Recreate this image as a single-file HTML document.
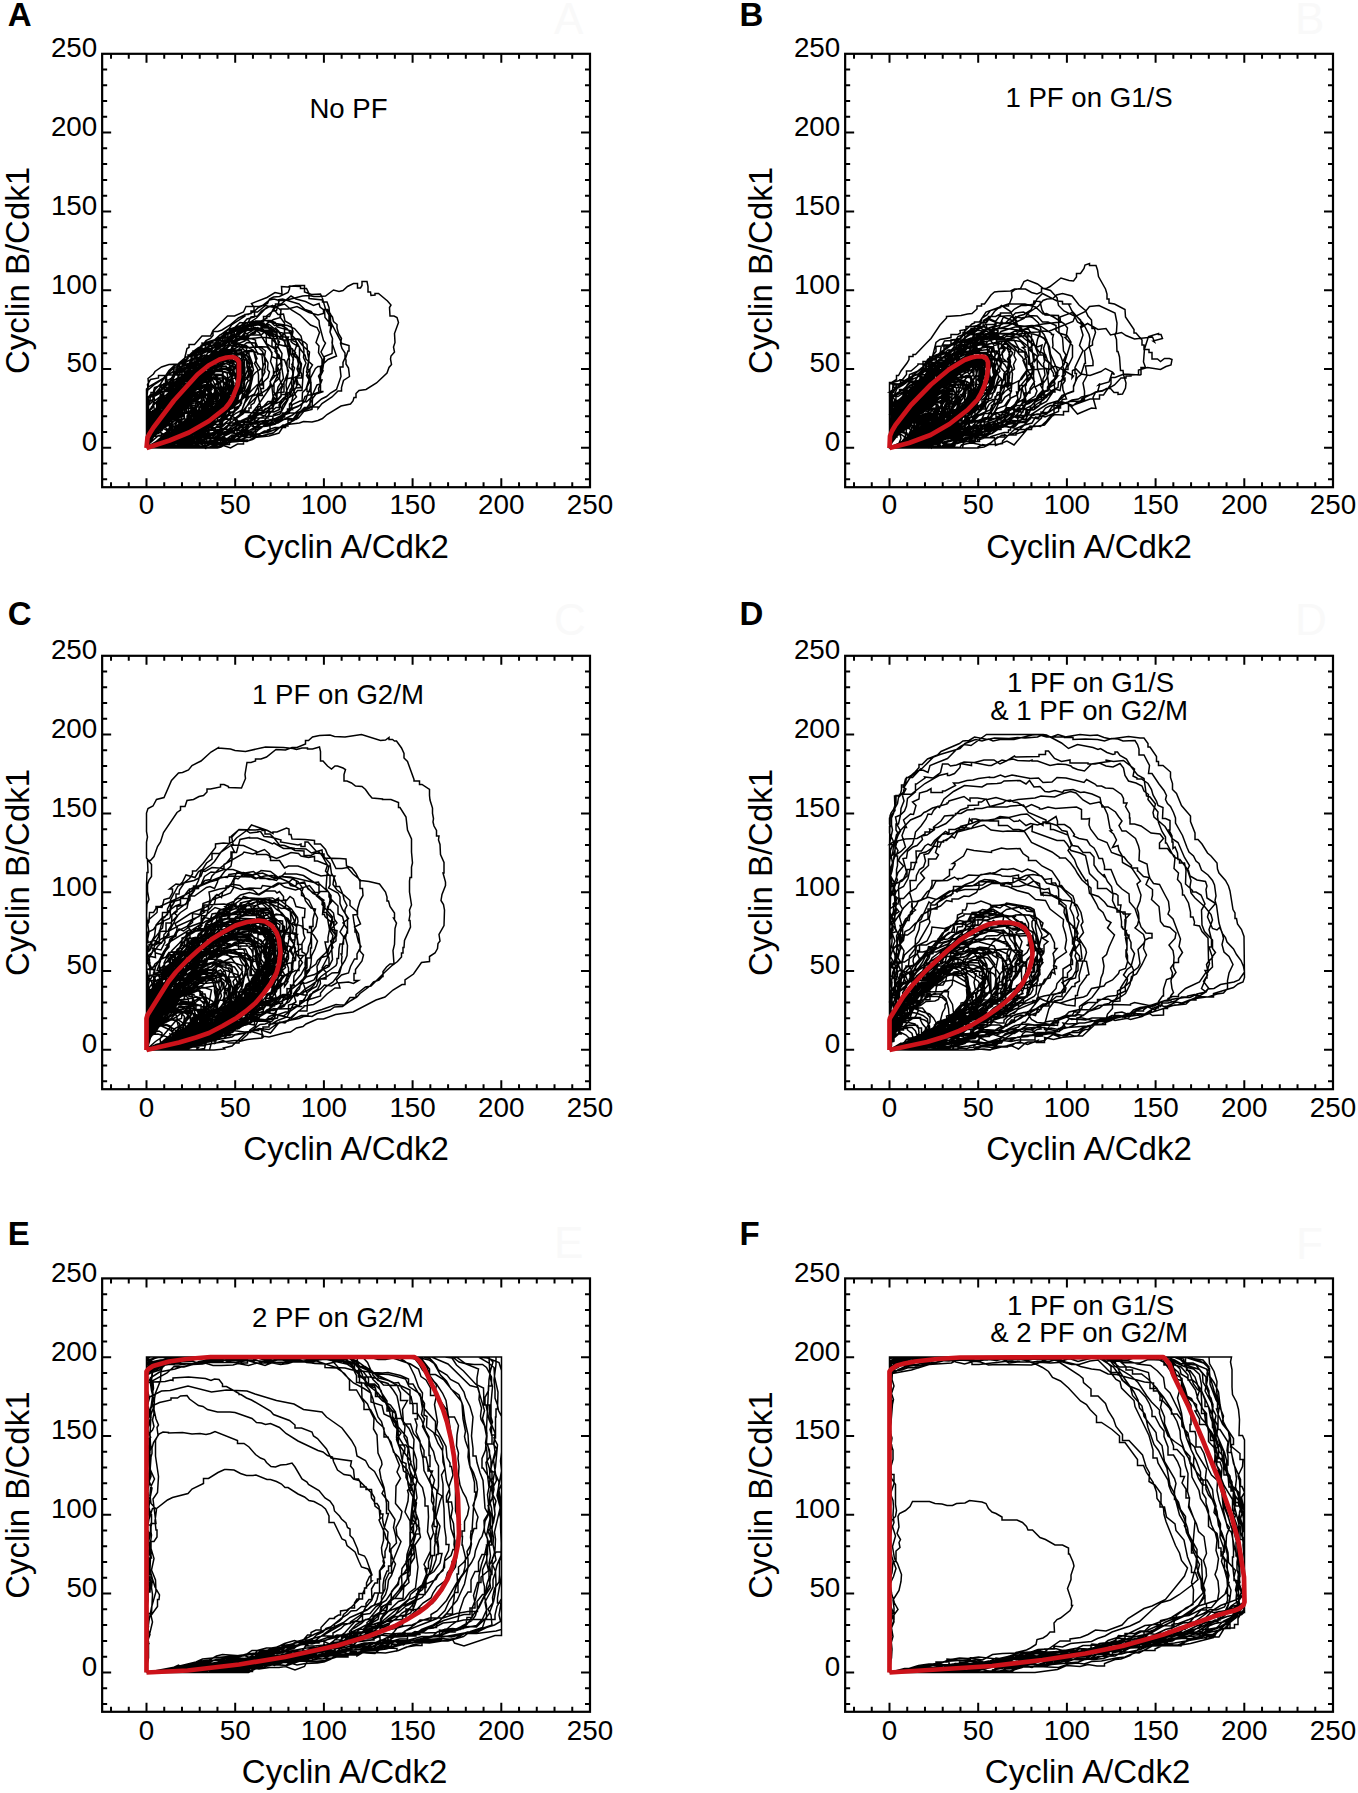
<!DOCTYPE html>
<html><head><meta charset="utf-8"><title>Cyclin phase plots</title><style>
html,body{margin:0;padding:0;background:#fff;}
body{width:1358px;height:1793px;overflow:hidden;}
svg{position:absolute;left:0;top:0;}
text{font-family:"Liberation Sans",sans-serif;fill:#000;}
.t{font-size:27.8px;}
.l{font-size:33px;}
.ti{font-size:27.6px;}
.p{font-size:33px;font-weight:bold;}
.fa{font-size:44px;fill:#f9f9f9;}
</style></head>
<body><svg width="1358" height="1793" viewBox="0 0 1358 1793">
<path d="M293 895l24-7 13-5 7-8 13 0 0-11 9-9 15-9 7-11 6-18-11 0 0-5-12 6-9 6-16 7-9 12-10 0 0 8-7 12-17 19-3 14M293 895l12-4 13 0 0-5 13-8 21-10 26-15 25-11 3-11 0-5 4-16-10 4-15 0 0 7-21 4-11 12-29 11-16 17-12 20-3 11M293 895l41-7 12-4 10-5 13-1 17-3 5-7 10-9 23-7 17-14 15-17 21-15 7-7 3-10 8-12 5-11 2-11 5-16-10-24-15-13-16-1-11 3-13 7-20 5-25 29-12 23-20 15-3 0 0 9-25 34-16 13-2 10-6 4-8 0 0 10-11 21-1 12M293 894l12-1 35-9 8-10 13-5 13-1 14-15 8 0 0-6 9-7 6-13 0-17 10-9-1-4-12-13-27 20-15 1-14 25-15 12-7 2-11 7-9 11-13 22-4 11M293 896l29-8 13-6 18-6 11-7 10-14 13-3 4-6-11-1-16 4-10 7-17 6-13 8-7 1-18 16-6 9M293 896l27-7 15-6 9-6 8-11 9-7 10-3 12-14 15-8 12-25-2-11-10-8-13-3-11 5-9 9-16 28-10 7-14 4-8 11-11 7-11 23-2 15M293 896l32-9 13-7 13-3 27-13 10-2 6-12 7-5 2-9 13-14 10-5 2-3 23-22 10-5 0-9-3 0 0-9 10-30-4-12-28-10-9 4-15 4-18 15-22 23-6 0 0 16-6 13-12 8-5 10-5 13-4 24-26 11-6 9-9 28M294 896l27-8 24-12 3-13 12-6 4-7 14 0-1-26 5 0 0-8-5-11-19 5-10 7-6 9-8 6-13 9-17 21-5 10-5 11 1 12M293 896l11-5 25-1 0-2 26-16 3-13 33-22 8 0 0-9 9-5 12-12 7-11 5-14-3 0 0-11 7-12-2-10-8-5-18 0 0 7-13 6-5 0 0 11-8 11-28 23-22 34-5 3-5 14-12 6-7 7-5 10-4 16M293 895l25-5 23-7 23-4 10-12 15-7 12-12 8-3 11-8 5-14 12-7 9 0 0-9 3 0 0-10 2-6 3-18 12-4-3-13-5-10-10-3-22 0-16 6-5 7-14 5-12 20-22 16-7 0 0 7-7 5-5 12-9 13-8 6-10 0 0 10-8 9-7 24-3 0 0 12M293 896l10-4 12 0 0-5 10 0 0-4 11-5 16-6 14-2 8-8 14 0 0-8 8-10 16-10 16-16 10-13 6 0 0-10-11-33 1-5-18 0-8 5-23 15-22 24-11 7-7 10-5 0 0 13-25 20-12 21-10 23M293 895l13-3 12 0 0-3 12-5 6-9 10-9 8-11 11-11 10-6 6-17 4-5-15 1-11 10-12 7-12 5-22 24-8 0 0 10-7 10-5 13M293 895l16-3 37-3 14-7 15-3 14 0 0-1 13-1 20-10 20 1 0-12 11-10 6 1 4-13 8-7 13-7 6-15 9-12 10-5 9-20 6 0 2-37-2-21-16-7-13 0-17 3-10 7-17 2-29 13-2 11-12 6-9 9-9 4-6 10-9 0 0 9-13 0-3 11-17 14-1 0 0 14-2 3-11 10-9 0 0 13-20 25-6 28M293 896l24-9 21-19 11-12 5-12 8-6 12 0 0-6 13-2-1-12-4-11-12-1-12 7-3 0 0 13-22 17-6 8-17 15-14 19-3 10M293 896l11-3 12-5 13 0 21-9 16-12 3-7 16-5 8-9 12-7 2-7 20-17 4-2 3-23 10-4 3-15-1-26-7-6-15 8-50 2-3 11-33 29-7 8-3 8-8 7-11 17 4 10-5 10-5 16-6 9-4 22M294 896l30-18 5-9 7-9 12-7 7 0 36-27 4-18-3-3-2-14-4-12-6-7-8 2-22 14-21 23-4 10-11 6-5 10-3 14-6 8-4 12-3 12 0 12M293 895l14-2 15-5 15-8 19-21 10-7 5-9 26-24 13-27-11-14-15 1-11 5-5 13-9 10-13 9-18 16-10 0 0 9-17 28-6 14-2 12M293 895l24-6 9-5 11-9 20-8 12 0 0-6 15-7 9-7 6-10 19-9 21-20 2-10-1-16-7-26-14 0-20 15-10 10-5 9-13 12-7 14-8 10-11 1-11 7-19 18-4 11-9 11-9 21M293 896l22-5 13 0 0-4 14-7 30-20 10 0 0 1 3-5 20-5 8-5 12-3 10-22 8-7 10-11 14-28 10-12 4-11 2-10 4-15-3-9-2-9-22-10-19 3-6 4-11 0-25 29-13 0 0 8-20 41-7 4-11 11-7 11-9 7-8 19-8 8-17 29-5 23M293 895l13-4 12 0 0-3 26-14 6-11 10 0 0-9 10-10 8-6 5-12 9 0 0-9 9-12 5-18-11-11-14 4-12 7-11 14-13 0 0 11-5 0 0 13-10 6-19 20-17 33 0 12M294 895l24-7 10-6 17-6 11-12 25-7 18-9 21-2 6-4 9 0 0-9 12-5 10-9-1-11 8-13 5-4 6-14 0-13-6-16-4 0 0-7-11-3-22 0 0 2-21 6-15 12-7 3-12 11-17 10-16 21-4 0 0 9-8 10-6 10-13 9-9 23-7 7-4 24M293 896l26-7 11-5 42-12 13-5 20-14 7-11 8 0 0-4 9-7 7-9 9-10 18-8 11-10 12-21 2-9-2-31-5-12-6-8-13-1-14 4-17-6-17 13-10 12-5 0 0 7-9 11-11 26-26 30-19 18-9 0 0 12-26 35-6 22M294 895l13-1 13-6 11-8 10 0 0-8 6-13 12 0 12-6 24-5 7 0 0 1 3-11 6-12 5 0 0-14 9-6 2-13-7-3-16 0 0 3-13 4-8 8-15 8-10 3-10 0-10 10-11 8-12 12-5 14-9 12-4 12-4 0 0 12M293 896l27-9 11-6 18-5 10-8 15-3 14-8 20-7 11-9 13-17 14-8 12-9 11-22 4 0 1-23-2-30-7-8-16-2-7 8-20 7-7 12-8 6-9 17-14 11-10 0 0 14-8 13-8 0 0 5-9 10-14 8-31 33-11 30M294 896l21-7 21-11 4 0 0-11 8-9 27-21 3-30-5-9-6-3-13 0 0 10-39 27-9 28-11 23-2 0 0 12M293 896l25-9 11-6 20-6 9-11 11-8 11 0 0-3 16-10 0-9 16-19 5 0 0-10 2 0 0-11-12-9-13 1-7 3-11 9-5 8-2 0 0 9-11 1-11 15-18 11-10 10-6 12-15 20-5 12M293 895l13-3 21-10 21-16 25-8 9-5 8 0 0-5 17-3 11 1 9-15 9 0 0-6 9-10 0-7 4-9 2-32-5-5-10 3-9 6-19 3-11 9-9 3-9 4-9 9-24 15-7 7-15 18-2 6-12 19-7 10-5 0 0 12-5 0 0 10M293 896l15-5 30-15 28-4 25-13 19-17 0-11 8-12 5 0 0-13-8 0 0-15-12 0 0 3-11 8-15 3-14 10-4 13-22 18-8 2-6 12-12 0 0 8-14 17-3 11M293 896l42-8 14 0 10-8 11 0 14-5 12-3 12-5 20-17 2-15-1-4 4-14-1-15-1-8-14-3-15-1-16 8-9 6-3 10-8 5-13 20-19 13-19 5-8 0 0 8-6 0 0 11-4 0 0 9-4 11M293 895l41-14 27-19 5-11 9-11 3-6 0-10-8 0-8 5-17 9-14 4-7 0 0 7-11 12-8 14-8 10-4 10M294 896l34-10 12 0 13-7 13-4 8 0 12-6 14-11 8-1 4-11 12-9 23-13 10-5 19-28 3-16-6 0 0-12-4-13-1-10 4-7-13 0 0-8-50 10-17 6-9 11-12 7-5 0 0 5-6 5-9 0 0 12-22 18-1 22-6 7-9 13-5 11-1 8-14 15 0 21M293 896l24-7 11-6 14 0 0-3 38-16 24-1 25-14 14 0 0-6 5-10 9-3 13-10 13-13 0-11 2-7 1-12 2-8 0-11 12-31-17-20-12 2-5-2-19 6-15 13-7-5-17 12-20 10-6 10 1 11-5 9-9 8-7 3-20 23-11 4-14 9-4 7-10 0 0 15-5 13-1 11-4 8 0 22M293 896l28-5 11-5 15 0 0-5 27-8 14 0 11-5-3-2 13-4 5 0 0-4 10-9 9-24 7-7 15-7 14 0 0-5 7-7 2-10-2-25 11-11-2-16-6-8-3-14-19-1-8 3-18 7-23 14-14 4-10 5-6 27-6 6-6 0 0 4-14 0 0 10-5 9-9 9-19 14-11 21-3 6 0 9-9 11-3 12 0 10M293 895l34-10 8-6 15 0 0-7 25-5 4-7 11-9 6 0 0 3 8-8 17-7 6-10 12-12 12-5 15-12-3-12 4 0 0-9 12-30 2-13 3-1-1-10-16-2-7-4-16 1-19 4-8 7-10 2-8 10-24 6-13 0 0 10-7 8-5 2-6 13-2 14-8 2-5 10-9 12-3 15-16 22-5 13-3 26M293 896l25-9 13 0 0-6 12 0 0-6 10-3 14-7 10-1 14-3 7-9 15 1 14-6 4-14 7-10 16-9 6-10 6-20-1 0-1-28 4-8-3-28-6-8-8-2-24 10-23 6-14 23-3 10-12 0 0 10-9 0 0 7-15 9-3 11-16 21-3 12-7 5-9 0 0 9-4 11-11 20-4 11-1 10M293 895l39-13 13-12 7-10 8-5-11 0 0-3-29-2 0 6-24 29-2 11M293 896l37-7 17-1 16-6 16 0 0-6 23-9 10-10 19-2 8-8 6-10 10-8 3 0 0-9 10-5 7-12 7-4 3-5 10-9 4-12 2-18 6-15-2-9-5-15-2 0 0-12-8-3-9 8-18-4-24 10-31 18-17 6-8 10-9 3-9 9-18 21-4 9-13 0-1 9-6 14-7 9-4 15-6 11-4 15-7 11-2 21M293 895l43-13 28-14 15-3 18-2 9 1 9-2 30-12 14-11 9-15 9-8 4-9 1 0 0-9 10-9 5-16 3 0 0-14 3-15-4 0 0-14-7-10-25-6-21 10-16 14-5 8-9 8-16 8-15 4-7 10-8 0 0 13-15 25-11 7-14 6-9 11-5 10-10 14-10 11-3 21M293 895l10-3 7-4 13-12 11 0 0-11 9-19 6-22 12-15-14 15-11 7-17 16-8 5-18 32 1 12M293 896l39-14 17-12 9-4 17-13 9-12 10-8 16-7 13 0 0-7 11-13 3-13 6-9-3-17 6-9 2-5-12-4-15 1-11 3-10 9-13 8-26 11-19 27-7 7-9 0 0 6-11 8-5 8-5 0 0 12-10 21-2 26M293 896l15-2 26-9 18-13 4-7 12-9 17-23 9-9 9 0 0-20 5-8-6-11-19 0 0-2-20 13 0 11-10 17-2 9-12 11-10 7-5 10-11 2-8 8-7 12-5 13M294 896l26-8 11-5 14-4 14 0 0-7 25-3 12-12 3 0 11-6 16-6 2-8 8-9 15-6 23-19 0-13 3-4 6-14 1-17-4-10-6-9 3-12-22-1 0-8-53 18-9 7-10 4-15 11-13 17-7 28-6 9-10 6-10 8-9 2-2 7-12 20-4 20-2 0 0 24M293 895l13-3 14 0 0-4 20-11 7-9 12-9 10-3 3-9 10-15 10-11-2-11-15 1-8 9-14 7-13 0 0 9-11 8-5 8-6 7-12 8-10 18-3 10M293 896l21-6 14-6 6-11 7-7 13-7 27 0 5-11 17-10 8-10 13-12 15-10 4-6 6-17 5-9 2-17-2-11-16-6-31 6-7 6-8 12-14 11-3 7-9 10-6 12-34 26-2 14-7 5-4 0-8 10-9 15-3 12 0 10M294 895l35-12 20-15 17-2 7-9 21-14 16 0 0-3 10-6 1-11 5-14 10-6 6-7 3-19-19-4-23 11-9 14-13 6-13 3-12 16-1 6-18 18-12 7-9 9-8 0 0 7-7 8-8 17M294 896l10-4 26-4 28-11 11-3 7-11 3 0 0-5 8 0 0-6 13-7 15-1 9-8 34-16 1-29 9-25-11-27-5-7-25 4-6 8-17 13-14 7-12 17-17 21-5 13-16 11-4 18-10 6-24 23-9 23M294 895l10 0 0-4 16-4 20-18 11-5 12-11 3-6 10-2 8-12 6-14 3-21-5-7-14 2-9 5-5 0 0 7-10 10-3 6-10 4-9 13-5 10-12 11-8 12-8 0-2 25M293 896l30-6 18 0 0-3 28-15 32-13 12-8 11-2 18-12 9-9 5-14 7-6 12-9 2-10 11-13 1-13 8-15-1-13-2-6 3-11-4-10 0-17-19-3-10-2-11 12-16 6-24 26-17 4-9 10 0 8-23 17-19 21-11 25-13 16-2 7-20 32-6 26M293 896l16-10 21-9 8-9 14 2 18-12 10-11 9 0 0-7 12-8 11-6 12-2 9-3 5-5 3-8 7-8 5-12 9-11 5-11-2-8 5-2 2-6-7-12-9 2-16-3-16 8-10 11-14 3-14 7-15 4-33 14 0 7-4 20-8 13-6 21-11 5-3 7-3 0 0 9-5 11-2 10-3 9M293 896l13 0 0-4 39-13 15-3 18 0 0-6 16-18 12-7 16 0 0-11 14-14 12-6 12-8-4-8 1-29 6-9-2-16-7-4-9-3-12 4-8 8-14-1-5 8-11 9-9 5-18 22-11 0 0 12-6 10-6 0 0 10-21 23-17 21-11 8-3 19M293 895l38-15 14-10 4-5 11-6 10-11 7-9 37-28 5 0 0-5 3-14-4-14 5-21-43-2 0 10-8 9-1 12-12 0 0 10-7 2-5 6-19 30-3 10-24 26-6 13-2 13M293 896l40-14 8-8 25-16 22-18 14-7 10-11 13-10-5-3 1-9-3-13-9-13-10 7-8 13-11 0 0 10-7 7-13 8-12 14-10 5-7 7-8 0 0 11-11 10-19 30M293 896l10-3 13-7 13-4 10-9 4-9 10-11 10 0-1-31 10-13-2-7-4 7-14 10-18 7-1 10-9 10-4 10-10 9-14 19-3 11M294 896l35-8 14-8 13 0 0-6 13-5 8-8 17 0 0 3 16-11 5-18 7-12 4-14 2-12-14-9-12 0-15 5-17 15-19 3-13 12-11 20-19 19-11 21-4 12M294 895l28-7 11-4 17-17 13-3 9-6 11-11 2-8 10-16 14-30 5-24-9 1-13 4-2 6-27 25-12 10-4 0 0 12-14 8-14 11-2 7-17 21-5 11-2 10M293 896l23-5 9-4 20-13 13-20 5-18 7-17-7-5-19 0-7 10-15 9-9 9-1 0 0 11-12 18-5 11-1 14M293 896l37-6 12-6 16-4 11-10 14 0 0-9 9-4 20-14 17-19 2-4 3-31-4-14-7-8-21-14-14 9-7 7-16 26-1 7-5 7-7 4-8 17-10 8-10 12-6 0 0 10-8 6-8 9-9 21M293 896l12-5 12-2 29-11 17-13 16 0 0-4 6-8 3 0 0-4 12-12 24-10 9 0 0-12 11-2 10-10 10 0-1-15 5-12 6-11 6-7-4-18-1-13 3-12-10 0 0-4-16-3-13 0 0 4-16 7-7 6-15 1-5 11-10 12-6 15-2 16-12 16-9 7-4 9-15 4-11 15-9 18-8 6-8 10-5 10-3 10-1 11M293 896l26-2 0-2 26-19 4-6 11-9 7-9 10-4 6-13 0-14-10-3-11 1-8 9-23 12-23 26-12 21-3 12M293 896l30-10 10-5 10-8 14-6 2-6 39-13 7-6 13-8 5-6 9-15 11-6 11-13 6-8-1-8 4-9 1-12-1-9-4-10 1-9-6-13-4 0 0 4-13 0-9 4-14 0-6 16-10 16-4 13-17 34-13 2-3 7-16 19-20 13-5 0 0 8-22 22-5 21M293 895l12-1 41-12 23-18 15 0 0-9 37-30 5-11-2-11 13-12-3-10 7-5 0-13-2-7-10 0-14 1-19 5-13 8-3 11-18 12-13 10-6 9-19 13-9 19-6 6-11 22-4 12 0 12M293 895l13-3 24-10 7-6 12-6 8-8 8-4 5-13 13 0 0-34-3-16-15-1-6 4-9 11-6 0 0 10-4 12-21 12-6 7-7 11-7 13-4 10-1 11M294 896l23-6 8-6 9 0 0-9 8-11 9 2 22-17 16-31-14-9-13 10-15 14-17 4-7 4-6 13-9 9-12 21-2 12M294 896l20-5 12-4 19-13 4-5 11-1 19-12 6-16 13-5 10-10 1 0 0-15 7-17 5-21 3-22-1 3-12-1-11 8-5-1-35 27-15 8-5 15-15 14-12 21-8 20-8 11-4 9 0 12M293 895l40-9 12-6 28-6 2-5 11-11 13-5 12-2 15-10 10-10 8-12 1-13-1-31-8-13-16-8-11-1-9 6-11 0 0 10-12 15-6 16-12 1-4 12-11 9-22 23-11 0 0 12-4 10-7 9-7 19M293 896l23-12 11-3 8-5 4-10 9 0 0-8 29-9 13-9 11-4 3 0 8-4 6 0 0-9 4-12 6-7 9-7 0-13-5 0 0-10-8-16-15-1-25 14-3-1-7 20-6 5-5-2-7 7-21 25-6 6-15 19-9 16-6 7-6 22M293 896l11 0 0-4 27-3 11 2 18-9 29-7 5-7 10-8 10-5 11-4 5-6 14-5 7-5 6-7 3-13 7-12 8-11 14-11 4-14 4-6-8-8 1-19-13-10-17-4-12 0 0 2-10 2-20 8-11 8-23 27-11 9-15 24-8 0 0 15-11 6-6 8-10 4-2 11-13 8-5 0 0 10-5 5-4 10 0 19M293 895l13-2 11 0 0-7 10-6 21-8 19-4 14-9 33-14 5-11 9-8 16-17 14-22-2-11 4-17-15-3-18 0 0-2-16 16-9 6-6 10-39 23-14 21-13 9-5 1-11 9-6 4-7 9 1 6-6 8-3 9 0 11M293 895l10-4 19-16 10-5 10-12 7 0 0-6 24-3 13-10 8 0 0-9 16-11 7-11 1-12-2-9 8-8-8-12 3-12 1-20-13-12-6-1-20 8-10 9-11 0 0 7-4 12-21 21-6 3-14 20 1 8-1 9-7 15-7 11-1 10-4 9-3 9 1 22M293 895l60-22 35-31 8-3 14-23 3-13 6-10 2-11-3-12-9-8-16-4-17 8-8 9-2 12-12 7-8 0 0 8-11 8-8 9-6 14-2 18-10 9-7 11-7 14-2 0 0 11M293 896l37-12 9-6 11-2 25-13 9-8 17-8 9 0 0-5 14-8 12-11 10-4 8-10 8-14 5-4 2-19 5 0 0-10 3-13 6-14 1-8-1-28-37 5-15 5-10 0 0 11-14 9-10 10-12 7-5 10-13 7-1 9-9 7-18 28-7 17-12 11-20 25-6 10-1 26M293 895l25-5 10 0 0-3 12 0 0-2 28-8 4 0 0-5 12-10 9-15 7-3 3-12 13-4 8-11 0-9 4-11 7-9-4 0 0-10-11-5-28 1-11 6-25 8-11 9-1 10-13 8-5 11-7 12-8 0-2 18-6 8-3 0 0 11-5 11-1 9M294 896l10-4 10 0 0-6 13-6 18-13 11-2 12-6 15-10 6 0 0-12 9-6 10 0 0-11 7-10 5-24 0-9-11 3-16 8-5 9-10 5-4 7-20 21-10 3-13 0 0 15-8 9-9 0 0 7-17 20-4 11M293 895l27-8 17-3 3-8 8-10 13 0 0-10 11 0 0-10 17 0 0-12 24-13 6-11-1-17-3-18-8-4-41 25-15 5-10 9-33 51-8 0 0 11-5 12-2 11M293 896l13-7 14 0 0-7 21-22 3 0 0-18-3-17 2-9-17 14-18 25-5 13-8 13-1 13M293 896l14-4 13 0 0-4 23-11 16-5 10-7 17 0 0-4 16-4 9-9 29-6 24-30 5-15 9-8 5-14-4-5 4-15-1-13-15-9-15-6-40 17-8 6-12 4 1 4-7 15-9 10-11 6-3 10-3 16-13 13-8 14-10 3-14 16-15 14-7 21M293 896l31-11 10-7 7-6 13-4 12-6 18-3 17-5 9 0 0-12 23-8 7-7 6 0 0-7 18-5 14-26 3-19-5-10 0-19 1-6-4 0 0-13-12-1-4-3-15 5-36 31-14 20-2 0 0 6-11 12-16 3-13 0 0 7-4 12-17 13-2 11-7 10-3 10-9 10-6 0 0 8-9 19M294 895l23-7 10 0 0-4 6-6 19-13 24-19 13-5 11-10-4-10 6-12-10-8-16-1 0 7-16 11 2 6-6 13-6 4-7 6-12 1-18 18-6 4-7 8-5 8-1 9M293 896l36-20 8-10 7-15 11-9 5-9 6 0 0-6 6 0 2-22-5-14-5-4-7-1-14 9-9 12-8 6-10 13-10 21-1 11-7 10-4 13-1 15M293 896l26-7 38-20 13-11 25-17 2-6 16-22 1-3-18-8-12 1-13 7-21 19-25 27-15 12-13 11-4 8 0 8M294 896l29-8 26-1 0-9 24-18 11-3 15-7 8-11 19-9 18 0 0-12 13-19 7-22-5 0 0-11-3-8-12-9-25 8-14 0-18 18-9 4-6 11-6 0 0 8-8 11-8 15-7 7-7 6-12 13-10 8-6 8-8 7-6 11-1 12M293 895l43-26 10-9 23-25-1-10 4-11-18-5-7 9-12 11-10 7-15 24-6 14-7 9-4 0 0 13M294 896l11 0 0-6 14-5 14-3 17-13 28-12 8-10 9-4 9-8 13-19-3-13-5-14-7-9-13 8-7 10-12 12-6 8-6 6-10 5-10 0-1 11-12 9-7 11-11 8-7 8-7 20M293 896l40-9 21-9 13 0 0-3 7-12 4-11 6-7 10 0 0-6 12-9 9-11 8-5-2-9 12-28-9-7-11 0 0 3-11 12-14 3-15 11-8 4-4 6-13 5-7 10-9 1-3 10-12 3-19 36-3 10-2 11M293 896l10-4 17-12 10 0 0-8 23-4 4-6 8 0 0-5 2-5 9-7 9-4 13-9 9-12 5-10 8 0 0-10 5-12 11-8 0-16 9 0 0-20-4-19-15-7-17-2-12 0 0 7-13 6-5 0 0 6-3 0 0 11-3 0 0 6-11 5-9 8-9 12 2 0 0 8-8 13-15 3-8 10-5 11-2 13-6 13-2 13-6 0-1 35M293 896l46-20 8-7 8-12 16-4 15-2 14-4 6-8 13-4 28-22 11-10 1-8 13-7 6-13-3-8 9 0 5-27-10-10-19 5-16 2-32 15-5 5-11 7-13 3-20 25-13 11-11 19-10 8-13 27-17 17-6 22M293 896l12-3 13-1 23-10 8-8 10 0 0-7 10-9 29-1 0-12 8-7 2-13-4 0 0-9 10-9 9 0 1-17-5-17-14-2-9 5-13 4-8 0 0 10-13 5-6 11-15 5-9 11-14 8-4 7-7 20-11 17-3 10 0 12M293 896l31-12 12-6 10-3 14 0 0-5 13-5 13 0 0-7 11-9 14-25-6-18-13-5-17 7-11 12-10 0 0 6-23 23-9 0 0 11-7 5-11 11-11 20M294 895l9-2 19-7 12-9 20-7 1-3 14-5 9-5 14-12 5-15 11-2 2-15 7-7 1-23-1-16-11-10-13 5 3 8-11 7-8 10-6 15-6 9-9 6-2 0 0 11-7 8-15 0 0 9-25 15-11 19 0 6-3 10M293 896l13-4 38-20 11-6 2-7 21-9-2-7 6 0 0-17-14 1-8 7-11 14-10 1-17 9-17 17-8 10-4 11M293 896l31-14 10-8 11 0 0-9 17-6 9 0 0-11 13 0 15-5 9-11 10-9 14-8 5-8 9 0 1-27 5-12 0-7-9-12-15-1-12 5-34 20-4 13-16 15-6 0 0 5-12 10-9 13-13 7-17 21-10 27-2 11M293 896l12 0 0-4 13 0 0-6 8-9 17-24 0-16-8-6-12 6-12 22-8 9-10 27M293 895l11-5 14 0 0-5 23-14 10 0 0-5 6-7 17 2 9-9 16-8 10-6 25-10 12-10 2-4 23-16 4-14 8-19 2-9-2-7 6-12 0-14-4-14-12 0 0-9-26 9-14 3-36 30-17 2-7 12-17 12-7 16-8 6-10 17-12 13-14 29-2 11-9 10-1 26M293 895l13-2 26-11 23-25 16-4 14-5 9-10-1-10 6 0 0-9 3-13-14 0-10 3-11 6-12 5-6 11-11 11-12 3-11 20-10 8-9 12-3 11M293 896l12-5 12 0 0-5 13-4 9-8 10-5 14-1 17-5 8-8 16-10 15-4 17-8 6-12 2-12 1 0-1-29 8-8-8-11-14-6-5 4-27 10-12 20-15 11-29 31-24 22-14 18-7 12-4 12M293 896l0-63 6-7 27-10 12 0 12 2 10 7 3 10 0 14-2 11-5 12-17 24-46 0M293 896l0-48 5-8 11 0 0-5 16-2 25 6 11 9 3 11-11 24-8 0 0 11-13 2-39 0M293 896l0-13 2-8 7-2 11-1 7 0 9 2 2 6-11 15-27 1M293 896l0-21 2-9 17-8 7 0 5 12 0 19-8 7-23 0M293 896l0-43 2-10 13-11 29 1 0-1 14 3 16 11 1 0 0 18-6 10-9 22-60 0M293 896l0-40 10-10 12 0 0-6 13-3 13 0 11 5 6 0 1 14-2 13-8 12-12 8-11 0 0 7-33 0M293 896l1-33 13-8 12 0 0-1 9-1 8 6 0 11-5 14-6 10-32 2M293 896l0-16 8-9 8 0 0-1 11-5 3 1 7 6-4 6-1 6-7 0 0 6-9 4-16 2M295 896l-2-5 0-34 11 0 0-9 10-2 10-4 12 3 6 8 4 12-3 11-11 11-10 9-29 0M293 896l0-26 5-7 12-2 14 0 0-6 12 7 0 11-2 8-10 0 0 7-5 0 0 7-26 1M293 896l0-47 6-9 17-7 14-3 14 1 7 3 5 5 2 8-21 42-7 7-37 0M293 896l0-65 12-8 27-4 22 13 7 23 2 11-3 0 0 16-9 12-6 0 0 2-52 0M294 896l10 0 0-3 12-4 30-4 0-5 18 0 0 1 5 0 16-7 32-4 35-7 10-9 14-9-3-9 19-14 6 0 0-6 4 0 0-6 6-4 6-14 20-13 6-8 1-10 9-18 5 0 0-11 7-7-1-8-9-11-1-20-19-21-26-7-14 2-13 8-12 2-15 11-16 5-5 7-18 8-12 0 0 17-6 6-3 9-8 8-10 0 0 14-15 0 0 6-5 2-1 9-15-2 0 3-7 7-6 12 3 15-13 10-6 12-2 15-4 14-9 20-1 17M293 896l44-4 31 4 8-3 16-7 12 3 2-2 29-4 3-9 14-10 19 3 28-6 21-13 28-9 13 1 20-3 11 2 5-3 17-21 11-16-3-16-8 0 0-9 5-10 1-26 5-8-13-12-2-8-8-10-8-15-11-5-1-13-8-10-11-6-14 0-9-9-12 11-26 14-6 8-23 5-13 23-10 3-9 8-6 6-6 9-9 9-16 1-9 16-6 7-3 16-21 12-6 1-6 8-38 23-21 2-1-1 0 22 2 6-2 25 0 19M293 896l14-5 15 0 0-5 30-10 28-22 19-4 9-7 18 2 18-3 15-12 11 6 9-3 16-43 10-11 9-9 11 0-1-31 3-9 4-7-4-15-12 0 0-2-5-9-8-11-6-6-11-1-13 0 0 2-11 0-4 10-11 12-13 0 0 10-13 10-13 24 0 14-19 6-11 9-8 0 0 6-8 11-6 15-15 15-14 10-7 1-1 3 5 14-13 9-14 26-2 10M293 895l46-10 13 5 24 1 15-8 12 0 0-1 18-10 17-6 24 0 0-14 12-10 9 0 0-1 18-8 9-6 7-14 10 1 13-8 11 0 0-6 3 0 0-15 2-11 11-17-4-25-1 0 0-11-4-11-8-7 2-9-8 0 0-17-11-2 0-6-8-10-15-4-19 4-18-3-16 2-18 13-11 11-7 0 0 7-15-1-5 13-8-1-5 19 1 7-13 11 2 19-15 11-9 0 0 5-7 7-14 13-4 0 0 6-16 5 1 21-12 16-3 0 0 17-6 39M293 896l11 0 0-5 20-8 25-1 11 5 7-2 20-11 11 1 16-3 5-11 34-3 5-12 13 0 0-9 9-8 1-5 30 2 14-12 18-9 4-14 11-11 10-15 9-23-8-22-12-3-5-17 7-16-6-7 0-12-12-6-6-9-27-3 0-2-13 10-9 3-17 4-1 10-12 4-2 6-17 9-6 6-9 16-17 10-14 11-5 6-30 28-9 0-1 12-8 19-11 2-12 6 1 11-9 16-1 14-6 21-3 0 0 13-4 14M293 896l119 0 19-2 7-7 15-2 11-4 17-1 10-5 10 0 0-3 18-4 10-6 11 0 0-11 11-3 11-12 3-10 10 0 0-8 4 0 0-10 14-14-3-5-3-10 0-19-3-28 3-14-8-14-1-4 1-9-8-17-23-2-8-5-21-9-8 0 0 8-18 8-20 4-11 6 7-2-9 21-32 10-3 5-28 12-15 7-3 16-10 2-9 12-1 7-8 8-22-4-4 16-4 9-12 3-5 11-11 8 0 70M293 895l28-1 13 2 51 0 12-5 12 5-3-5 4 0 0-8 15-2 11-5 11 3 16-2 5-7 16-9 10-4 12-22 17-10 20-15 16-6 9-9 11-6 1-9 9-13 3-13 7-3-5-13 3-10-3-13-5-12 5-14-3-11-12-12-10 0 0-20-9-12 2-13-11-10-14 3-14 8-8 10-13 2-16 30-9 2-17 13-4 10-13 9-23 17-11 0-11 15-16 0 0 15-12 0-7 12-10 5-11 19-9 8-11 13-24 36-2 4-3 0 0 52M293 895l69 1 25-5 10 4 17 0 0 1 6-2 17-8 13-2 4-5 16 1 19-10 17 0 4-3 10-11 24-12 3-15 16-7 0-5 3-7 11-14 6-4 13-25-3-11 10 0 0-9-7-11 3-26 0-16-13-7-4-4 4-20-4-14-12-7-3-14-11 1-8-10-3-8-13 5-19 20-12 8-12 2-9-1-26 24-4 3-9 2-11 12-13 0 0 7-28 12-1 7-4 0 0 10-14 14-6 0 0 13-2 10-3 5-16 6-23 0 0 5-3 7-9 10-3 11-8 8-4 17 2 11 2 21-3 13-1 23M293 896l131-1 5-4 1-7 10-8 22-10 22-13 6-8-3-5 21-4 29 0 2-22 8-12-3-27 20-43-1-14 1-11-8-13 1-6-2-11-1-10-23-14-28-6-13 9-20 3-12 6-17 13-10 1 3 8-16 6-7 7-24 8-5 5-10 1-15 13-6 19-7 13-7 6-28 10-4 16-5 0 0 12-7 2 0 9 5 5 0 29-3 13 0 17-2 16M294 895l135 1 18-7 12 0 0-6 10-10 7-4 18 0 11-2 7-8 19-8 12-4 16-12 17-10 11-9 12-5 12-9 4-13 5-11 2-12-1 0 0-10 10-19 5-4 8 0 0-15-7-13 1-13-6-7 7-20-5-10-13-5-21-20-17-10-14-12-13 4-10 7-7 14-12 0 0 10-28 4 1 4-9 9-11 8-20 22-12 11-11-5-10 12-18 12-6 7-1 9-19 5-14 12-22 12-2 9-22 1 0 8-7 25 5 15-18 23-4 12-1 13-2 0-2 25M293 896l27 0 13-2 45 2 14-5 15-8 10 5 5-4 13-5 18-1 11-8 10 0 0-9 6-5 7-2 8 0 0-18 20-24 28-41-3-8 11-12-4 0 0-13-6-15 3-14-3-9-8-11-14-23-9-6-6-12-26 4-23 8-10 13-21 26-5 3-9 1-11 11-13 5-5 7-7 29-14 11-6 18-22 14-5 8-8 4-5 11-9 0 0 13-11 34-1 28M293 896l22-7 7 0 0-1 10-4 8 0 0-2 21 0 2-4 7 0 0-4 7-4 21 10 14-2-1 0 0-4 18 1 13-9 15-5 25-1 18-13 8-3 5-12 14-8 21 0 11-5-1-9 7-12 6 0 0-11 14-30 10-5 6-8 2-16-10-18-8-4 0-8-10-6-5 0 0-11-10-3-13-1-1-11-9-10-13 0 0-7-15-5-6 10-11-3-10 6-2-2-6 13-12 2-14 15-11 13-8 3-7 6-1 5-12-2-15 9-9 10-5 10-12 5-21 0 0 26-5 8-28 10-8 0 0 11-10 6-3 0 0 90M293 896l81-1 10-12 9-1 5 3 17 1 20-23 6-1 14-11 10 1 19-8 15 1 11-8 7-16 7 0 0-5 12-13 17 0 9-10 0-12 3-8-6-15 1-13-6-14-1-14-10-4 1-8-10-11-23-1 0-13-9-3-11 0 0-5-12 2-14-6-14-3-1 6-19 8-16 5-4 0 0 15-16 2-3 12 0 10-19 5-11 5-8 0 0 17-21 0 0 8-4-3-8 13-10 10-8 15-7 0 0 9-3 9 0 84M293 896l19-11 12-2 8-3 10-7 22-10 8 0 0-8 6-9-3-2 9-3 11 5 12 0 0-12 9-10 10-2 10-11 12 0 0-4 9-19-4-27 8-9-4-12 4 0 5-15-2-11-7-10-13 9-19 0-6 14-15 1 6 1-12 18-8 6-14 0-2 14-11 2-16 10-1 9-7 30-16 22-10 8-5 11-10 12-5 25M293 895l31-11 34-8 9-10 19 16 18 2-7-14 15-19 9-8 20-10 25-20 9-6 16-14 8-10 7-32 5-6 10-7-8-12-6-25-14-9-27 1 0 5-4 1-5 12-40 7-11 11 3 7-16 12-7 17-17 23-5 0-9 8-4 19-24 17-2 11-11 11-14 19-5 11-2 11M293 895l21-1 32 2 0-2 10 0 0-3 9 0 3 5 22 0 0-6 11 2 20-4 20 1 20 7 14-8 12 0 0-9 6-11 6-7 10-6 27-3 20-8 7-4 14-22 8 1-3-10 4-17 9-11 9 0 3-43 5-12-5-11 1-12-2-14-4-17-13-15-14-6-29-5-17-6-12 5-10-2-15 3-18 9-8 7-8 2-14 9-27 14-13-1 0 10-10 17-20 10-7 6-13 11-11 16-6 4-6 7-3 7-13 11-13 0 0 3-9 11 0 97M294 896l22-3 15 3 24 0 8-6 23-10 9 9 14-12 16-8 7-14 9 0 0-15 15-2 17 0 0-4 8-6 13-16 11-20 17-5 0-10 5 0 0-13 9-9 3-11-4-5 1-13-7-13 2-11-9-7-16-1-13 2-15-3-31 15-20 1-16 4-7 8-7 0 0 13-9 10-6 13-5 1-4 15-28 13 1 10 3-3-11 15-14 5-18 19-2 10-8 10-3 11 1 33M293 896l142 0 7-2 12-7 8-8 28-16 20-20 7-4 1-2 11-5 7-9 10 0 0-8 5-14-5-10 11-6 11-1 0-20 4-6 14-3 1-12-9-9 1-14-5-26-16-31-7-7-6 5-17-1-13-5-20 12-5 0-4 10-7 3-10 4-13 0 0-3-5 7-14 2-17 10-9 12-12 9-12 4-12 6-7 0 0 11-6 3-13 0 0 7-6 13-4 15-10 2-8 28-7 6-14 16-6 0 0 15-1 3 1 46M293 896l40-10 12-6 13-10 23-3 14-4 11 1 0 5 22 2 16 11 24-5 4-4 16 0 0-2 5 2 10-12 12-7-10-1 6-9 18-3 13-17 10-9 9 0 0-6 8-10 11-6 4-13-1-22 6-22-5-7 2 0 0-12 5-12-15-15-2-7 3-9-11 0 0-8-15-3-9-7-9-4-11-7-4 4-8 2-20 0-18 11-11 5-17 5-7 10-6 12-26 13-6 16-12 6-7 5-7 10-21 23-23 0 0 10 3 4-12 12-12 10-3 9-7 10-4 0 0-2-1 5 1 31-1 0 0 40M293 896l41-9 33-1 0-2 6-4 11-5 11 0 32-10 4 0 0-1 11-1 9-5 12-14 24-17 6-14 22-21-1-3 4-5-3-14 4-5 11-21-1-4 2-6-2-19-4-12-10-10-3-7-18-1-25 20-14 5-12 1-14 5-16 19-6 3-8 10-12 4-19 0-15 25-12 15-15 12-8 13-1 0 0 13-13 4-7 5-2 10 0 16-2 21 1 10M293 896l43-6 10 2 14-4 10-1 12 3 8-3 18 0 0-15 19-4-2 3 13 2 16-9 7 0 0 2 18-12 12-5 25-21 17 5 13-1 14-4 16-29-4-29 4-23-2-14 0-10 5-11-1-9-5-10-20-5-6-14-17-10-17-5-20 2-9 11-19 4-18 0-8 12-6 13-7 0 0 11-11 0-14 9 3 9-8 16-21 9-11 12-5 10-6 0-10 8-10 11-12-3 3 11-17 4 2 15-3 0 0 5-7 26-4 17 1 12-2 13M293 896l10-3 10 0 0-4 13-1 11-5 11-2 17 4 5-4 16 8 10-7 11-10 12-3 19-8 4-6 4-13 7-5 7-13 9 0 0-8 12-5 4-16 11 0 0-18 4-7 1-10-1-8 1 0 0-15 4-10-7-18-22-20-17 3-12 11-3 0 0 13-11 7-14 23-10 11-7 0 0 10-22 9-2 5-13 11-14 18-15 0 0 12-5 5-6 0 0 4-10-2-8 0 3 1-11 19-4 11-2 35M293 895l12-3 13 0 0-4 14-2 13 0 0-11 29-17 9-12 21-12 11 0 11-5 13 5 6-2-1-6 6-12 14 0 0-12 13-26 2-10 18-11 0-4 6-8 0-3-9-4-1-18-6-10-28 5-19 18-26 12-10 17-2 17-13-1-6 8-2 7-9 10-17 15-16 18-12 7-8 11-10 19-9 0 0 6-4 0 0 8-3 11M294 895l38-11 29-2 13 1 15-4 15-9 11 0 0-5 12 3 5-7 19-5 7-5 9-1 10-7 20 0 0-11 11 0 0-11 14-4-6-26 9 0-8-26 0-15-2-12-6-11 5-10-6-14-9-2-10 2-16 6-14 10-20 4-10 12-13 0 0 9-7 7-14 6-12 14-34 24-12 5-11 26 1-2-16 20-8 11-2 10-7 10-1 21M294 896l9-1 30-5 20 1 10-5 15 7 14-1 14-13 21-3 33-13 10-9 25-17 13-5 10-6 5-1 8-8 14 0 0-7 19-21 8 0 20-13 10-1-3-6-6 0 0-9 8-28-2-15-6-1-9-8-3 0 0-14-6-16-6-10-6 3-7-8-18-14-16 0 0 8-17 1-15 3-2-1-11 5-4 6-13 12-6 12-10 4-6 6-3 14-23-2-11 12-5 21-15 12-14 9-6 8-6 1-8 12-11 10-14 7-5 12-9 3 4 15-2 6 0 6-8 0 0 10-5 11-1 15-3 8M293 896l14 0 0-2 26 1 7-2 19-2 10 3 25 0 0-8 19 0 0-1 17 3 25-2 16-4 10-10 31-44 9 0 7-2 17-11-2-12 4-5 7-2-6-12 0-18 9-8-4-10-1-9 2-23 0-15-21-14-1-12-12 0-28 3-11-2-7 7-12 0 0-9-12 0 0 5-18 12-14 0 0 7-16 4-16 0 0 5-9 24-5 5-3 5-12 0 0 3-1 0 0 11-29 20-6 11-11 6-14 3 1 6-4 10 0 85M293 896l12-1 12-4 12 0 25-7 19 1 14-4 9-7 18 1 10 2 12-2 5 7 6-9 5 4 11-1 10 4 16-13 27 1 22-4 21-9 29-14 6-6 6-11 9-9 11 0 0-12 3-13 15-6-1-7 5-12-5-13 8-11 4-24-7-13 9-18-4-5-8-30-1-10-16-18-12-4-12-11-33-10-10 2 3 3-5 18-7 1-14 11 2 3-21 11-15 3-12 5-2 5-22 0 0 15-10 13-17 10-17 7-13-5 3 5-9-2-14 7-9 0 0 7-15 10-12 4-11 10-6 9-1 7 0 10-8 12-8 5-7 9 1 6-11 3-5 20 4 18 0 11-3 9 1 13-2 23M294 895l13 1 31-4 19 2 14-4 5-3 25-8 12 0 0 4 25-4 10 0 0-11 21-3 0-5 7-12 10 2 24-2 30 0 16-2 13-8 16-8 16-13 9-24 7-3 5 0 0-23-1-8-8-15 3-10 3-30-15-14-9-12-12 0 0-16-29-8-3-9-10-4-12 0-33 9-6 11-14 0-4 7-11 6-11 0 0 7-14 0 0 9-9 5-8-3-11 7-5 13-6 8-5 2-4 8-29 8-11 14-3 14-17 1-22 24-5 2-2 12-6 17 1 30 2 15-3 15 0 13M293 896l16-1 13-4 10 3 14 0 13-4 10 5 15-5 13-14 19-3 6 3 26-1 14 8 14-1 18 1 15-8 29-3 20-6 9-14 9 0 0-12 9 0 10-14 29-7 1-22 7-9 15-5-6 0 0-13-2-14 7-14-2 0 0-14 5-15 15-6 1-30-5-13 2-15-12-14-1-14-9-7-2-7-11 4-16-8-19-5-10-6-20 16-11 0 0 5-8 1-12-3-16 13-6 0 0 10-15 4-14 16-21 7-9 30-12 4-26 21-7 8-17 9 1-4-5 6-34 7-17 9-16 0 0 5-16 3-6 10 1 9-3 13 2 13-2 17 6 18-4 16 1 12-2 0-1 29M293 895l18-1 13-5 13 0 12 7 14 0 0-6 12-7 5-13 16 4 14-7 6 0 0-1 10 1 16-10 17 3 12-7 14-4 6-5 13 4 47-11 12-6 15-11 18-7 13-10 4 1 10-10 11-24 7-2 3-8-3 0 0-27 15-14 17-7-9-26 1-9-5-13 4-13-6 0 0-21-7-12-6-21-4-9-18 1-14-5 0-13-18 0-16 3-12-1 1 15-14-3-16 10-31 12 4 6-15 0-5 11-18 8-14 0-29 29-5 11-17 0-15 17-11 0 0 6-4 2-5 21-12 10-19 1-15 5-13 9-3 5-11 9 1 10-4 34 2 18 3 16-5 0 1 50-1 10M293 896l88 0 29-3 11-4 23 0 0-3 25-12 2-5 17-8 18-1 23-17 16-2 26-12 9-3 13 0 32-12 11 0 0 3 8-10 20-13 12-12 7 0 0-7 4-14 12-8-2-17-5-8 0-8-1-3 5-15 2 0 0-11-14-4-23-44 0-15-6-9-8 0 0 8-11 3-18-5-24-12-18 5-14 0-1 17-14 4-11 6-6 5-5-8-14 0 0 7-22 5-38 31-5 5-10 4-8 8-14 1-20 8-17 17-10 3-17 15-5 13-13 1 0 10-10 13-3 16-16 15-4 10 6 19-3 14 0 9-8 17 0 13M293 895l63 1 11-2 18 2 8-6 17-8 4 3 9-4 35-1 7-8 10-5 9-3 14 1 14-2 12-8 9-10 16 3 10-14 10 0 2-9 8-2 6-14 15-7 4 0 1-17 7-7 6-19-5-8 6-12-5 0 0-4 4-15-3-14-1-17-4-4-12-7-33 2-9-8-19-10-9 3-6 5-28 0-4 12-10 4-7 0 0 9-10 10-10 3-9 5-14 1-24 6-11 17-5 1-8 14-1 6-6 9-9 8-32 8-20 1-17 9-4 14 0 88M293 896l10-2 24 2 19-3 23-1 0-2 10 5 11-1 23 1 13-2 23-8 27-2 0-4 10-1 7-3 33-4 20-5 20-16 33-4 8-3 17 1 12-3 9-4 9-8 28-17 19-4 5-6 2-7 4 0 0-8 6-6 14-2 21-13 21-20 4-11 5-6-2-11 1-6 7-8-2-10 3-9-1-18 8-22-3-10-6-3-8 0-1-17 3-5-7-8-18-15-7 0 0 3-8 1-1-7-5 0 0-11-2-10-10 0 0 8-3 5-6 0 0-9-8 0-12 6-9 8-8 2-11-3-16 12-12 1-11 0-11-2-12 1-35 9-12 0-10-3-9 2-14 11-7 2-10 0 0 10-11 6-7 0 0 3-27 18-6 9-7 6-10 5-19 17-12 4-7 0 0 5-17 10-16 16-10 7-5 9-7 0 0 5-7 4-17 13-13 8-15 13-2 9 1 22 3 0 0 37-4 10 0 37M293 896l63-1 30-3 10 2 28-7 9 0 0-2 25 0 26-5 11 0 0 2 10-3 9-5 10-9 11 0 0-5 15-5 21 0 0-6 10-4 24-24 7-5 13-3 18-15 10-5 8-7 12-7 9-26-2-19 6 0 0-9 4-9 0-10-6-9-3-10 2-10-6-10-3-11 0-7-7-6-2-9-6-8-1-11-4-11-9 0 0-4-27-3 0-10-5-10-12 0 0-4-22-1 0 6-3 7-17 8-12 1-8 4-4 9-18 8-8 7-7 0 0 5-11 2-14 7-17 14-16 10-8 3-10 0 0 8-5 6-9 4-8 11-8 4-11 8-7 7-4 8-9 9-6 0 0 4-11 3-22 22-28 16-5 5 0 99 1 10-1 0 0 8" stroke="#000" stroke-width="3" fill="none" transform="scale(.5)"/>
<path d="M293 896l46-15 39-16 40-23 33-26 8-10 6-10 10-25 3-17 0-22 0-8-3-5-6-4-6-1-10 1-14 4-22 12-22 18-47 52-41 54-7 11-5 9-2 21" stroke="#cc121a" stroke-width="9.4" fill="none" stroke-linejoin="round" transform="scale(.5)"/>
<path d="M1780 896l13-4 13-1 21-14 29-26 14-8 2-12 18-36-6-3-9 3-9 12-6 0 0 8-16 6-15 0 0 9-10 5-30 35-6 12-4 13M1779 895l21-7 13-3 8 0 0-6 10 0 0-6 12-4 17-12 5 3 27-12 32-27 9-18 4-17-2-11 13-18 5-9-2-11-10-5-20-5-6 0 0 18-19 6-15 1-17 11-9 9-10 5-15 19-3 6-2 11-8 10-7 17-12 17-7 7-7 0 0 9-5 22M1779 896l36-7 10-4 14-11 12-3 9 0 0-7 9-4 10-10 14-11 9-12 2-16 6-11 0-14-4-10-16 2-15 5-5 0-13 14-10 6-8 3-11 10-13 10-10 14-9 6-3 13-13 25-1 12M1779 896l36-12 12 0 0-7 12-7 9-3 12 0 0-5 7-2 21-2 0-7 5 0 0-13 24-13-2-16 5-12 7-7 7-12-6-11-9-5-20 10-11 7-13 12-12 6-14 0 0 11-7 13-7 10-23 9-10 0 0 4-5 8-11 5-3 0 0 19-4 9 0 10M1780 894l15-1 27-9 12-11 15-23 5-11 10-3 7-15 3-15-21 0-19 1-5 4-16 26-11 12-21 33-2 13M1779 896l10-4 10 0 0-4 9-8 4-10 1-13 6 0 0-16 9 0 0-10-12 6-2 7-10 12-10 7-9 0 0 10-4 10-2 12M1779 896l13-4 12-2 17-6 10-2 30-11 15-3 7-4 8 0 22-27 11-6 16-13 2-11 7-1 9-22 8 0-2-21-11-13 2-10-9-6-14-1-9 4-4 6-15 6-11 9-9 11-17 9-9 10-3 5-29 28 1 5-10 6-6 14-13 10-14 17-4 23M1779 895l9 0 17-10 22-10 16-21 22-19 8-11 17-25 0-10-18-8-14 0-3 11-14 12-10 6-9 0-4 15-12 8-5 12-2 11-7 8-11 22-2 9M1779 896l24-7 10-8 7-8 14-5 26 0 8-3 9-8 12-6 19-11 8-12 8 0 0-8 11-13 5 0 0-13-3-13 5 0 0-17 7-7-3-13 2 0 0-14-11-7-16 0-14 4-4 4-18 4-10 0 0 8-9 3-11 9-7 7-14 19-14 9-3 0 0 9-16 33-4 12-7 12-7 0 0 13-4 26M1779 896l48-9 11-9 13-5 8-11 17-12 8 0 0-7 18-5 4-8 3-10 14 0 0-7 11-4 6-1 12-18 5-5 1-13 6-18-2 0-2-21-7-5-27 5-14 0-7 7-12 4-7 0-3 10-10 10-14 9-16 0 0 10-24 34-12 10-3 17-10 11-12 19-3 22M1779 895l23-6 17-10 4-17 0-7-8-9-9 2-4 2-3 9-5 5-12 20-3 12M1779 895l31-5 15-4 15 0 15-4 22-1 8-5 18-20 5-10 16 0 0-8 5-12 5 0 0-10 42-50 4-12-4-20-11 0-19-4-26 17-13 0 0 7-6 4-20 6-6 8-9 4-4 13-11 6-8 10-10 0 0 5-16 9-17 18-12 18-7 0-2 17 0 24M1779 895l42-6 10 0 0-1 17-5 10 0 0-6 8-10 13-8 27-5 8-13 11-10 32-17 11 0 0-10 4-9 16-23-2-13 15-31-2-14-5-10-18 0 0-5-16 2-25 13-6 5-16 0 0 9-11 9-13-1-5 5-16-1-12 14-16 0 0 8 5 10-14 16-9 2-18 24-2 17-8 0 0 13-10 12-5 14 1 25M1780 896l12-3 21-10 7-12 10-6 8-8 13-9 9-16-7-4-6 9-17 4-10 0 0 11-19 11-18 23-3 10M1779 895l43-9 16-6 13-3 18 0 0-7 10-2 14-9 13-5 16 0 0-8 12-11 2 0 0-14 7-5 9 0-1-20 0-12 2-5 7-11-2-12 4-6 3-14-10-7-21 2-11 5-19 1-5 13-14 8-12-3-7 10-4 8-8 11-11 8-12 3-12 23-14 0 0 14-6 3-6 23-10 9-4 28M1780 895l59-8 22-10 10 4 10-3 29-14 2-11 15-7 10-10 11-3 18-16 3-19 8 0 0-16 7-7-6-11 8-10 2 0 0-11-4-11-16-6-11 3-15 0-16 11-12 4-25 17-26 13-9 7-14 8-13 10-24 27-7 9-6 12-8 7-3 8 0 34M1779 895l25-3 24-6 9-3 14-8 31 1 0-9 2 0 0-11 11-10 14-4 12 0 0-12 5-5 4-12 15 0 0-10 9-7 7-11 1-13 8-27-1-11 3-17 8-23-11-7-11 3-6-4-11 8-22 10-10 11-13 7-10 9-7 0 0 3-27 32-13 8-6 0 0 11-16 0 0 10-8 11-6 10-11 9-4 16-1 13-5 14-3 13 0 15M1779 895l13-3 23-10 15-4 12-7 34-22 14-3 10-8 14-5 12-19 24-15 7-9 9-7 15-14 2-12-7-13 5-9 0-12-29-1-28 9-14 0 0 13-10 10-17 1-8 13-1 7-18 4-8 13-14 0 0 11-11 8-15 13-12 0-1 21-7 12-4 0 0 13-4 0-1 26M1779 896l12-5 12-1 11-4 26-14 10-7 11-9 49-25 7-7 26-30 4-10 0-10-6-19 7-7-8-7-13-2-8 7-34 4-19 23-16 13-21 8-4 8-19 29-9 8-13 18-4 12-1 26M1779 895l13 0 0-3 14-4 14 0 0-2 26-14 25 1 0-8 10-8 10-3 10-15 10 0 0-10 9 0 0-4-4-9 26-17 15-15 8-20-7-26-11-9-16 0-17 4-19 12-7 7-11 7-10 0 0 15-26 10-10 0 0 5-4 15-18 16-4 9 0 11-5 11-10 10-7 13-3 10-1 12M1779 896l11-2 12-6 21-16 19-19 1-16-3-7-35 18-8 16-10 8-6 11-2 12M1779 896l26-8 40-21 21-23 13-8 7-13 4-14 7-9 1-11-9-8-12 2-12 6-12 0 0 8-7 12-3 12-9 9-5 12-17 9-11 9-18 23-4 13M1780 896l10-3 21-10 4-8 11-10 1-11 4-10 0-12-5 0 0-7-11 4-10 15-6 0 0 8-18 34-2 10M1779 896l24-1 0-2 11-3 10-4 9-2 9 0 0-2 9-7 14 0 12-8 5 2 17-10 16-13 5-14 8-11 6-11 9-10 1-12-5-13-19 1-14-2-29 14-14 2-3 8-21 10-9 11-13 12-4 13-6 11-2 0 0 7-18 16-5 8-3 9M1779 896l45-13 19-15 8-9 11-5 9 0 0-8 11-8 13-5 29 1 0-10 12 0 0-11 11-9 0-14 6-20 0-8 5-8 0-19-10-14-17 0 0 4-15 3-25 0 0 7-8 12-15 6-3 6-10 8-39 41-20 30-11 7-6 24 0 26M1779 896l21-10 10-2 11-10 11-6 14 0 2-21 14-1 14-6 7-19 14-20 2-16 7-7-5-10-19-5-7 4-7 0 0 13-20 8-16 0 0 5-32 21-16 32-1 15-4 23 0 12M1779 896l24-4 13-5 15-7 24-6 17-7 15-1 22-8-2-8 2-8 15-11 6-11 15-40-8-15-9-4-9 0-16 4-11 8-12 0 0 8-9 0 0 8-10 3-11 11-6 17-12 0 0 6-7 6-6 10-22 17-7 8-11 28M1779 896l22-7 12 0 0-3 9-7 22-12 16 0 5-11 10-7 8 0 0-2 9-6 7-7 12-3 9-12-3-13 15-34 2-9-22-6-18 6-16-1-10 6-12 4-8 11-24 16-10 11-11 0 0 2-13 8-3 21-8 16 0 39M1779 896l25-8 8 0 0-7 7 0 0-8 6-11 9-5 15-3 16-6 13 0 0-8 7-7 11-8 17-7 3-10 7-7 8-13 3-16 11-7-2-8-3-3-11-1-16 3-6 7-16 3-13 7-13 8-20 18-15 7-12 10-2 6-14 14-15 23-5 12-3 13 1 12M1779 896l11-4 10 0 0-7 13-5 23-15 7-6 17-6 15-8 20-3 9-6 3-8 12-11 21-10 8-10 11-5 4-6 10-7-1-16 6-17-2-14-3-8 3-17-2-13-14-8-14 10-18-1-9 6-17 8-12 11-13 2-9 7-10 13-15 0 1 19-10 8-11 13-18 24-6 10 1 12-4 14-8 14-9 39M1779 895l13 0 0-2 25-10 20-26 15-14 15-18-3-8-18 0 0 2-10 3-8 13-10 4-8 10-26 18-4 10 0 19M1780 896l27-7 13-6 17 0 0-6 17-7 7-6 3 0 0-11 10-6 23-17 8-9 6-20 2-23-2-4-13-2-7 10-10 4-11 4-15-2-6 2-19 10-6 13-6 0 0 18-11 12-13 8-5 10-3 11-6 12-1 11M1779 896l27-10 25-16 23-33 2-10 14-31-11-7-9 14-11 0 0 4-6 7-7 7-17 26-14 11-7 10-9 28M1780 895l11-4 34-21 10-17 18-19 18-9 11-9 1-10 13-14 2-9-16 1-32 14-4 8-9 9-10 4-16 17-7 13-10 12-6 0 0 12-7 11-2 0 0 12M1779 895l10 0 27-7 9-4 13 0 0-6 10 4 15-14 9-12 9-9 13 0 0-12 8-10 4-16 5 0 0-6 6-15 2-13-7-8-10-6-8 6-41 24-12 14-14 13-6 14-5 3-9 10-7 11-9 7-11 22-1 10M1780 894l13-2 31-12 24-16 13-4 18 1 14-8 8 0 0-8 14-17 9-8 10-5 2-14 0-21 3-11-27-1-14 12-24 7-12 0 0 14-43 28-7 0 0 9-16 14-4 12-7 0 0 12-4 0-2 20M1779 895l24-9 16-9 24-19 5-15 11-9-5-21-11 7-5 11-46 40-8 12-4 12M1779 896l23-4 29-11 22-12 16-13 10-6 13-3 10 0 0-7 3-13 13-11 0-10-4-14-16-6-13-3-10 2-31 19-8 0 0 3-10 6-11 21-13 10-4 10-6 9-11 22-1 10M1779 895l15-3 15-6 15-9 14 0 0-11 16-10 23-31-8-7-12-4-16 7-14 10-10 10-7 10-12 8-9 12-7 12-3 12M1779 896l12 0 0-4 12-6 4-6 22-14 8-8 11-6 20-5 9-9 8 0 0-12-3-15 4-6-3-9-12 1-24 11-8 8-20 14-25 33-7 0 0 12-6 9-1 11M1779 895l11 0 0-2 26-19 9 0 7-13 10 2 11-13 12-8 12-13 22-15-2 0 0-9 3 0-1-19-3-8-12-3-15 0-10 5-3 12-21 14-9 8-22 27-20 32-5 22M1779 896l13 0 0-2 26-11 12-10 15-6 11-11 19-9 7-5 14 0 0-6 6-1 8-8 11-5 9-12-1-13 2-5-4-15-7-17-12-3-14 3-6 8-10 9-7 10-17 3-10 12-10 9-2 7-11 10-14 23-8 8-13 18-3 0 0 9-4 10M1779 895l13-1 10-4 29-3 39-16 25-13 19-24 5 0 2-21 12-9 8-8 6-10 0-11-3-6 0-10-5-4-19-1-25 6-9 9-12 8-15 0 0 6-5 11-11-2-4 11-6 0 0 10-17 19-6 14-9 6-7 8-12 24-3 11M1779 895l28-5 34-13 4 0 0-9 7-8 10-6 6 0 6-9 8-7 5 0 0-10 7-15-1 0 0-17-4-12-14 5-9 16-24 9-17 18-14 10-2 11-4 9-12 8-6 8-6 0 0 9-2 9M1780 895l25-5 27-9 12-9 14-1 31-15 4-11 16-7 22-16 13-25 10 0 0-10 6-9 0-13 10-10 7-1-4-12 1-6-4-8-18 0 0-2-12 10-15 5-11 11-10 8-15 6-17 14-31 18-7 14-13 4-10 0 0 8-12 1-9 21-8 12-3 13 0 25M1780 895l9-3 22-5 41-13 12-8 11-12 1-7 16-6 7-10 16 0 27-29 10-3 3-15 8 0 3-18-5-24 6-14-3-15-11 2-15 13-13 5-16 3-7 7-13 6-22 29-10 1-12 9-8 0-2 15-5 4-1 13-15 8-8 12-11 8-7 14-7 21-1 13M1780 896l40-10 16-7 5-7 8-1 10-5 10-7 10-2 14-7 20-15 8-4 23-18 7-11 12-11 4-6 1-11-6-8 4-12-3-15-6-6-17 0-24 3-16 12-16 6-7 0 0 11-35 25-6 11-9 0 0 9-6 0 0 14-11 11-13 23-11 8-6 8-1 21M1779 896l11-3 9 0 0-3 17-11 27-23 8 0 0-9 12-13 3-6 5 0 2-28-9-9-3 6-12 4-7 0 0 6-9 7-3 13-8 3-10 0 0 10-10 9-7 11-13 24-3 12M1779 895l23-5 10-7 8-12 7-4 4-12 12-7-5-9-15 3-27 19-5 0 0 9-10 15-2 10M1779 896l38-13 17-12 9-1 19-9 11-11 12-6 9-35 0-14-12-3-30 20-8 4-7 14-13 5-16 20-19 16-6 12-3 0 0 13M1779 896l13-2 23-8 8-5 19-15 20 0 15-4 8 1 13-14 8 0 0-15 6-5 7 0 15-12 4-14 1-13 10-7 2-5 2-38-10-11-16-6-7 8-11 4-11 8-27 5-11 11-8 10-3 24-10 7-9 19-14 4-6 9-6 13-9 10-14 30-2 10M1779 895l14-2 12 0 0-7 25-13 6-9 14-10 11-5 7-12 9-11 0-13-3-7-15 0-9 6-9 4-3 11-14 2-26 31-17 24-2 11M1779 896l16 0 0-2 23-5 15-10 8 0 0-11 21-22 3-19-21 3-12 7-11 3-6 9-15 11-16 16-4 9-1 10M1779 896l23-4 9-5 19-3 37-18 13-2 9-5 7-8 10-4 8-8 11-5 21-17 3-8 8-4-3-9 7-4 3-9 9-15 2-29 4-10 1-9-17-7-12-2-14 4-15 12-13 6-11 8-11 0-18 12-10 9-6 7-3 0 0 5-6 4-10 14-22 21-6 12-3 12-6 0 0 4-16 22-2 0 1 33M1779 895l12 0 0-2 10-5 11-10 11-4 13-13 10-5 13-17 2-13-15-6-4 3-16 5-13 7-13 24-9 10-10 18-2 8M1780 896l22-11 7-8 12-5 10-14 3-13-1-13-11-1-15 11-9 12-8 0 0 10-11 21 0 10M1779 896l14-3 12-4 13 0 0-2 13-4 15 0 0-8 14-4 13-6 15-15 18-6 9-5 6 0 0-4 11-7 5-9 5-6 8 0 0-4 14-28 0-14 6-6 3-11 7-15 2-14 1-24-9-3-24 5-17 10-2 3-11 8-19 10-5 10-7 0 0 11-23 14-13 14-8 4-12 14 1 6-32 49-12 8-8 11 0 13-3 11M1779 896l28-9 13-6 11-11 13-9 1-8 11-22-8 6-15-1-22 9-13 18-16 18-3 15M1779 896l11-1 13-3 13-5 19-14 5 0 0-7 8-7 14-8 19-18 12-15-1-7 4-13-1-15-12-3-10 7-7 10-26 10-11 7-1 9-24 24-8 7-7 0 0 10-8 20-2 12M1779 896l32-10 12-8 28-26 7-10 3-11-17 2-19 0 0 12-14 4-11 11-17 22-3 14M1779 895l13-2 10-5 27-5 17-13 13-5 8 0 0-8 32-17 9-10 7 0 0-12 13-6 10-12 11-6 6-13 6-21-4-8 4-12 0-10 3-11-4 0 0-14-11-8-11 8-20 10-14 8-9 7-9 4-9 13-5 15-10 10-13 5-14 13-7 12-14 10-13 15-2 6-9 15-9 24-2 23M1779 896l13 0 26-7 16 0 0-3 25 0 0-8 15 0 7-3 23-14 12-5 13-11 13-4 9-6 14-26 5-14 5-8 2-9 5-11 0-9 6-8-2-5-1-12-4-8 3-13-13-6-12 10-13 4-5 8-8 6-48 31-19 25-17 16-6 0 0 13-8-1-10 1-21 18-16 18-6 14-2 27M1780 895l27-5 11-4 8-7 13-7 10-3 12-14 14-9 22-20 3-10 0-8 4-11-9-7-16 5-5 7-7 0-10 9-10 0 0 14-18 2-11 9-5 10-29 36-5 14M1779 896l25-3 19-4 30 0 15-5 27-11 2-11 10-9 24-10 9-21 19-34 13-31 4 0 0-12-7-22-17-1-18 1 0 6-9 2-13 12-23 17-3 6-10 4-10 8-17 17-5 10-14 10-3 10-16 5-15 9-5 0 0 9-4 7 0 11-6 10-2 19M1779 895l24-9 7-8 7-4 9-10 4-8 14-14 1-6 6 0 0-5-16-10-2 8-10 13-13 4-9 6-15 21-5 0-2 22M1779 895l43-12 36-17 13-7 7-6 19-5 11-7 8-5 6-8 7-17 6-9 10-9 10-13 0-6 6 0 0-4-5-11 5-9-4-21-10 1-15 0 0 1-4 1-18 15-15 4-16 0 0 4-5 12-31 10-12 16-4 11-11 3-4 15-11 9-21 42-1 23M1779 896l21-2 8-4 19-3 8-12 11 0 11-3 15 0 0-14 15-11 3-13-7-29-12 1-19 7-4 10-8 13-13 5-13 9-15 12-17 25-3 8M1779 896l25-5 45-14 4-6 5 0 0-5 14-2 32-18 6-14 7-4 11-12 4-9 8-8 2-26 2-3 4 0 0-6-8-13-7 0-13 8-12-3-10 1-7 13-9 2-11 0 0 14-25 13-25 5-7 9-6 13-11 16-18 22 0 31M1779 895l33-9 25-18 19-1 0-7 10 0 0-6 9-6 4 0 0-16 14-20 0-16-9-11-12-6-16 20-9 5-17 17-12 0 1 14-9 12-10 6-3 0 0 9-9 8-6 9-2 0-1 17M1779 895l25-11 9-5 10-9 9-5 10 0 0-12 7-12 13-9 10-1 3-13-4-16-7-6-6 3-7 0 0 5-12 9-8 9-8 15-13 9-12 0 0 9-6 8-7 0 0 10-5 9-1 14M1779 895l29-9 16-7 13-4 17-15 17-9 11-12 9-13-2-6 5-12-4-11-8-1-13 6-10 8-6 10-29 18-10 12-29 25-4 10-2 11M1779 895l22-6 11-6 7-7 5-9 12-8 11-11 9 0 0-4 5-5 2-11 6 0 0-10-17 1-18 7-11 13-9 1-11 7-7 0 0 6-9 11-4 10-3 10-1 11M1779 896l14-2 28 0 0-2 14 0 0-6 30-2 0-10 9-9 10 0 5-9 21-10 6 0 0-9 9-8 8-13 18-2 0-11 4-12 10-6 0-24 3-24-11-10-9 0-11 5-38 29-22 2 0 8-12 7-13 0 0 6-14 7-8 15 0 9-28 18-8 10-1 8-7 11-6 22-1 12M1779 896l13-3 11-6 10 0 0-10 12-23 6-9 3-20-10 0 0 4-29 30-13 24-3 13M1779 896l20-7 15-8 7-4 7-13 17-8 11-9 10-4 7 0 0-3 6-5 9-15 4-14 7 0 0-12 5 0 0-15-6-32-25 10-18 9 0 2-20 16-5 10-10 19 0 12-16 15-8 14-8 8-4 12-5 22M1779 896l11-5 25-7 26-14 18-1 21-14 10-1 12-6 17-14 8-10 10-9 5-10 12-7 11-16 13-4 6-10 3-11 5-8-2-13 8-27-5-7-8 0 0-7-18-6-14 2-15 6-11 0 0 13-16 6-7 0-8 11-9 0-7 8-6 13-7 0 0 12-11 10-10 17-16 4-10 5-5 5-8 11-12 5-5 14-7 0 0 14-4 14 0 12 2 12-2 13M1779 895l25-10 12-2 10-9 22-12 8 0 0-9 20-19 5 0 0-10-7-7-6-1-10 12-15 5-3 6-15 6-8 7-14 8-6 6-7 11-8 7-2 11M1779 896l27-8 10-5 14-3 38-20 12-10 29-13 9-1 5-4 9-11 12-11 6-20 4 0 0-7 6-17 2-28-17 0 0-8-17 0-15 5-28 11-10 8-7 9-12 5-6 10-5 12-17 15-9 12-7 13-2 10-9 10-13 10-5 11 0 12-4 12M1779 896l27-10 12-9 15 0 0-6 5-10 0-10 27-20-14-5-9 9-18 6-10 7-2 10-20 14-9 12-4 11M1779 895l13-2 13-5 12 0 0-2 15-4 14-9 28-11 15-4 12 1 23-10 7-13 13-2 6-5 0-8 5-7 9 0 0-14 12-10 10-14 2-13 5-13 7-8-8-22-7-8-6-10-5 3-36 0 0 7-24 12-18 13-15 3-9 6-6 10-11 7 0 11-6 9-8 0 0 13-5 7-27 23-13 0 0 11-3 0 0 9-8 22-6 8 0 20M1779 896l21-9 9-5 16 0 0-6 10 0 0-10 11 0 0-3 4-5 11-5 8-6 7-10 7-6 12-23 15-6 4-11 10-12 6-16 1-8-19-10-8-6-11 3-12 0 0 1-10 7-8 15-1 9-7 17-13 2-19 24-19 13-3 13-14 16-4 10-3 27M1779 895l14-1 35-13 13 0 0-2 32-14 6-5 8-4 13-8 3-8 9 0 0-9 4-16-3-15 4-7-12-12-25 7-13 9-15 0 0 3-10 6-6 9-21 16-6 6-18 27-4 12-5 9-2 10M1779 895l30 0 14-5 16-2 13-3 14-6 11 2 10-13 12-6 6-1 6-15 6-5 25-29 10 0 0-3 8-11 9-8 9-14 2-15-1-24-5-13-12-4-15 3-12-2-14 0-9 12-9 7-11 14-10 0 0 8-10 0 0 5-5 6-4 10-18 7-8 2-5 11-2 22-11 11-10 0 0 8-6 10-12 12-10 21-2 8M1779 895l37-7 7-6 34-18 3-4 19-6 28-25-3-10 9-11 5-11 14-10-3-21-25 4-12 0-27 11-11 10 2 9-12 12-6 13-11 0 0 9-6 4-7 0 0 3-26 32-5 0 0 12-4 11M1779 896l11-2 22-7 9-9 4-8 7-8 7-13 22-19 1-9 4-15-14 0-3 7-15 23-20 11-6 10-12 8-8 9-7 11-2 0 0 11M1779 895l12-2 13-4 29-30 3-14-6-7-13 9-9 10-9 6-18 21-2 12M1780 896l13-4 12-1 12-7 11-3 21-8 9 0 0-4 7-11 14-3 24-14 7-11 14-8 2-9 5 0 0-13 6-9 4-14-2-7-11 0-16 0-10 9-5 11-7 0 0 7-14 7-14-1-7 7-15 8-6 8-14 6-12 23-13 10-11 20-5 11M1779 896l11-5 13-2 23-26 4-11-5-11-11-2-7 8-6 0 0 8-15 16-5 13-1 0 0 11M1779 896l13-3 15-5 10-6 11-5 11-2 3-3 12-5 17-3 10 0 0-9 27-23 8-9 7-24-13 0 0-11-12 2-12-4-5 10-14 7-24 20-13 7-14 9-6 13-8 12-11 10-8 10-4 12M1779 895l12-4 27-1 13-6 15-16 14-8 11-9 13-5 11-2 24-15 8 0 0-6 11-15 11-12-1 0 0-16 5-11 8 0 0-8 4-22 0-23-4 0 0-10-14-6-47 14-31 29-7 0 0 14-17 18-4 11-12 2-25 27 1 6-6 13-11 11-7 13-1 0-1 38M1779 896l28-7 54-23 10-12 12 0 0-8 3-10 1-13-2-8-6-12-5 2-13 11-7 13-10 3-29 11-8 11-12 0 0 9-12 21-4 11M1779 895l37-12 6 0 0-9 11-11 11 0 0-9 11-8 20-18 6-13 8-11 10-24-1 0 0-4-18-4-10 8-10 4-33 23-3 11-6 10-5 0 0 2-11 21-16 23-3 0 0 13-4 8M1779 896l13-2 12-5 43-9 11-7 37-17 7-7 13 2 17-7 15-2 11-11 10-3 10-19 12-10 0-5 9-6 5-11 12-14 3-7-1-12-8-14-7-7-15-4-24 1 0 5-25 0 0 13-7 3-15 0 0 5-7 4-12 25-14 17-10 5-6 0 0 11-7 8-12 3-14 10-12 8-14 14-11 6-9 0 0 8-7 11 0 10-2 10M1779 896l12-3 33-18 11-3 14 0 0-10 8-9 7-6 11-5 8-10 11-9 8-19 19-30 1-11-15 1-29 4-25 10-9 10-13 8-4 4-5 0 0 5-4 8-11 13-10 9-8 13-7 20-2 0 0 27M1779 895l13-2 26-12 11-2 15-8 6-12 8 0 0-7 9-7 12-7 11-4 7-11 11-10 6-9 7-15 4 0 0-2 10-11 7-14-3-14-5-4-15 0-15 3-10 11-8 12-14 15-16 6-13 0 0 8-3 0 0 11-6 11-15 15-17 11-7 0 0 10-10 6-6 22 1 11M1779 896l0-31 4-12 11-6 12-2 15 0 4 7 3 0 0 9-5 14-5 10-8 10-31 1M1779 896l0-28 16-10 6 1 8 5 2 6-1 10-4 10-5 6-22 0M1779 896l0-16 3-9 8-8 10 0 7 3 7 0 2 8 1 6-5 12-6 3-23 1-4-2M1779 896l0-39 5 0 0-12 11-9 14-2 17-3 12 3 6 7 6 13 0 10 2 12-9 18-15 2-49 0M1779 896l0-28 8-10 29-7 11 0 8 9 7 3-2 13-9 12-12 8-40 0M1779 896l0-34 10-9 11-7 17-6 35 1-3 9-2 0 0 9-4 12-9 0 0 12-13 13-42 0M1779 896l0-36 6 0 0-10 27-13 8-1 20 7 2 8-2 13-3 12-7 12-14 8-37 0M1779 896l0-41 9 0 0-12 10-2 12 3 6 7 5 10-1 9-6 12-9 11-12 3-14 0M1779 896l0-47 39-18 11 0 14 3 9 5 5 8 4 11-8 25-10 12-64 1M1779 896l1-24 16-5 6 2 6 4 3 7-4 11-8 5-20-1M1779 895l2-17 5-4 8 0 0-3 6-3 2 9-7 16-16 3M1779 896l0-36 11-9 14 0 0-3 39-4 10 6 0 6-6 20-6 13-8 7-54 0M1780 895l24-1 12-2 11-5 23 1 8 8 8-7 18-6 7 2 33-8 22-4 26-12 15-3 33-29 9 0 0-9 10 0 0-5 6-10 4-11-4-15-8 0 0-13 6-11 11-15-1-19-3-10 0-12-5-4 6-1-10-11-12-2-33-1-16-4-17 5-10 12-13 10-16-1-36 13-16 12-4 7-9 0 0 8-4 0 0 12-20 16-4 14-10-1-13 7-16 15-10 0 0 12-3 10 0 69M1780 896l20-8 9-6 13 0 0-2 10-9 15-7 4-6 10-6 11 1 21-7 8 8 13-8 12-12 10-3 3-5 9-2 13-13 15-7 2-15 9-14 4-25 3-5 2-9 6-8-6-11 14-17 0-5-7 0 0-10 4-3-21-12-9-11-11 3-17-2-8 5-15 0 0 6-5 7-22 12-11 0 0 15-6 0 0 5-4 16-7 0 0 12-14 0 0 13-25 24-18 0 0 5-12 19-7 9-11 3 4 11 1 9-8 11-2 26 0 27M1779 896l14-2 25-8 17-4 7-7 18-8 30 2 7-11 11-2 10 8 15 0 0-9 4 0 0-14 7 5 3-8-2-4 7-5 11-13 8-14 5-21 10-14-1-4 5-16-8-20 2-8-16-6-20 1-12 6-8 0-12 8-1 2-11 7-20 23-4 0 0-3-14 0 0 6-17 5-6 9-6-1-12 7-19 26-10 4-2 15-7 0 0 8-8 30 0 30M1779 896l28-4 11 0 0-4 12-2 13 1 8 2 17 0 0-3 6-5 14-6 19 2 10-1 12-14 9-8 13-3 3 1 23 0 0-14 18-21 14-5 8-12 7-5 11-5 5-19 3 0 0-2 10-12 9-1 3-17-4-10 9-9 0 2 7-11-12-32-11-12 2-2-10-4-35-4-13 0-27 3-7 8-6 0 0 7-18 20-23 1-8 15-15 7-14 12-5 8-18 9 3 9-26 21-9 2-8 11-8 0 0 14-25 17 5 14-6 19 2 7-6 4 2 18-2 12M1780 896l84 0 10-2 8-9 17 5 13-7 11-12 15 1 21-8 13-1 8-5 13-10 12-6 15 4 8-19-1-14 9-15-3-14 3 0 25-27-7 0-1-19-7-17 9-8-3-9-15 0 0-8-9-16-19-1-15-9-14 0 0 3-3-4-12 5-17 15-10 13-27 5-12 13-3 6-3 0 0 9-4 14-17 19-8 2-4 6-3 10-12 8-15 13-10 16-2-1-16 3-15 10 3 12-7 15 7 6-3 8-4 0-4 19M1779 896l9 0 0-5 12 0 0-2 22-6 44-7 14-9 10-3 22-2-1 3 13-6 6 0 0-15 15 0 0-9 35-15 5-10 18-5 7-11 11-7 0-4-11-14 8 0 0-17-3 0 0-15 2-11-11-9-2-12 5-8-12 0 0-8-9 2-9-14-12-5-11 8-19 1-13 5-8 12-13 39-13 4-16 20-2 3-1 7-15 12-11 1-14 11-8 3-9 9-10 0 0 8-12 7-3 22-5 11-2 16-3 0 0 25M1779 896l13-5 15-3 10-5 16 3 16 0 6-1 11 5 35-10 11 0 0-10 11-1 4-1 6 2 18-9 8-11 8 0 0 4 4-18 12-1 0-24 19-10 2-14 4-8 3-16 0-12 7-11 3-16-3-15 4-12-16-16-7 2-6-7-34 1 0-2-8 6-11 1-8 10-14 10-16 7-14-2-16 6-8 9-10 6-4 11-9 4-2 9-13 6-11 11-9 15-25 12 4 0 0 15-6 17 3 0 1 35-4 32M1779 896l30-3 0-4 24-1 0-6 11-2 15 3 21-5 9-8-1-4 23 1 19-6 9-7 4-1 17 3 1-13 8-16 15 0-5-2 5-3 8-13 5-11 13-15 10-7 3 0 2-29-2-6 1 0 0-5-9-18 5-8-5-12-22-16 0-10-19 7-36 2 0 4-18 0-1 23-20 6-11 19-9 1-9 11-12 3-10 9-18 6-1 16-16 14-2 6-14 14-18 15 1 58-1 10M1779 896l46-2 33-3 10 5 8-1 19-4 11 0 8-12 15 4 9 0 0-4 15-5 2 6 21-9 6-9 11-5 14-3 15-9 14 1-1-14 17 0 0-12 15 0 11-8 7-13 8-4 7-11 10 0-2-20 4-16-6-14-11-13-4-12-10-5 3-14-9 4-23-14-10-9 3-8-15-1-14 7-22-2-21 9-22 13-3 0 0 10-10 16-2 17-8 10-14 3-6-2 0 2-26 14-8 12-5 10-20 10-13 10-9 3-11 0 0 2-13 7 5-4-10 14-9 4-5 13-5 23 2 9-2 24M1779 896l12-3 18-8 12 4 17-3 11-3 13 0 0-2 23-11 29-18 14 0 2-16 22-14 7-9 10 0 0-16 8-11 8-17 0-8 4-17 3-3-8-11-4-9-3-11 7-2-11 8-25-3-6-3-7 16-29 0-18-11-10 4-9 9-16 0 0 17-7 12-9 20-7 12-13 0 0 12-6 5-4 7-7-2-17 22-3 31-1 0 0 31M1779 895l27-1 0-1 13 1 13-3 42-5 10-6 17-5 14-6 5 9 13 2 27-19 10-12 29-10 18-9 4 0 15 7 12-18 15-8 9-10 10-9 6-9-8-14 6 0 0-11 4-8-3-23 2-4-2-13-7 0 0-4-8-11 3-16 7-20-5-13-12-11-6-2-17 3-11-3-7 10-6 2-11 2-20 8-8 11-14 3-11 8-2 4-3 0 0 5-14-4-10 10-13 5-4 7-4 12-19 8-13 3-14 6-5 16-5 9-26 11-12 15 0 10-11 10-8 10-3 19-6 26-2 25 0 12M1780 895l13 0 0-2 14-2 23-6 46-20 4-6 14-9 6-7 29-14 5-13 14-5 12-11 10-12 11 0 8-4 7-18 7-8-11-12-3-13 1-24-3-16-20 1-9 6-16 0 0 11-20 17-10 6-4 8-7 0 0 10-15 4-12 13-4 0-7 13-29 0 0 12-6 5-10 16-20 10-10 0 0 8-9 19 0 44M1779 896l25-2 31 2 50 0 9-11 17-12 23-15 13-1 5-2 16 3 13-3 20-10 9-2-2-12 9 0 0-9 8-7 9-4 17-1 5-4 19-8 10-16 11 0 5-12 13-15 2-13 12-13 14-45-8-13-16-5-6-5 0-10-16-7-11 0-11-12-15-1-12-7-16 2-20 20-19 0 0 5-14 5-8 8-15 8-10 12-9 0 0 11-16 18-7 16-12 6-16 5-18-3-10 6-8 12-10 10-7 6-9 13-1 11-18 19-9 4-5 11 3 9-9 8-1 8-4 10 3 9-3 23M1779 895l12 1 7-2 19 1 0-3 11 0 24-4 19 0 0-4 19 0 0 4 13 0 12-1 15-5 9 2 11 0 2-11 32-6 12-8 9-9 21-3 1 2 14-4 11 0 0-8 7-12 2-12 9-10 5-11 10-11 1-14 7-9 4-12 1-20-8-7 0-9-3-13 6-18-11-6-2 0 0-12-24-9-17 2-15-7-20 0 0-1-8 12-18 7-18-9-11 1-10 6-8 3-13 12-16 2 0 11-15 11-3 6-21 12 2 20-6 0 2 17-26 17-16-3-11 14-12 8-4 0 0 8-3 15 3 21-11 18-2 40M1779 896l23 0 12-2 15 0 0 2 48 0 15-6 16 0 0 1 4-7 9-6 3-11 18-10 20 0 0-12 13-8 17 0 0-12 11 7 3-7 12 0 0-3 5-3 25-2 5-12-5-19 12 0 0-9 9-14-13-21-11-27-7-7-10-14-17-15-18-7-4-8-22-11-12 4-13 0 0 2-14 9 3 8-12 12-18 13-2-1-2 5-7 2 1 14-10 12-11 0-6 20-7 7-8 0 0 6-11 13-13 9-29 30-3 0 0 10-8 26-5 10-1 31M1780 896l20-6 8-5 6 0 0-10 11-6 11 1 6-2 6-10 20-3 17-10 4-16 18-6 22-2 20-5 10-5 12-11 12-4 13-38 1 0 0-6-3-8-4-5-4-13-2 0 0-10-10-7-10-3-17 1-10 3-14 7-7 10-9 9-14 5-9 10-16 1-17 10-13 0 0 15-12 10-1 15-4 8 1 7-6 1 0 21-8 5-4 8-12 8 0 9-8 7-1 6-4 7 0 6M1780 896l27-2 14-3 21 0 0-4 14 0 10 3 14 0 0-7 11 8 20-3 16-7 10-10 9-2 23 0 0-8 25-9 12 0 17-15 13-7 12 1 10-6 7-9 10-9 13-8 4-8 12-10 12-6 1-11 5-2 9-14-5-14-1-12-5-13-15-14 1-4-1-14 2-8-4 0 0-2-21-14-18-2-34 3-28 9-7 9-30 3 3 7-13 8-5 14-31 35-19 0 0 8-7 11-17 8-7 7-10 0 0-1-1 9-11 2-14 0-29 13-8 14-8 9 7 12-9 19-4 3-3 22 0 20M1779 895l12-2 15 2 27-7 12 2 11-3 2-10 16 1 7-2 16 0 11-11 18-1 11-9 7 0 13-9 17-10 8-13 13-38 6 0 0-10 6-16 1-12 13-14-4-13 7-11 1-4-10-10 0-7-8 1-19-3-18 4-16 0 0 7-13 13-9 0 0 3-7 10-5 9-33 26-9 17 0 8-10 7 0 10-13 9-11 0 0 16-38 16-14 14-3 13-7 9-3 10 0 7M1779 895l38-11 9-6 15 5 5-1-4-7 20-6 11-7 23-2 18 1 18-5 7-6 2 7 11-13 21 0 8-6 6-10 12-25 5-43 6 0 0-15-9-10 3-15-5-7 0-10-3-9 2-13-11-15-15-12-8 0-16 12-3 11-6 17-11 0 0 15-11 0 0 5-11 8-6 14-9 4-5 12-16 16-15 10-15 0 0 6-8 12-11 9-14 5-6 11-10-1-6 7 3 0 0 10 4 14-7 12-6 32M1779 895l13-3 10-4 26-6 34 0 14 4 5-4 8 5 11-5 18-2 20-6 10-6 4-6 36-10 12 0 6-8 20-3 15 1 16-22 11-7 2-9 10-5 3 0 0-15 12-2 1-5 14-9-2-8 7-19-14-33-2-14-11-25-6-7-17-8-30-3-11-10-17-7-6 12-11 0 0 3-17 0 0 11-15 8-15 13-10 13-2 0-10 10-7 0 0 12-14 4-6 5-10 0-35 18-11 6-8 13-9 3-15 14-7 0 0 5-9 9-11-1 0 104M1779 896l56-3 0-6 9-1 8-4 9-7 9-4 26-6 5-3 20-5 10-5 8-12 10 2 29-5 10-8 19-7 6 0 10-8 3 1 3-2 12-18 2-14 3-10 6 0 4-20 11-7-3-4-4-12-5-45 1-11-14 0-15-5-32 0 0-5-9-8-15 4-11 8-13 3-2 8-6 2-5 10-22 1 0 9-16 1-9 8-15 6 1 6-11 0-7 23-9 18-12 4-6 7-22 18-2 10-17 13-8 9 0 19 4 12-2 10 1 11-3 21M1779 895l27-3 47 2 12-3 13-7 14-6 15-4 9 0 0-7 15-2 21 6 6-10 12-5 6 2 19-21 7-6 11-16 15 1 6-10 14-8 10-15 11-11-2-20 1-18-11-6 0-14-11-12-22-13-17-14-10 0 0-4-9-5-13 8-10-4-15 0-17 24-13 11-10 0 0 13-6 3-25 7-12 15-14 6-12 1 0 10-16 4 0 10-9 11-3 0 0 8-20 22-13 8 11 16 4 12-3 6-7 8-1 8-5 22M1779 896l28-8 14 0 44-16 13-10 17 1 10-1 2 7 17 0 13-6 17-12 22 0 0-8 15-6 10 0 0 3 9 1 14-5 9-6 5-6 8 0 0-13 12-4 26-17 17 0 0-8-3-6-3-26-2-11-10-8-9-12-6 0 0-11-8-7 0-5-27-22-20-2-12 10-7-10-5 2-14 9-4 7-6 3-5 8-15 5-16 11-15 20-50 42-20 0-30 14-4 7-13 3-18 11 0 82M1780 896l27-1 0-2 11-1 28-10 15-4 11-1 14-6 22-11 2-18 14-7 13-4 10-9 13-4 11 0 0-7 3-8 12-4 13 0 0-13 6-13 12 0 0-11 3-17 9-7-2-9 5-10-4-8 2-9-20-20-16-10-6-5-5 5-46 8-6 14-28 19-5 1-8 8-2 11-8 10-33 19-8 1-8 6-8 11-15 9 0 19-10 3 2 7-6 18-4 8-2 11-5 15-4 25M1779 895l70 1 0-4 18-4 5-14 13-9 17-7 27-1 0-8 12-14 7-15 2-10 5 0 0-15-1 1 6-14 18-3 4-6 1-13-6-11-2-9 3-10-19-13-5 4-10-4-16 8-7 9-9 0 0 11-17 12-11 4-10 3-6 8-9 0-2 6-13 1-6 16-1 9-11 8-12 0 0 14-6 0 0 6-6 0 0 11-8 14-2 6-7 9-5 24M1779 896l38-3 11 1 31-5 5-5 13 3 4-14 19-3 11 1 22-1 12-4 10-1-2-6 14 4 12-1 9-12 7-2 0-15 19-6-2-15 8-13 0-11 3-6-2-16-6 0 0-26 3-2-2-14-17-3-10-5-9 3-7 13-14-4-10 8-22 27-6 2-13-4-21 7-13 7-16 5-17 2-15 11-6 0 0 16-2-2-21 15 1 12 5 9-10 5 2 0 0 12-8 0 0 10-4 6-1 11-3 9M1779 895l71 0 13-2 12 1 23-1 22 2 3-5 12-3 9-1 16 3 0 2 18-2 8-7 18-12 11 2 14-13 34 0 0-2 6-8 14-13 1-4 6 2 27-11 1-10 7-14 8-1-7-18-1-11 5-7-6-9 6-11 5-15-8-6 5-11-5-8-2-27-7-11-1-33-27-1-6-10-4-17-12-1-2 9-4 9-14 9-11 3-6 6-12 8-18 1-14-4-11-5-8 15-13 6-9 7-27 17-9 0-2 11-8 9-19 15-12 7-5 0 0 2-6 8-12 11-12 22-14-8-14 10-27 15 1 7-1 11 0 92M1779 896l98 0 21-2 16 2 42 0 0-2 9-5 6 2 10-5 14-12 14 0 0-5 5 3 18-7 17-15 15-4 7-12 6 1 14-19 10-5 15 0 0-9 8-11 23-8 0-9 4-11 2-16-3 0 0-12 16-34-7-10 7-21-5-17 5-3-11-6-6-12-21-10-11-11-3-16-13-14-14-4-12-9-20-8-7 3-7 14-11 2-7 6 1 10-5 12-47 17-13 20-10 0 0 2-5 2-15 15-9 14-17 4-14 1-7 13-2 13-7 9-13 0 0-5-2 11-12 0 0 15-12 12-9 0 0 9-17 2-9 7-20-1 0 128M1780 896l60 0 0-2 12 2 13-3 11 2 31 1 9-16 16-11 26 0 13-6 16-4 12-8 21 4 13-8 14-11 3-6 3-11 10 1 5-1 2-4 23-12 17-25 10 3 4-21 6 0 0-4-4 0 0-17 10 0 0-6 9-19 0-23-15-16 2 0 3-19-7-9-21-13-14-7-7 1-15-14-21-6-33 0 0 4-15 0 0 3-21 6-7 9-10 6-4 14-15 3-13 0 0 6-12 2 1 5-5 3-14 0 0 6-22 4-8 6-7 28-10 6-2 9-19 15-15 6-2 9-18 12-13 0-2 21-3 13 0 16 5 34-2 14-2 0 0 13-3 14M1780 896l10 0 0-4 26-3 11-6 16 0 0-5 3-6 23 2 7-3 27 1 0 6 14-3 15 3 7-2 23-1 13-5 8-3 10-8 9 0 0-9 22-19 12-15-1 0 0 4 5-9 9-7 1-11 2 0 0-10-2-13 17-26-2-18 2-5-4-31 0-22-6-10-16 2-21-38-17-11-14 12-16 22-10 1-12 16-7 7-8 1-7 5-6 11-6 7-7 5 0 9-14 9-1 9-8 2-12 0 0 5-18 20-17 6-7 8-8 3-43 24-3 0 5 34-5 43 0 26M1779 896l10 0 13-3 8 2 14-5 15-2 2 5 10-2 17 5 17 0 0-5 10-1 8-2 7-6 16 0 0 3 19-5 5 0 0-12 21-4 1-9 16-7 7-10 35-14 11-3 14-19 15-10 4-10-4-8 14-8-2-9-7-20-1-25-9-7-6-9 8-6-17-18-1-8-7-8-8-3-1-12-13-10-21 2 0-4-8 4-14 0 0 2-10 6-1 12-17 0 0 8-10 6-10 1-13 5-10 15-11 3-11 15-12 4-14 9-1 12-13 12-2 14-9 19-10-2-8 11-18 15-13 8 3 14-6 18-2-5 1 61M1779 896l174 0 15-2 10-5 13 0 14-2 0-5 12-12 15 0 0-2 16-5 5-6 18-5 10 1 12-11 9-11 5 0 0-2 20 1 0-7 10 0 0-12 8 1 10-8 14-5 0-17-3-16 8-15-3-19 15-1 0-9-8-30 2-14-2-9-11-21-23-26-7-14 6 0-18 0 0-5-11-1-29-15-11 11-5 10-17 3-10 0-13 7-8 8-20 0 0 4-10 13-13-6-26 15-11 12-17 8-10 12-16 7-26 2 0 10-12 15-7 4-8 14-16 12-15 14-14-2 3 8-8 7-9 21 4 3-8 20-3 10 0 67M1779 889l0-49 4 0 0-3 20-11 11 13 7 4 6 0 0-12 10-2 16-18 13-8 26 0 0 6 16-2 15 1 25-22 26 0 0-4 21-12 24 1 24-12 13-19 37-3 6 2 11-7 13 6 24 14-3 4 1-15 7-3 10 10 18 3 22-8 9-6 14 7 4 5-5-3-6 18-21 6 3-3-5 17-4 1-5 10 6 22-9-1-28 12-19-22-28 0 0 22-19 22-19 3-10-1-32 38-14-8-23 9-2-16-30 1-11-6-33-5-19 0 0 13-34 0 0 18-21-10-15-10-19 20-28 0 0-2M1788 896l9 0-18 0 0-57 31-6 5-16-1-5 13-5 16-19 17 3 5-7 24-11 11 6 23-29 32-17-5-6 35-8 12-18 15-17-5 4 32-26 27-10 20-4 35-4-1-10 24-9 17 15 3 14 11-7 21 12 16-2 9 13 22-5 9 6 17 7 36-4 4 10-3-2 19-5-3-8-5 0 0-2-20 6-8 25-2 26 4 11-9 0 0 14-2 1-32-2-18 7-8 0 0 13-15 22-8 0 0 8-19 0-35 13-22-8-15 5-14 20-18 7 2 3-15-3-15 15-16 7-17-4-14 1-28 13-24-11-8 12-12 8-4 20-146 0M1779 896l21-4 9 1 11-4 31-2 0-6 12-4 12-1 11 3 10-4 10 0 0-4 14 0 0-3 6-2 14-2 7-3 9 0 0-3 8-4 12 0 0-5 14-1 23-8 9-6 13 0 8 2 10-6 8 0 34-22 23-7 16-14 13-5 0-10 8-17 7-6 7-22 2 0-2-25 8-8 8-4 0-7 6-18-2-8-5 0-1-17-7-8-5-11-13-11-14-18-19-5-12 3-7 7-12 1-8 3-9 11-19 13-10 12-33 15-13 4-6 0 0 9-11 2-10 0 0 1-9 5-13 2-11 1-43 16-19 13-7 7-7 0 0 5-17 11-13 0 0 2-14 12-9 0 0 7-8 10-19 6-7 0 0 31 2 10-2 0 0 17 6 9-4 9 1 9-2 8 1 20-2 17M1779 895l22-4 32-3 5-3 41-11 45-19 7-6 20-6 8 0 0-3 9-4 13-2 8-8 13-1 11-5 8-4 16-14 9 0 0 4 33-11 9 0 0-7 4-7 3 0 0-7 9-12 12-10-9 0 0-5-5-9 0-17-6-32-8-12-8-5-17-5-12-1-27 4-9-3-11 6-23 8-20 5-26 2 0 4-8 0 0 4-21 5-9 8-11 5-11 1-10 4-8 7-6 0 0 10-8 0 0 5-8 8-12 4-29 17-6 9-9 5 0 29 3 7 1 18-1 12-3 0 1 18-1 28M1779 895l11 0 46-5 11-4 34-2 10 1 10-4 28-3 0-1 10-4 18-4 22-10 20-5 21-8 24-7 12-1 7-6 11-4 8 0 0-4 12 1 19-9 8 0 0-6 19-7 23-1 0-4 29-14 13-2 8-5 8 0 7 8 8 0 0 4 9-1 6-12 1-10-5-17-1-8-5 0-2-27-3-11-2 0-1-24-3-9 3-7 1-17-4-20-32-15-19 2-8 10-21 10-4 10-42 17-8 3-11-1-9 2-20 1-10 7-23 5-9 0 0 3-41 9-17 12-18 8-20 11-10-1-3 3-24 4-6 4-13 5-16 9-15 6-7 5-7 8-7 2-31 19 2 0-2 29 0 82M1779 896l78 0 0-4 9 0 0 2 32-3 32-9 29 1 0-4 13-4 10 0 0-2 26-8 9 0 0-5 4 0 0-4 10-4 6-6 23-7 5-10 11 0 21-4 26-17 13-4 8-4 13-2 6-4 20-5 8-5 14-3 13-5 11-6 13-14 10 0 0-4 10 0 0-2 15-1 0-9 18-5 26 4 11-6 10-3 2-11-5-2-10 0-8 6-6-5-11 0 0-13-6 0 0-6-10 0 0-9-4 0 0-10-12-14-4 0 0-7-17-25-1-15-21-11-11-2 0-8-4 0 0-10-3-10-14-25-2-13-3-9-13 0 0-4-9 3-2 7-7 10-8 0 0 7-6 8-9-1-16-5-22 17-7 4-10 0 0 7-9 4-11-3-12-7-22 0-8 4-24 1-8 1-7 6-13 18-6 0 0 4-9 0 0 6-10 9-9 1-13 3-29 2 0 3-13 14-18 27-8 8-23 24-5 0 0 4-8 0 0 6-4 7-12 16-5 9-4 0 0 8-10 6 7 13-3 7-4 0 1 17-5 17 0 77" stroke="#000" stroke-width="3" fill="none" transform="scale(.5)"/>
<path d="M1779 896l39-10 43-16 38-22 36-28 20-21 7-12 7-16 5-18 2-15 0-14-4-8-7-3-12 0-10 2-14 5-31 19-36 30-40 41-31 40-7 12-4 10-1 24" stroke="#cc121a" stroke-width="9.4" fill="none" stroke-linejoin="round" transform="scale(.5)"/>
<path d="M293 2100l23-6 12 0 0-5 22-5 10-10 13-3 12-6 4 0 0 3 34-8 7 0 28-25-3-4 5-9 3-12 30-17 0-12 16 0-1-9 10-8 3-14 7-17 7-8 0-11-5 0 1-23 5-26 8-7-2-12-12-7-4-13-16 5-22 0-20 6-20 12-20 7-3 16-5 11-15 0-9-3-3 10-11 12-15 1-21 25 2 0 0 9-13 29-10 3-16 33-2 11-6 0 0 7 3 13-11 11 1 56M293 2099l33-10 31 0 14-4 15-1 16-7 15-1 15-6 5-7 22-26 4-14 10-6 13-5 5-6 3 0 0-4 19-15 17-11-1 0 0-9 9-9-2 0 0-22 3-7-2-10 10-14 0-13-1 0 0-6 11-20-3 0 0-13-6-19-9-13-18-17-5 6-10 2-12-1-8 10-17 6-14 3-17 0 0 10-10 6-15 18-16 14-2 7-15 3-2 10-18 18-13 3-4 8-10 11-4 10-5 6-8 17-1 14-7 0-5 22-10 10 0 82M294 2099l23-5 9 0 0 2 10-1 14 5 16-3 9-11 14-7 14-3 19-12 11-1 0-7 7-2 15-7 9-11 7 0 9-11 9-15 10-10 23-10-4-16 23-24 0-18-2-6 4-18-6 0 0-9-6-11 4-11-7-11-18 0 0-8-15-12 0 5-4-1-4 3-19 0 0 6-18 8-20 0-2 18-14 3-17 10-16 0 0 12-9 14-13 8-5 12-8 0 0 7-12 7-1 6-11 6-3 13-6 14-20 25 0 77M293 2100l11 0 0-2 23-2 12 2 21-9 23-23 17-1 5-9 41-29 4-10-4-17 5-14-7-23-13-1-14-2-12 11-12 4-10 1-21 12-4 10-34 21-5 0 0 6-5 0 0 11-3 9-1 10-14 20-3 11 1 14M293 2100l27-11 7-8 13-10 20-6 16-8 9 2 12 0 0-4 16-17 7-13 9-6 18 0 0 2 7-1 5-13 14 0 0-5 7-7 8-17 12-12-4-12-1 0 0-12-4 0 0-17-20-23-11-3-15 4-47 24-7 9-4 8-17 6-24 19-8 11 5 11-8 8-10 15-2 15-9 4-5 10-1 15-13 26-2 15M293 2100l36-13 14-1 6-4 13-5 17-14 33-4 19-10 10-8 53-20 18-4 0-15 6-11 2 0 0-5 11-5 12-9-2-10-7-9 16-7 4-8 1-12-3-8 5-11 8-6 4-17-11-13 2-21-15-10-9-21-9 0-29 5-17 0 0 10-2 6-22 14-8-2-15 1-12 11-8 5-9 1-20 25-12 9-14 2 0 7-11 8-1 10-13 9-9 13-6 0 0 10-10 11 4 10-1 0 0 13-3 13 4 13-10 14 0 14 6 4-10 21-2 7-3 0-1 16M293 2099l29-6 14-5 9-6 27 0 13-4 4-14 3 2 15-12 13-14 14-3 41-24 14-4 0-22 5-13 13-9 3-12 0-8-7-9-3-15-7-13-8-2-12-1-29 1-11 12-20 1 0 5-13 18-7 5-8 8-11 0-15 17-6 0 0 10-9 9 4 12-13 8-11 15-18 10-5 20-5 9-3 12 0 23M293 2100l11-3 11-7 13-2 8-8 30-12 6-4 6-9 13-5 7-19 26-12 7-7-1-11 6-11-3-14-5-18-15-9-13-2-6-3-11 4-6 7-14 3-7 9-5 9-9 7-3 9-16 10-12 0 0 16-12 0 0 7 5 11-6 16-4 21-1 27M293 2100l13-7 26-7 17-4 14 0 0-3 24-13 12-10 15 0 9-5 34-13 15 3 9-7 16-9 6-10 13-4 16-10 9 0 0-11 15-16 15-10 5-5 6-12 3-9 1-12-1-9 6-20-11-25 2-10-1-9-4-11-14-17-10-6-9-9-4 0 0-8-11-4-23-1 0 2-15 10-14 3-7 6-10 0 0 6-6 14-34 11-9 13-7 20-12 5-13 9-1 12-17 5-4 17-12 0 0 5-7 11-9 0 0-2-5 13-2 18-9 10-5 11 1 16-1 12-8 13-4 26-3 0 0 37M293 2100l22-7 16 0 0-2 36-16 8-2 14-1 13-6 4-5 11-7 7-1 6-8 11 0 0-13 8-8 38-19 13-26 0-5 5 2 14-8 4-8 1-11 10-6-2-6 3-11-7-13 1-7-16-20 3 0 0-17 2 0 0-1-9-11-12 6-8 0 0-1-25 9-3 3-15 0 0 4-16 7-13 0 0 2-8 6-7-3-15 12-11-2-5 11 0-4-11 6-9 12 0 7-12 8-8 0 0 10-6 12-8 27-7 11 5 7-5 10-1 6-9 9-4 13 4 15-1 0 0 16-4 0 0 11-2 12M293 2100l22-5 32-10 8-11 4-8 7-10 5-12 11-13 6-18 1-10-5-10-6 0 0-7-16 1-13 3-2 8-23 11-17 10 2 15-14 2 0 8-2 0 0 55M293 2100l27-8 16 0 0-6 14 0 0-4 17-7 29-7 6-8 15-11 10-1 16-7 8 3 5 1 10-17 21-13 2-2 15-6 3-15 8-22 9-7 6-10 9-6 10-11 12-10 4-11-1-9 4-6 0-16-5-9 6-12-3-11-1-10-11-1-16-19-16-2-8 9-19-5-16 10-7-1-9 11-8 0-14 8-13 12-15 6-6 11-28 19-11 5-12 15-13 5-13 25-16 17-5 11-8 10-3 0 0 10-5 13 0 89M294 2099l8 0 37-8 11 8 9-9 12-5 1-4 8-6 13-6 7-10 12-9 7-15 30-29-1-7 13-8 7-17 8-9-10-17-3-18-8-4-11 0 0-2-4 5-13-5-14 5-10 10-6 12-7 4-12 9-9 6-3 11-5 4-14 6-3 9-10 13-24 13-7 11-4 9 3 12-3 5-6 19 0 17M293 2099l24-9 16-3 8-5 10-2 11-10 11-5 5-7 17-9-1-14 8-13 0-12-12 2-18 0-14 12-10 3-10 8-13 8-20 18-11 17-1 22M293 2100l50-11 1-2 12-4 9-7 7 0 0 5 22-6 16 0 15-8 24-19 9 0 8-11 24-22 0-12 3-9 16-33 5-4 0-8 3-9-4-19 1 0-1-26-5-11-8-10-15 1-11-1-17 5-7-1-36 11 0 9-10 8-32 34-8 15-9 7-18 12-9 13-12 13-1 5-13 9 2 6-8 13-3 0 0 66M293 2100l10-5 12 0 0-5 29-9 25 1 0-5 12 0 0-5 10-6 10 1 13-8 11-4 19-7 8 0 0-12-1 3 17-7 7 0 0-12 17-14 15-9 5-4 13-19 4 0 0-8 7-10 2-14 3 0 0-8-9-27 2-20-7-22-8 1-1-2-8-7-21 5-8 5-10 3-11 11-12-4-26 5-9 0 0 6-10 8-12 7-6 11-5 5-15 5-3 13 1 6-8 0 0 8-7 0 0 6-8 10-16 15 4 0 0 6-4 11-11 7-14 17-3 11 1 24-3 9 0 33M293 2099l37-11 12-2 7-6 15-12 10-10 3-10 8-9 17 0 0-14 4-8 4-15-7-11-3 0 0-10-6 0-16-4-18 5-10 11-5 9 4 1-6 0 0 7-12 17-10 8-4 0 0 7-7 11-8 0 0 11-9 24 0 12M294 2099l28-1 0-2 33-8 17-3 9-7 10-1 29-11 4 0 0-5 12 0 5-12 12-2 8-25 14-25-4 0 0-7 5-21-5-15-19 0-11-14-15 7-18 0-26 14-14 16-3 7-14 9-7 0-2 14-24 16-7 9-13 23-1 13-2 0-2 20 1 12M293 2099l28 1 14-2 19-10 20-1 15-9 11-11 9 0 2-8 10-6 3-15 8-13 12-10 15-2 5-8 5 0-2-13 4-11 3-12 4 0 0-14 7-12-22-26-11-11-9-5-3 7-9-3-18 0 0 9-2 12-17 6-9 1-19 16-10 4-4 8-3 11-6 15-10 0 0 13-14 8-2 14-13 15-4 9-3 12-3 41M294 2099l29-2 0-3 25-7 13-7 30-5 9-7 13 0 0-4 5-5 10-1 8-8 5-10 12-10 15-8 4-9 1-23-7-8-2-10-14-22-15-5-6 2-21 14-38 9-11 10-7 10-10 12 2-2-8-1-18 15-8 12-3 8-6 23-8 43M293 2099l11 0 0-1 13-1 12 1 22-8 8-8 12-3 11-14 5-13 5-9-1-14-6-19 0-16-3-12-9-4-16 8-8 6-12 13 2 8-6 0 0 10-7 4-8 14-9 8-9 11-7 14 0 26M293 2100l30-9 17 0 0-3 11-5 16-3 14-10 7-15 10-10 7-4-2-6 10-12 5-12-6-13-5-5-15 11-12 12-25 4-10 11-18 6-7 0 0 14-24 30-3 0 0 19M294 2099l10 0 0-4 41-22 12 1 9-15 22-4 29-1 0-3 13-9 0-8 9-9 19-2 0-8 14 0 0-6 10-7 4-7 14-6 19-22 5-10 6 0 0-12 7-16-6-6-1-24 3-4-11-15-13-5-7-7-23 0 0-2-16 1-20 17-9-4-23 10-8 0 0 11-18 18-12 11-1 7-6 14-9 0 0 8-10 3-9 10-6 12-7 9-9 0 0 4-8 5-7 13-8 5 0 80M294 2100l9 0 0-3 10-5 2-3 11 2 12-2 16-5 15 3 20-5 8-8 21-12 10 0 0-7 8-8 14-4 6-5 22-25-1-11 9-16 32-21 13-3 3-23 7-6-5-8 7-16 5 0 0-19-2-7 2-16-2-14 3-8-1-6-7-13-10-1-22-7-11 0-7 12-16 0 0 7-25 0 0 1-8 1-11 14-13 7-16-3-10 0-12 11 0 7-10 6-2 11-7 14-10 13-6 0 0 6-5 11 4 9-6 20-7 13-13 13-5 0 0 7-6 0 0 5-8 15-4 26 2 9-2 13-1 10 2 11-2 12M293 2100l30-15 13 0 0-3 15-9 9-8 4 0 19-9 10-10 22-6 9 0 0-5 26-4 9-5 12 0 15-4 26-21 3-14 5-13-1-13-2-12 2 0 0-7 4-4-13 1-6-11 4-9-12-10-20 5-12-1-15-4-10 1-32 13-11 2-10 8-4 10-21 14 2 13-11 2-7 11-13 10-8 13-17 19-4 11-6 0 0 20-2 12 0 21-2 11M293 2099l53-1 15 2 33 0 0-8 16-10 22 0 0-10 24-13 5 0 0-7 17-5 5-7 43-12 1-10 6-9 17-9 11-10 0-11 0-14 6-13 11-6 5 0 0-18 4-16-5-12 7-11-6-7-6-9 3-5-10 0 0-8-32 4-26-8-9 1-20-7-7 7-13 2-18 6-3 17-16 4-6 6-7 2-5 12-11 10-13 5-15 11-4 7-11 10-10 0 0 8-11 10-1 5 3 7-10 3-12 8-13 23-3 34 1 12-2 0 0 27-3 14M293 2100l8-2 9 1 12-4 15-1 54-31 3-6 9-6 3 2 8 0 0-8 13-12 22-30 8-5 1-17 0-4-10 0 0-11-10-6 0 6-11-1-19 2-13-1-13 10-12 3-17 11-17 0 0 10-7 10-17 15-4 0 0 15-5 0 0 6-4 13-2 0 0 10-4 0 0 30M293 2099l15-3 11 0 0-4 16-1 11-6 33-29 15 1 14-13 3-9 8-9-1-10 15-13-4-19 0-11-7-17-35 3-4 4-14 9-16 0 0 7-12 4-9 9-10 14-4 8-12 13-3 12-9 23-1 37M293 2100l32-8 13 1 20-5 6-12 14-4 11 0 0-6 18-4 9 3 12 1 14-7 24-4 9-8 16-5 1-10 8-3 2-13 8-1 11-12 4-8-2-12 6-14 6-4 0-16 10-11 1-14-22-20-2-8-12-3-15-1-14 0 0 2-11-4-16 7-18-2 0 7-15 8-5 7-15 6-11 0 0 8-9 8-6-1-4 13-27 10-8 13 0 5-7 6-7 4-11 2 2 0 0 11-16 31-1 6 1 11 3 7-7 31 1 12M293 2100l33-7 10-4 16 0 0-6 9-7 12 3 18-7 11-9 10 0 0-3 5 0 0-5 18-3 1-12 13-5 14-1 9-10 7 0 0-14 14 0 13-3 12-13 1-7 4 0 0-11 9-8 14-11 12-13 10-13-4-9 8-23-5-16 3-15 7-12 5-15-2-24-9 0 0-17-4 0 0-7-8-10-5 3-4-4-19 0-13 8-19-5-18 5-11 9-4 10-12 9-13 2-8 15-18 11-3 6-7 10-5 15-9 2-24 24-12 6-6 0 0 16-18 15-6 9-18 0-8 12-3 13 4 12-4 0 0 8 2 10-1 4 1 7-5 21 4 30-4 34M294 2100l14-5 15-2 32-1 18-5 11-9 9 0 0-4 9-2 3-4 13 0 7-10 6-16 10-3 10 0 0-12 52-46 12-5 7-11 11-11 3-13 10-11 7-12-12-26 4-16-3-9-1 0 0-14-19-22-24-4-8 4-18 6-7 6-11 4-12 2-13 15-10 12-17 7-15 24-10 0 0 9-22 20-2 10 0 12-22 23-15 26-13 7-6 35 8 6-2 6-6 8-3 11-1 20M293 2099l61-14 12-6 29-1 0-4 3 0 0-4 11-8 25-12 18-20 8-4 24-32 0-16-5-27-29-11-6 6-20 9-13 0 0 3-7 0 0 6-13 2-25 15-9 9-12 6 8 0 0 7-6 9-10 0 0 11-16 6-6 19-9 5-5 19-4 0 0 7-4 20M293 2099l25-4 13-5 10-8 11-2 18-8 17-20 10 0 12-5 12 0-1-15 6 0 0-5 6-10 4-25 10-15 0-11-7-10-3-11-9-4-12 0 0 8-13-5-7 4-14-1-14 19-11 8-22 9-19 6-5 14 2 14-14 9-5 12 0 61M293 2099l40-4 16 0 0-1 10-7 10-11 23-2 10-9 5-6 9-19 3-10 13-6 3 0 0-14 8-18-6-25-9-18-16 3-4 3-17 3-12 10-16 25-17 12-13 25-16 0-2 15-9 9-7 10-4 10-1 25M293 2099l28-8 11-6 15-4 14-3 11-5 10 0 0-6 8-9 29-21 6-9 4-16 7-13-12-41-18 0 0 5-14-7-10 6-12 2-15 8-9 13-7 14-2 12-7 10-16 11-6 12-2 0 0 16-7 10-4 0-2 17 0 12M293 2099l25-3 13-3 11-3 11-7 17 0 0-3 6-6 17 0 6 2 2-6 11-12 18-6 11-9 9-13 14-36 1-17 14-9 4-10 9-8 6-16-6-12-10-14-21-5-11 1-34 13-3 9-9 2-5 13-6 9-6 6-11 5-12 11-19 1-8 3-8 8-9 17-3 15-9 19-7 0-1 19-4 23-3 22M293 2099l38-11 10-8 18-10 0-8 11-6 9-9 18-14 2-11 15-10 1-4-5-20-5 0 0-4-15-4-6 3-20 3-9 7-6 14-15 4-16 16-4 7-11 6-1 7-8 20-1 32M293 2099l15 0 0-2 30-6 35-11 5-6 6-3 22-8 21 0 0-6 34-14 5-12 8 0 0-7 4-7-1-24 2 0 0-7 9-7 18-19 5-15 8-7-1 0 1-15-2-12-4-15-11-12-4-9 5-11-6-12-12-3-9-8-15-1-10 5-12 0-9 5-16-1-6 12-11 7-3 8-10 3-25 25-18 11-11 12-6 8-2 0 0 10-8 1 6 11-11 31 0 11-12 8 0 10-4 6 0 76M294 2100l51-9 23-16 14 4 10-7 14 1 3-4 24-7 13-13 10-7 13 0 0-12-6 0 0-2 13-16 3 0 0-11 10-1 3-18 9-11-5-16-1-15-12-16-9-20-9-4-10 0 0 4-22 10-5-5-7 1-4 4-17 28-6 4-13 0 0 9-7 11-4 12-15 20-12 7-5 18-9 2-10 12-12 10-3 13 1 6-7 10-1 7-4 8 0 9M293 2100l9-6 23-9 12-9 6-7 10-7 5-7 12-9-1-7 6-6 0-5 5-12-11-3-11-1-3 8-20 6-1 12-28 16-10 22-3 10 0 14M293 2100l9 0 0-3 13-2 7-4 12-5 10-6 7-8 16-9 7 3 9-5 22 8 6-2 17-10 8-10 12-2 9-4 20-13 23-16 7-19-6-6 8-6 5-11 10-9 7-13-7-10 8-19 1-11-6 0 0-11-2-6-16-10-11-2-16 6-6-2-13 7-3-2-11-2-27 18-5 0-25 9-7 21-18 10-19 5-6 20-14 0 0 9-8 17-7 8-5 15-15 15 0 67M293 2100l11-4 36-7 9-6 13-3 17-11 10-4 17-5 17 0 0-1 9-10 16-7 9-6 6-18 1-7 12-5 1-20 8-13 6-32 3-9-1-10-2 0-2-20-3-4-18 1-42 11-9-1-11 5-11 0 0 8-10 0 0 8-16 18-5 2-3 4-8 6-12 6-11 16 5 18-7-1 1 8-9 8-11 26-10 11-4 12 1 12-3 13 0 11M293 2100l38-9 9-8 14 0 0-10 15-4 10-7 4-7 9-1 2-13 27-15 14 1 10-10 6-9 11-10 4-12 11-19-17-31-8 0 0-6-18 0 0 4-4 6-6 5-21 1-28 20-8 10-4 8-12 16-6 10-11 7-16 21-17 17 0 10-8 15 0 20M293 2100l44-16 10 0 0-4 17 1 10-11 7 0 0-6 5-12 17-5 0-11 9-6 5-8 2-12 20-10 11 1-2-16 4-5-2-5 4-7-4-15-11-5-15 5-15 2-16 18-22 7-13 0 0 9-12 8-4 8-8 0 0 7-6 1-9 11-3 16-15 35-7 25M293 2099l26-3 20-8 12-11 12 0 28-14 13 0 0-11 11-11 2-7 14-8 14-6 8-5 6-15 2-12-1-5 2-15-1-6-4-8 3-11-4-6-28-10-5 6-18 7-11 0 0 4-10 0 0 3-12 15-10 5-12 0 0 9-17 15-1 12-14 8-7 8-1 5-10 0 2 26-4 13-1 13-4 0 1 24M293 2099l11-4 12 0 20-10 6-10-2-7 3 1 5-11 15-8 14-15-2-4 6-10 0-3-7-13-15 2-19 13-2 7-9 7-8 0-2 18-18 9-4 0 0 6-4 11 0 21M293 2100l27-9 13-1 35-8 9-9 9-5 13-11 17-8 12-3 3-7 23-26 5-13 5 1-1-4-6-11 2-16-15-13-15-5-12 2-21 0 0 10-11 15-6 1-10 14-2 7-13 8-16 25-17 13-9 5-5 12-13 18-1 17M294 2099l27-8 14 0 0-5 13-6 14-10 18-24 7 0 0-9 12-4 10-15-1-10-10-11-14 7-18 0-13 4-5 10-15 6-10 10-9 16-8 9-9 14-4 12 0 15M294 2100l32-9 16-8 6 0 0-4 12-6 3-10 16-9 11-4 15-8 9-10 13-4 29-29-3-13 5-14-8-29-7-8-20-8-9 4-14 8-24 9-4 9-9 30-11 10-10 2-9 13-9 24-14 24-7 0 0 12-5 8-5 20M293 2100l37-10 16-10 9-11 21-15 10-3 5-18-3 0 0-6-29-2 0-2-10 7-8 8-20 10-4 0 0 4-5 10-11 8-7 8 0 21M293 2099l48-10 21-14 10-10 2-11 21-12 9-18-14-4-6-12-32 1 0 10-17 15-15 9-5 8-8 7-1 8-9 4-4 7 0 23M293 2099l50-10 12 1 11-10 22-5 12-7 10-9 35-15 5-9 23-17 0-4 8-3 11-9 11-11 16-8 6-10 22-3 4-7-1-10 11-23 4-13-8 0 0-25-8-5 5-11 1-8-20-22-10-8-17 4-16 0 0 7-17 9-13 1-18 5-8 11-9 8-13 0 0 3-16 19-7 2-12 10-7 10-18 9-10 9-11 5-9 9-8 0 0 10-3 4-7 17 3 15-5 0 0 11-11 21 0 63M293 2100l34-4 9-3 10 0 10 5 23-15 7-1 13-7 15-12 18-4 5-14 29-20 12-11 10 0 0-7 3-14 20-20-3-7 9-11 2-9 6-12-5-14 1-8-12-14 0-10 4-4-20-8-12 0 0 4-13-5-18 8-1 4-9 8-9 12-11-3-9 6-7 0 0 12-14 13-9 2-14 5-7 0 0 9-11 14-13 3-5 5-16 28-13 12 1 12-9 35 1 0 0 15-2 11 0 13M293 2100l21-9 9-2 13-8 12 0 0 1 10-6 7 0 6-3 13-11 10 2 6-14 18 4 8-8 8 0 0-8 20 0 0-5 17-3 11-7 9-13 7-14 2-15 12-15 2-14 0-9-10-13 2-21-3-9-13-14-46 5-16 3-11 6-13 3 0 2-16 8-17 13-18 21-3 20-4 3-16 23-5 17-6 12-4 16-11 5-11 2 2 17-2 10 0 28M293 2099l45 1 12-3 22 2 34-13 10-11 12-9 9-14 16-11 7-14 16-11 15-6 12-15 13-21 1-42-4-9-9-1-12-6-22-3-32 14-14 12-14 4-9 8-7 10-6 3-6 7-14 8-6 9-14 12-12 17 1 7-12 7-8 0 0 9-12 12-3 0-1 17-6 12-2 18M293 2100l10-2 34-11 17-3 10-12 9 0 7-1 33-10 11-21 19-8 8-15 22-9 9-15 13-15 9-4 5-12 7-8 2-6 0-8 4-22-2-13-6-18-8-1-8-8-12 2-17 5-14 11-15 7-6-2-16 17-9 0 0 6-20 15-16 24-19 14 0 7-6 15-10 11-15 10-12 6-4 10-6 7-2 12-5 13 0 31M293 2099l41-14 11-9 6 0 0-9 8-10 8-4 5-7 12 0 0-11 8-2 10-8 5-2 11-15 5-28-18-6-7 4-23 6-14 10-13 13-17 14-8 12-19 19-6 4 0 10-5 11 1 23M294 2099l13-4 14 0 11-5 13 0 0-7 19-8-1-12 6-5 11-5 22-6 7 0 0-2 14-15 8-5 9-3 5-8 15-7 14 0 0-12-2-11 15 0 5-15 10-6 1-5 10-13 4-11-3-22-8 0 0-27-20-4-25-2-18 2-16 7-11 10-7 14-20 7-9 6-4 0-13 14-2 10-16 19-12 21-4 0 0 6-7 10-13 15-4 15-6 14 2 8-3 9-4 0 1 21-2 12M293 2100l13-4 13 0 0-2 12-1 11-4 9-8 7 0 13-7 5-12 7-3 15 0 2-25-5-12-10-11-12-8-15-2-7 9-12 7-16 27-10 9-3 9-9 10-5 9-3 0 0 18M293 2099l12-3 34-3 33 3 16-9 27-10 16 2 17-25 12 0 0-5 15-8 16-16 3 0 0-8 17-7 21-4 11-10 10-13 2-8 1-19 5-12 2-13 6-9 4 0 0-5 4-12 5-11-7-3-2-5-5 0 0-16-3-11 0-17-16 0 0-10-9-16-34 1-7 9-8-3-6 8-19-4-13 11-8 0 0 9-12 5-7 13-23 11-5 15-5 8-12 10-9 13-4 11-20 8-9 7-11 0-8 14 6 17-6 12-14 20-6 0 0 9-7 7 0 73M293 2099l15-3 12 0 16-4 23 0 17 4 4-3 21-1 11-11 26-15 18 0 0-8 11-5 10-6 14-3 4 0 1-23 12 0 4-23 9-12-2 0 0-6 5-18 9 0 3-31 5-15-6-7 2-3-10-6 0-8-17 1-12-6-17-1-9 2-24 7-18 12-12 0-17 9-12 9-2 9-32 21-13 2-24 32 1 18-13 24-8 11-1 9-4 0 0 48M293 2100l10-3 8-4 12 0 13-7 7 4 13-2 18-6 7-3 12-9 3 4 11-7 13-11 21-3 11-9 18 3 13-3 9-7 5-13 16-2 24-18 5-20 7-18-1-12-3-11 6-7-5-10 2-15-2-12-6-17 0-14-6-4-29 0 0-3-9-7-10 2-12-1-6 4-11 1-13 0 0 13-11 11-12 0 0-1-11 11-15 1-7 9-13 4-4 5-4 11-8 7-13-5-8 9 0 14-10 9-9 6-4 11-3 14-14 14-5 12 1 85M293 2099l12-2 42-12 10-9 14-7 11-3 9-5 6 2 11-5 11-10 10-3 10-11 9-3 4-7 4-12 15-12 3-20 9-12 4-11-3-14 0-12-17-6-31-2-13 11-7 0 0 3-20 7-5 6-12 2-3 2 5 7-9 7-12 7 1 12-17 13-3 11-14 0 0-2-8 12-8 6-1 17-12 18-3 11 0 14-2 13M293 2099l12-4 11 0 12-4 17-1 9-11 11-10 12-1 7 0 6-2 22-2 0-2 14-9 6 0 19-12 11-3 10-8 11 0 0-9 24-24 10-13 9-3 21-10 5-22-12-25 7-9 0-15-5-11 6-9-6-8-7-6-6-2-11-8-8-7-6 0 0 2-13-4-17 3-25 8-7 6-38 10-3 10-9 7-13 13-6 10-8 5-6 7-15 7-10 11-15 6 1 11-5 13-5 2-3 12 2 12-3 12-2 4-4 0 0 16-6 21 2 25-3 14 0 7M294 2099l35-12 27-4 9-7 10 5 10-1 11-3 22 0 0-5 8-9 15 2 1-7 5-8 12 0 0-8 14-12 11-11 9-17 11-7 1-10 10-3 5-12 8 0 0-21-6-16 7-5-9-13 2-10 8-7-2-9-9-9-18-9-18 3-11-2-12 1-8 6-9 3-15 12-4 16-12 10-17 2-3 14-12 11-9 9-2 0 0 7-8 8-3 11-12 5-8 0 0 10-6 18-10 0-2 21-2 0 0 4-9 6-9 0-1 15-6 24 0 15M293 2099l12 0 26-3 12-3 16-8 17-4 21 0 0-7 11 0 22-4 6-7 13-2 7-8 0-3 3-14 9-13 7-6 14-8 26-24 19-14 2-20 14-16 0-6-2-9 2-15-1-15-7-17-5-11-11 0 0-3-17-6-13 0 0 7-23-1-30 4-3 2-16 19-9 5-22 8 0 4-5 15-14 2-9 6-13 13-14 6-1 20-5 10-8 10-1 9-14 12-13 6-3 15 0 28 3 27-3 0 0 19M294 2099l18-10 12-3 10-5 17-3 17 1 13-7 12-8 16-7 27-1 13-8 1 3 10-12 13-5 22-6 7-8 12-8 8-13 3-13 12-16 9-2 15-19 4-7-4-22 0-10 2-8 7-4-13-17-10 0 0-7-4-10-11-9-17 3-11-2-12 6-17 4-9 12-10 4-6 4-12 3-5 11-10 7-22 5-4 15-10 1-11 4 1 8-16 15-19 6-8 10-6 12 4 7-12 25-7 11-14 7-6 1 1 66M293 2099l23-1 0-2 15 0 0-2 42-6 11-4 10 0 0 2 16-6 11-9 11-11 4-7 5-2 3-10 12-11 41-8 7-20 5-3 6-8 9 0 0-5 6-11 17-17 0-8 4-11 9 0 0-13-7 0 0-12 10-17-3-13 2-20-6 0 0-9-5-6-8-6-14-2-39-2-25 6-6 11-8 10-19 2-14 7-20 7-8 0 0-7-13 3-3 9-4 6-7 4-5 0 0 4-7 10-9 7-3 10-8 6-6 14-2 15-8 8 4 9-5 25-15 22 3 11-4 0 0 20-3 11 1 8-3 11 0 11M293 2099l12-1 36-7 28-7 8-3 7-5 13 1 9-5 16-4 3-8 11 0 0-6 9-7 14-4 13-11 9-18 12-12 2-14 7-8 10-5-5-24-7 0 0-10 3-20-6-10-6-13-14 0 0-15-14-10-7-2-16 3-11 6-11 10-14 6 0 2-21 13-6 10-18 12-5 7-10 6-10 26-25 24-2 13-5 8 2 19-4 12-6 0-1 52M293 2100l13 0 0-6 13-4 39-16 4-6 12-4 32-23 8-12 8 0 0-13 12-11 9-35-1-17-8-7-2-8-22 2-15 10-22 5-19 25-14 7-13 11-6 17-15 15-1 14-11 41-1 14M293 2100l16-3 15-5 11 3 18-6 16-3 13-10 26-9 16 0 0 3 12-5 8-11 9-5 2-5 20-6 3-8 12 0 0-5 14-9 8-2-5-11 15-28-1-14-8 0 0-11-10 0-2-28-19-11-15-4-17-2 0 2-13 7-12 12-13 6-18 5-7 13-10 3 4 2-5 7-32 23 1 0 0 8-9 10-9 6-17 0-8 13-8 40-1 13 0 24M293 2100l29-7 29-10 16 0 13-8 10-11 9 0 10-9 11-8 11 0 0-1 12-8 1-17 6-11-2-10 16-11 6-8-9-13-6-14-8-3-32 11-19 0 0 6-9 6-12 3-9 0 0-2-9 3-8 12-10 8-2 5-6 8-10 21-2 11-10 16-9 0 0 12-6 28M293 2100l43-6 16-3 17-6 9 0 0-7 46-16 6 0 0-4 9-8 8-3 10-7 8-3 19-19 0-10 4-11 11-9 0-11 18-22-6-11 6-4-5-16 0-16-4-19-4 0 0-7-15-1-24-6-16 5-5 7-8 6-11-1-5 7-18 5-18 26-17 11-9 0 0 5-7 13-9 0 0 9-15 12-8 0 0 9-10 8-4 0-1 12-11 18 0 73M293 2100l14 0 0-5 16-7 17 0 0-4 13-8 8 0 0-8 33-27 9-11 17-16 8-3 3-16 4-7 2-9-10-7-20 4-15 0-15 4-16 10-10 17-14 11-5-1-1 8-6 6-1 13-15 9-9 9-6 0-1 38M293 2100l8-3 33 0 21-6 11-7 14-15 35-24 13-11 24-14 13-5-4-11 3-11 9-6-7-24 7-9 3 0 0-10-7-10-12-3-16-11-9 0 0 7-9-2-17 5-17 1-2 5-19 27-13-8-10 4-6 9-10 0 0 5-5 7-6 13-7 0 0 4-8 19-1 7-9 12 0 64M293 2100l23-5 16-12 10-2 8-2 16-13 15-16 5-3 13-10 5 0 0-12 9-14-3-14-13-16-13 5-16 3-9-3-9 2-13 18-14 0-2 18-5 10-9 9-14 37 0 19M293 2100l14-6 17-5 12 0 0-6 13-7 19-4 6-13 8-6 9 0 0-14 14 0 5-8-7 0 0-12-11 0 0-8-12 0 0 13-11-3-16 13-34 17-9 16-10 7-3 7-4 19M293 2099l23-10 9-6 33-11 13-8 2-6 20-7 15 6 5-6 10-1 12-12 12-8 4-5 19-7 13-15 18-13-2-13 8-8 2-12 8-9 2-12-3-11 6-7 1-30 8-11-7-10-4-10 0-11-13-8 3 0-37-2-7 10-8-2-34 9-12 0 0 14-16 12-12 11-6 10-20 13-7 12-5 15-9 10-14 8-3 12-9 9 2 20 0 14-9 9 1 2-8 4 2 14 0 14-2 7-2 0-1 37M293 2100l36-7 23-2 6-4 11 0 0-4 12 1 19-6 10-12 19 10 22-12 15-10 11 0 0-1 15-7 9 0 0-6 11-18 2-6 22-28 13 0 0-12 7-12 10-13-4 0 0-15 10-7 5-12 0-8-3-11 6-31 0-15-7-16-9-7-8-12 1-21-10 6-31 7-10 7-29 12-18 2 0 15-11 6-17 16-26 12-10 14-13 11-10 5-15 23-12 0 0 16-17 19-6 24-7 17-1 6-18 17 4 6-1 10-6 27 1 25M293 2100l42-6 12-2 11-8 15 0 0-8 17-8 17 0 0-7 13-6 7 0-1 1 9-2 11-13 9-6 16-4 15-22 8-22 0-16 14-16 3-9 8-10-6-10-3-12 4-12-6-26-4-7-10 1-24-3-10 4-11 0 0 7-16 0-13 14-12 3-12 0 0 6-12 5-9 11-13 12-7 4-6 9-2 0 0 11-3 5-10 30-15 24-5 15-6 9-1 11-5 0-2 22-3 13-4 0 1 18M293 2100l0-25 4-10 14-9 12-5 10-2 8 3 6 19-3 13-9 10-15 0 0 6-27 0M293 2100l0-54 5-11 29-13 12 1 13-2 14 2 12 9 4 7 12 25 0 10 2 3-9 12-12 11-82 0M293 2100l0-25 7-9 18-4 6 4 0 4-4 9 2 8-15 13-14 0M293 2100l0-45 14-4 9-9 15-4 13 0 0 2 13 0 8 5 6 6 1 9 5 10-3 12-18 18-63-1M293 2100l0-45 5-10 13-9 15-7 11-4 13 0 0-2 22-6 15 0 8 6 2 6-12 36-2 0 0 13-21 21-69 1M293 2100l1-59 22-14 25-10 15 0 0-2 12 0 0 2 12 6 1 23-4 11-2 13-10 13-5 14-15 0 0 3-52 0M293 2100l0-40 2-15 11-11 19-8 25-2 13 3 6 6-4 29-2 11-7 14-11 12-52 1M293 2100l0-69 7-9 24-21 25-8 12 0 20-4 7 0 0 3 13 4 10-2 15 9 0 7 10 9 0 11-4 5-1 13-4 13 1 11-5 0 0 13-4 15-126 0M293 2100l0-32 4-8 11-6 11-4 21 10 10 9-8 23-9 8-40 0M293 2100l0-54 7-13 16-7 22-19 25-8 13-1 16-4 12 9 11 3 5 7 5 13 0 10-11 8-7 9-5 13-7 15-21 19-81 0M293 2100l1-54 10-12 13-9 24-11 6 3 0 7 7 9 0 9 4 16-3 13-7 9-13 11-12 9-30 0M293 2100l0-26 10-5 13-1 19 6 0 8-6 8-7 0 0 10-29 0M293 2100l0-82 1-12 11-8 14-6 9-11 8 0 16 4 8-2 7 3 9 10 2 15 11 24-1 10-11 12 0 9-8 15-10 9-6 10-60 0M293 2100l0-46 8-8 29-6 11-1 9 2 9 6 5 25-3 13-8 10-12 5-48 0M293 2100l0-33 5-11 14-6 22 1 13 6 9 9 3 11-4 9-7 9-10 5-45 0M293 2100l0-48 19-22 16-4 16-7 11-2 10-8 13-4 11 2 24 10-5 16-6 6-3 16-5 14-10 10-7 12-17 9-67 0M294 2099l134 1 21-2-2-2 17-4 28-26 12-5 16-12 10-1 13-5 6-6 4-16 11-15 3-11 14-4 2-5 0-8 13-10 15-15 4-12 17-13 3-7 17-16 10-17 4-17-6-10 5-23-12-12 3-8 4-17-1-14-7-10 2-28 4-17-2 0-12-21-7-8-4 0-17-19-6 0 0 9-8 0 0-5-6 2-35-6 1-4-21-6-13-1-7-10-5 0 0 1-16 2-9-6-14 0-14 12 3 16-28 19-14 0 0 11-11 8-8 13-8 4-7 12-18-5-7 14-5 5-8-1-13 10 6 0 0 7-6 11-11 3-4 16-9-1-1 11-16 14-5 9 0 100 3 7-3 24 0 16 2 8-2 18 2 18-2 0 0 61M293 2100l8-3 19 0 14-7 12 0 0-1 18-10 11-1 22 0 0-2 8-8 12 3 18-11 1-9 15-7 20-2 2-6 11-9 22-6 18-12 3-3 11-2 28-15 16 0 0-10 22-16 6-9 0-14 4-4 0-20 7 0 0-20 2 0 0-18-1-13-7 0 0-5-10-4-1-4-15-4 3-14-7-9-15-9-7 1-43-19-16 11-9-3-9 8-14 0 0-6-8 0 0 7-15 6-19-6-20 17-6 7 1 5-27 10-11 8-9-4-8 13-18 5-17 17-5 8 1 14-18-4 0 180 1 9M293 2100l17-3 82 3 17-3 4-15 18-6 8-9 5 4 21-6 3-12 23-7 4-6 18-6 5-6-4-9 15-4 3-19 8 1 4-19 0-11 5-12 22-20-3-8 7-18-3-3-9-4-11 0 0-8-4-10 6-13-12 0 0-9-13-6-23-6-14 9-7 0 0-8-2 0 0 6-5 5-2 0 0 5-20 3-2 12-14 0 0 9-14 2-5 4-21 2-2 17-11 14 0 22-19 7-9 2 4 15-11 9-15 7-8 0 0 7-14 17-2 13-15 15 2 3-7 10 0 42M293 2100l14-2 14 1 34-12 10-8 13 8 15 0 6-13 18 3 18-3 11-3 16-13 13 0 0-10 13-11 6-8 18-1 13 2 15-12 8-10 5 0 0-9-3-13 0-4 12-9 8-10 4-10 3 0 0-17-8-19-8-12 4-8 4-44-17-15-7 3-9-5-14 4-22 13 4 6-12 13-19 0 0 8-13 0-8 5-15 14-25 5-11 12-3 6-14 13-13 5-13 0 0 6-7 5-10 12-21 9-9 0-1 19-17 0 0 96 1 13M293 2100l11-1 54 1 16-3 2 3 16 0 13-13 8-5-1-2 13-7 18-17 19-15 12-3 11-14 11-8 4-9 16-14 12-6 10-11-3-37 3-11 11-4 7-5 12 0 0-8 4-10 1-7-9-15-13-29-19-10-10-8-8 3 0 5-20 7 2 8-13 1-8 0-9 9-11 2-6 0-14 5 2 11-14 0 0 5-16 4-13 11-22 11-3 6-16 6-3 16-17 13-3 10-15 5-19 13-3 6 0 111M293 2100l26-5 12-5 11 2 9-2 9 0 0-9 24-1-1 0 0 2 11 5 10 1 11-4 13-8 10-11 19 0 0-14 2-8 21 0 0-9 8-16 7-5 13-6 14 0 0-14 22-9 26-33-8-15 3-29 0-18-1-8-12-6-16-14-19-6-10-5-15 5-6 12-35-7-2 9 2 5-7 9-10 0 0 8-24 0 0 6-6 13-14 4-13 6-6 17-6 6-5 12-8 7 1 11-13 0 0 7-12 11-7 0 0 12-18 16 5-3-7 0 0 12 6 5-7 7-4 9-2 0 2 20-3 11 0 19M293 2100l13-6 30-5 17-2 13 4 7-8 9 3 11 0 14-5 29-27 43 2 9-6-1-2 8 1 12-7 24-1 7-8 11-4 34 7 14-14 17 0 1-18 11-20 9-5 6-12-1-9 12 0 0-14-8-8 12-23-6-29 6 0 0-9 3-16-6-34-6 0 3-13-1-6-16-14 6-7-9 0-11-14-28 9-22-6-10-7-12 7-22-3-3 6-23-1-17 3-20-7-10 0 0 7-17 12-4 0 0 8-2 8-12 13-12 2 4 2-28 20-7 9-21 10-1 9-12 6-5 17-6 11-5 11-14 11-6 11-11 0 0 10 7 10-5 2 2 24-4 11 0 104M293 2099l7-2 7-6 9 0 10 3 22-3 5-9 17 1 25-14 17-3 15-6 6 0 0-3 10-9 11-5 18-20 19-11 6 0 0-7 4 0 1-14 9-9 3 0 0-9 3-5-2-12 9-12 18-17-4-7 13 0 0-19-18-9 4-13-1-6 4-13-1-9-14 0 0-16-16-8-9-16-14 0-32 13-11 0 0 6-4 12-5 5-14 3-7 8-13 10-11 19-24 36-17 0 0 5-6 14-6 0-12 17 0 10-13 11-6 11 1 12-8 15-3 0 0 11-2 1 0 28 2 9-2 10 1 23M293 2100l42-4 0-1 20-5 26-9 13-8 6-7 12-1 1-12 49-16 10-12 13-7 11-4 14 0 0-7 17-4 9 1 12-8-2 0-6-5 6-9 4-20-7-14 5-13-2-14 16-5-8-30-2-18-5-7 3-7-10 0 0-8-3-5-30 6-12-5-20 3-22 0 0 9-8 10-5 17-15 0 0 12-5 0-6 8-11-4-12 10-8 16-11 16-1-2-14 7-6 8-5 13-16 2-2 13-6 5-20 29-6 18-3 20 0 48M294 2099l13-2 22-8 17 3 29 0 0 3 11-11 20-13-1-2 13-10-2-8 15 7 13-14 21 7 22-4 14 0 0-6 17-7 22-13 7 0 21-8 11-18 7-4 8-4 14 3 6 0 0-4-3-6-6-18 7-7 1-7-3-20 2-3 0-7-2-11-6-3 0-15-9 0 0-8-4-15-6 0 2-11-11-18-14-7-10-2-23 24-8 4-28-9-12 4-25-2 1 10-11 6-13 15-24 6-16 10-19 0 0 11-10 6-11 3 9 4-21 8-7 17-2 13-16 1-7 5-2 15-8 4 5 0 0 10 8 5 2 7-16 12-3 21 6 12-5 9 0 15-3 8 0 17M293 2099l20-3 10 4 15-2 14-4 14-4-5-7 20-10 35-22 15-2 7 4-5-8 12-1 1-14 17-3-3-13 3 0 0-17 24-10 3-12 21-16 31-43 2-15-5 0 0-11 6-8-9 0-2-19-16 3-11 0 0-6-17-14-7 1-17-9-17 0-8 7 0 14-7 10-3-2-14 7-12 12-1 7-6 4-6 8 1 3-8 22-17 2-12 12-19 32-4 11-9-2-3 16 1 13-6 0-2 27-16 7-1 14 3 5-4 10-3 23M293 2100l16 0 0-3 15-3 32-13 17-1 11 3 34 1 12-7 0 10 16-6 11 5 21 0 0-2 17-15 5-9 11-8 10-22 15-6 11-7 12 1 22-1 11-4 13 0-6 0 0-3 11-14 5-11 10-8 8-4 5-14 13-4 13-9 13-1 4-10 9-14 4-10 1-20-4-15 4-18-9-12 11-9-12-18-5-12 0-13-4-8-19-10 3-6 0-18-9-10 4-12-20-8-6 0 0-9-12 2-15-3-5-5-15-2-6 3-23 9-20-8-20 0 0-6-26-12-25-1 7 14-7 0 0 11-9 11-14 11-15 15-3 7-11 2-11 11-10 2-12 6-12 16-4 0 0 3-20 6 0 17-6 5-6 8-5 1-12 14-3 22-13 24-3-3 0 105 3 4-1 0-2 16 0 26 3 10-3 46M294 2100l26-5 9-5 13-10 14 0 0-3 14-6 24-7 14-12 17 5 20-16 2 3 11-4-1-3 8-11 12 0 0-11 7 0 0-4 14-20 4-11 4 1 5-11 7-10 8 0 1-22 9-20 5-25 10-12 1-9 6-13-14-19 3-10-1-7-4-8-17-11-7-7-33 8-8 8-17-4-10 4 4 2-16 6-7 11-8 5-12 6-14 10 6 12-16 21-8 22-7 4-6 12-11 11 0 16-11 18-4 12-3 15-7 15 1 14-13 0 0 6-5 9-8 8-5 0-1 18-5 13-1 20M293 2099l25-5 22-1 28-13 7 6 22-9 7-9 18-14 12-4 6 3 11-13 19-13 20-4 14 3 8-13 50-46 7 0 0 6 7-10-2-8 3-9 9-7-3-8 7-13-9-15 7-15-5-8 7 0 0-11-10-4-25-2 0-5-24 11-13 0 0-4-9-4-8-1-9 4-15 2-6 9-20 7-14 2-24 22-12 16-14 7-13 13-9-1 5 1-3 13-7 8-8 13-6 20-13 11-3 5 3 9-15 10-3-2-11 26-8 15-2 30M294 2100l41-11 21-7 22 2 10-2 8 2 7-9 18-12 13-5 10 2 23-13 11 0 0-2 16-2 18-17 28-2 0-12 24-10 7-13 10 0 0-19 8 2-2-5 1-15 17-27-14-20 13-9 0-9 6-11-3-9-2-32 4 0 1-18-18-4-5-15-7-5-7 8-22 0 0 5-14-2-14 1-6-3-14 5-28 13-5-11-13 1 2 15-12 4-7-4-16 3-4 13-8 6-6 15-3 0 0 13-11 0 0 7-16 5-2 9-10 9-8 14-6 13-8 12-6 20-13 8-9 8 0 8-7 16 2 15-4 19-9 11 2 9-3 5 0 13-2 0 0 23M293 2099l26 1 12-3 7 0 0-5 21 2 14 0 18-4 16-14 29-2-1-6 14-4 13-9 24-3 0-8 28-19-2 0 0-17 3-19 7-12 10-14 12 0 0 2 9-12 10-12-2-7 7-9 0-15-8 0-1-14 1-14 6 0 0-12 7-12 0-14-5-12-7-3-11 1-10-7-4 6-32 14-14 14-30 3-16-2-27 2-10 10-2 4-14 6-14 11-13 16-26 3-2 5 1 8 5 4-19 20 1 0 0 19-13 16-2 24-11 13 4 18-1 14-2 12 1 11-3 0 0 14-3 0 0 11M294 2100l20-7 14 1 11-7 10-10 50 5 0-2 15-4 15 0 15-16 23-1 0-12 5-9 23 2 4-7 2-7 19-15 23-3 24-18 7 1 0-14 10 1 21-17 3-6 11-14 3-14 1-15 7-14 5-16-7-11-5-5 9-13 3-17-17-35-14-10-1 0 0-6 3-8-10-14-11-5-8 7-12 2-9-1-39 23-11-9-18-2-8-7-17-3-6 7-18 3-21 6 2 13-4 24-3 11-10-1-1 15 2 5-10 10-12 7-8 0 0 23-4 11-7 6 1 10-12 4-12 11-14 4 0 10-4 12-1-1-10 10 1 14 4 24 1-1-5 8-12 13 6 0 0 14-1 9-8 26-3 24M293 2100l26-1 0-4 12 0 0-3 9-7 12 0 0-6 12-6 7 2 10 0 0-5 6 1 21-11 40-6 17-6 5 8 17-8 15-18 18-15 4 1 1-4 11-3 15-11 12-3 13-8 13-23 13-15 10-19-2-4 2-15 4-8 1-9 4-10 2-19 0-9-4 0 0-3 7 0 0-15 5-20-9-2-11-14-3-11-7-12-28-17-21-9-9-2-14 1-16 5-9-5-5-1-33-12-18 0 0-2-24-2-14 8-8-2-5 20-7 14-1 6-8 11-4 0 0 5-16 0 0 11-10 4-18 13-8 0-1 19-5 20-15 19-3 16-8 7 0 194M293 2100l27-2 0-2 10 0 0-6 10 0 10-7-8 4 17-1 0 3 14-3 18-7 21 0 0-14 6-5 27-10 7-9 17-11 4-6 21-5 14-17 4 0 0-8 10-17-1-6 13-6 1-2 12 0-1-34-6-15 1-23-3-14 2-2-2-9-2 0 0-12-14-16-9 0 0-13-6-5-23-3-32 15-17 2-6 20-9 5-34 4-10 9-12 4 0 7-5 13-19 18-2 8-8 4-6 16-11 4-6 0 1 19-6 5-7 11-2 14 0 105M293 2099l10-2 19-10 12-3 23-11 8 0 0-7 57-6 16-3 18-14 20-12 7-23 20 0 0-9 3-4 25-12 0-14 11 1 13-12 8-13-6-12 22-7 7 0 0-5 5 0 1-16-4-11 2-17 5-8-2 0 0-16-9-6 5-4-9-22-24-15-17-7-12 2-9 4-8-6-29 7-4 10-7-3-11 3-13 12-3 8-12 14-5 4-9 0 0 8-8 11-19 5-5 4-9 0 0 7-11 2-11 8-3 13-2 17-12 27 4 17 1 9-12 14 0 18-16 26-3 11-7 11-9 26-1 11M293 2100l23 0 3-3 6 2-7-1 4-7 8 0 37-8 15-7 18-12 15-14 0-4 16-3 13-11 22-10 13-15 10-3 8-7 10-11 1-11 10-7 7-11 1-12 7-20-2-17 2-16 10-12-8-12-5 0 0-8-8-13 7-15-7 0 0-9-7-12-1-13-10 0-17-5-3 5-21 14-14 7-6 8-9 4-9 8-15-4-10 14-19 13-26 41-17 2-6 9-13 6 0 20-5 12-2 0-5 8-2 29-7 16-1 13-4 7 0 75M293 2099l29-3 28-13 26 0 23-4 18-21 11-7 14-1 12-14 20-7 13-11 17 0 11-8 34 2 0-6 8-4 7-9 10 6 23-11 9 0 0-3 14-7 8-8 4-7 3-14 11-10 12-6 7-14-2-26 8-23-9-12 12-12-5-7-2-13-7-7-5 0 0-5 9-12-2 0 0-11-6-8-18 0 0-12-31-20-14-3-23 0 0-2-11 11-14-2-20-9-16 3-9 5-38-2-7 1-19 4-1 7-6 13-9-4-7 2-24 17-9 0 0 8-9 9-17 4 0 10-10 6-1 18-1 5-5 8 1 10-16 8-6 6-14 9 10 13 11 3-2 13-7 19 12 0 0 6-3 0-1 52 2 4-4 13-8 8-8 13 1 15-5 6-7 41M293 2099l18-16 13-9 29-34 10-3 1-11 13-4 13 7 16 3 13-7 9 1 24-9 9-2 28-13 0-11 11-9 0-4 14-1 16-17 1-8 10-18 10-8 3-13 10-3-7-17 7-9 0-11-10-2-5-12-9-12-12 0 0 3-12-4-22 7-7-11 4 0-16 0 0 3-8-4-19 8-23 7-4 6-2 7-21 17-7 13-9 8-8 2-22 30-16 27-17 2-7 7 4 3-7 11 0 9-11 26-5 3 0 73M293 2100l29-6 14-6 12-1 10-4 13-3 20-7 12-11 32-3 11-3 5 1 27 0 0-5 14-2 15-11 16 2 18-4 12-8 14 3 12-9 8-15 12 4 1-10 15-2 26-8 0-6 11-13 14-9 13-17 5-18-1-7 1-9-2-5 2 0 1-19 2-10 2-3-9-12 9-16-4-15-9-5 0-16-18-18 0-9-20-18-1-3-9 1-47-11-21-1-7 8-17-4-16 0 0-4-13-10-17 3-14 12-5-2-3 4-1 16-6 10-55 21-1 8-7 18-43 19-2 10-8 15-18 27-14 27-20 9 0 12 8 10 2 0 3 20-9 17-4 16 0 5 9 9-1 10 4 0 0 21-2 12-5 6-3 11-1 11M293 2100l40-12 16 0 0-2 14 0 35-1 20-6 16 0 6-5 12-3 8 0 0-11 27-14 22 4 0-8 31 1 0 7 15-9 19-7 6-11 35-25 5-9 21-11 8-8 14 2 12-7-2-5 10-10 14-4 4-13 8-15 5 0 0-10 8-15-5-9-5-20-2 0 0-9-2-10-2-15 9-1 0-11 5-17 6-10-1-14-5 0 0-14-8-16-8-11-11-4-1-14-12-1-32-1 0-8-17-2-9 5-14 0 0-9-18-1-7-4-16 0-19-11-3 2-13-6-17-6-16 0 0-1-19 4-7 26-9 0 0 15-2 12-13 11-12 16-18 5-21 9-26 16-20 9-5 9-7 11 1 15-2 4-12 5-2 14-6 5-2 12-9 16-10 0 0 13-3 0 0 10 5 14-7 1 1 17-1 11 3 17 11 23-8 22 1 11-6 12 6 7 3 14-5 0 0 7-4 8-1 24M293 2100l24-7 32 0 17-8 13 9 17 0 0-6 12 0 0-5 39-6 19-16 23 3 14-1 23 7 0 6-3-16 18 6 18-22 11 2 17-16 21-16 0-2 19-3 14-8 13-13 16-12 10 0-3-10 20-2 10 3 10-6-9 0 0-14 3 0 0-8 13-17 3-12-8-9 1 0 0-12-3-21-8-14 12-6-6-15-1-10-14-12 0-10-12-11-14-10-8-11 2-14 2-3-13-2-15 2-18-7-12-7-16-6-19 0-8 4-10-15-18 0 0-7-2 0 0-6-10-9-23 9-18-4-3 4-37 21 0 10-16 6-10-1-13 9-8 19-14 0 0 11-8 9-5 24-13 9-20 21-9 0 0 19-4 4-1 10-4 7-15-5-15 5 0 52 5 20-3 0-1 25 7 15-4 29 0 12 6 8-8 4-2 7 0 42M293 2099l9-3 16-1 0-5 6-4 11 2 4-6 12 4 15 0 0-3 6-8 20 0 37-17 12-3 11-13 13-4 12-13 9 0-1-4-4-3 9 0 0-10 14-20 11 0 0-15 10-6 9-4 12-12-3-12-7 0 0 2 14-11 2-12 3-10 1-20-3-7 0-9 5-10-6-13-7-9-18-16-21 0 0-2-23-4-15 10-10 0-17-2-14 12-11 20-18 1-25 8 1-6-1 9-14 16-15 15-11 15-5 10 3 12-4 0 0 10-23 2-11 5 0 144M293 2099l29 1 0-2 11-2 7-5 5 4 14-3 14 0 0-9 19-4 17 0 16-8 19-21 10 5 28-19 14-1 29-12 17 4 7 0 7-11 22-12 14-19 7-7 3-14 10-10 17-5 16-11 7-7 6 0 0-15-2-5 10-16-5-13 12-10 1-11-14-3-1-3 6-21-21-25 1-10 4 2-33-23-7-12-14 1-5 6-9-2-5-8-19-8-16-12-19-2-2 2-15 7-18-5-29 4-3 6-14-1-43 17-1 6-18 1 0 12-6 16-6 5-19 14 7 7-6 9 0 2-18 33-2 1 1 7-8 16-13-3-12 22 2 0 0 8 5 12 4 0 0 19 9 11-15 23-6 20 0 7-3 18 0 63M293 2100l39-3 10-6 13 1 16-10 12-1 31 1 12-5 11 0 0-8 19-11 11 5 7-8 22-10 15-4 7-3 17 2 20-4 1-7 15-5 6 0 0-14 8-2 7-4-5-16 7-10 10-11 9-1 15-6 7-12-1-15 9-18 11-3 5-20 13-10 0-8-6-31 2 0 0 3-8-4-10-9-1-4-4 0 2-21-8-15-13-6-14-15-3-8-16 4 0-5-8-7-25-3-14 6-8 0-18-6-9 5-12-6-7 0-18-8-11 23-18 18-2 10-9-6-9 9-8 14-36 15-31 20 3 7-15 8-18 1-2 23-8 4-6 15-11 9 4 14 3 8 0 14-7 11 0 138M293 2100l17-6 19 0 0-4 15-8 17-7 10 1 24-7 14 2 17 8 20-21 10-2 9-15 10 3 24-7-3-2 22-14 7-3-1-6 6 0 0-4 6-4 7-19 24-32 24-12 7 0 0-18 9-12-10 0 0-19-5-33 4-16-1-8-12-17-24-18-8 0-6-4-9 0-11 1-24-1-8 1-18 0-8 6-14 6-5-1-40 2 0 8-9 11-14-2 0 18-10 8 5 6-36 22-11 9 5 0 0 4-13 15-3 7-11 17-3 17 3 11-18 0 0 139M293 2099l22-1 0-1 32-4 8 1 7-4 7 1 13-5 13-2 9-3 11 0 11-4 12-1 10-5 12 0 0-2 7 1 12-3 10 0 0-2 12 0 0-2 7-2 9 0 0-2 9 0 0-5 12 0 0-5 38-7 27-11 13 0 0-4 28-8 28-10 8 1 9 0 11-15 12 0 0-6 19-15 11-2 27-27 14-13 12-9 8-9 0-8 3 0 0-11 2 0 1-14 12-27-1-13-2 0 2-12-1-9 4-10-4-26 0-22 1-7 3 0 0-21 2-8-2-22 0-26-8-18-3-26-12-19-3 0 0-10-15-6-17 0 0-1-21-2-6-7-7-10-7-6-13-1-8-6-9-4-6 0 0-13 3-10-5-3-11-4-5 0-7 6-8-6-9-10-5 0 0-19-2-9-14 4-10 0 0-2-11 0-11 3-7-2-19-2-36-1-40 9-21-2-9-3-24-2 0-1-15 9-20 18-18 9-7 9-12 5-8 1-14 15-15 34-15 4-7 13-10 5-3 9 0 37 2 11-2 10 0 32 10 13 0 24-5 7-3 9 0 14 3 16-4 9-1 24 5 33-4 19-1 0 0 19 2 13-2 13 0 64 2 17 0 33-1 10 2 8-2 9 1 10-2 0 0 20M293 2100l29-3 18 1 0-4 13-2 31 1 25-2 0-1 22-4 37-5 14 0 0 1 13-3 29-3 0-4 14 2 34-9 9-1 12-8 13-3 6-5 23-10 12 0 24-9 35-5 46-24 18-6 16-14 18-11 6 0 0-9 17-12 16-23 16-2 0-10 11-7 5-9 1-10 4-5-2-13 10-18 1-31-2-11-5-8 2-12 7-18 0-7-5-18 2 0 0-21-7-16-1-20-3-9 1-8-5 0 0-11-5-9-2-8 1-7-2-10 0-11-5-16-1-9 0-12-15-10-5 0 0-7-11 0 0-3-13-36-7-7 0-9-5-11-10-14-4 0-4-3-7 0 0-4-7 5-10 1-38-12-33 5-21-1-9-3-21 1-14 3-8 7-6 0 0 7-17 7-10 0-13 5-19-1-19 15-11 4-11 0 0 4-9 3-8 0-4 24 1 8-8 19-26-1 0-2-9-4-7 0 0 5-20 4-7 0 0 6-7 7-9 2-11 6-13 2-4 12-9 0 0 7-7 5-27 40-6 19-6 9-7 20-7 8-6 0 1 24-2 0-1 25 0 90 3 11-3 0 0 17 3 8-3 22 0 182M293 2099l44-3 12 1 41-9 21-2 7-4 12 0 0-2 34-6 6-4 26-5 22-8 20 2 17-12 17-5 26-5 9-4 10-1 7 1 10-6 26-7 9-6 16-1 17-12 12-7 6-7 20-15 7-8 11-4 7-7 1 0 0-10 7-9 7-6 8 0-2-27 3-12 1-32 3-11-6-10 2 0 0-10-9-13-3-11-3 0 0-8-3-10-12-16-21-5-16-2-16-13-11-13-11 2-12 0-10-20-7-8-4-10-10-11-12 0 0-7-19-2-26-1-2-9-4 0 0-11-5-2-19 8-8 0 0 3-11-6-32-11-7 9-23 17-6 7-9 4-11-1-16 2 0 7-25 32-14 15-7 0 0 6-6 9-10 8-10 15-1 8-6 0 0 10-32 15-8 0 0 4-5 8-8 0-1 19-5 8 0 20 3 10-3 6 0 9 1 11-1 6 0 69 2 10-1 9 2 0 0 21 3 8-3 6-3 63M293 2099l11 0 9-3 9 0 0-3 32-10 13 0 14-2 9 1 18-5 11-7 20-6 11-5 9 0 0-2 18-8 8-5 12 0 0 1 11-4 17-12 8-9 9-4 5-5 9-4 9 0 0-5 11-7 11-4 8 1 15-14 10-6 15-11 7-8 30-22 2-5 0-9 3 0 1-20 2-9 7 0 0-13 7-9 1 0 0-29-5-11 0-7 4-8-6-12-2-10-7-16-7 0 0-6-4-12-5-8-3-20-15-17-1-10-21 6-11-8-22-1-11-2-10-4-10-1-11-14-8-8-10 0 0-7-6 0 0-3-13 2-33-1-14 15-5 0 0 13-17 17-13 19-7 7-16 11-4 11-6 5-8 4-21 5-11 6-15 28-1 8-5 10 0 11-7 5-2 0 0 10-13 6-6 9-10 5-4 8 1 33-1 6 1 188" stroke="#000" stroke-width="3" fill="none" transform="scale(.5)"/>
<path d="M293 2100l65-15 34-10 26-9 27-14 28-16 18-13 20-17 17-20 13-18 12-22 5-18 3-23-3-26-5-14-9-13-13-9-14-2-23 3-23 7-24 13-23 14-27 22-23 21-22 23-15 19-42 67-2 7 0 63" stroke="#cc121a" stroke-width="9.4" fill="none" stroke-linejoin="round" transform="scale(.5)"/>
<path d="M1779 2100l22-3 21-4 10-4 9-8 18 2 10 4 17-4 12 2 8-6 13-6 2-7 33-20 17-7 7 0 10-7 5-6 14-3 4-6 14-12 4-11 17-7-7-16 6 0-2-19 0-14 5-14-7 0 0-9-2-9-8-7 1-11-2 0 0-16-12-1-11-11-31 3-15 5-7 0 0 4-9 8-14 7-1 8-7 11-13 3-10 7-17 22-9 0 0 9-4 8-13 6-33-1 0 9-11 12-2 5-6 4-7 19-7 16-4 12 0 13-2 5-6 44M1779 2100l12-4 11-1 14-4 14 0 0-1 17-5 13 3 11-4 0-12 9-12 5-5 9-15-1-8 11-3 24-3 15 0 0-12 5-9 11-1 5-13 5-10-4-7 6-8-7-11 2-11-15-2-7 3-28-11-11 0 0 5-8 5-12 8-5 0 0 4-13 17-12 11-10 0 0 11-26 33-35 21-1 7 0 9-4 8 0 27M1779 2100l11-4 24-4 10-4 22-16 14-2 21-16 8 0 0-13 26-14 2-8 15-14 2-14-1-12 4 0 0-12-2-14-2 0 0-12-3-13-19 0 0 5-19 3-8 0 0 8-8 15-9 12-8 8-19 5-11 6-4 8-13 10-6 0 0 19-4 16-8 12-11 22-4 22M1779 2100l12 0 0-4 22-3 11-3 25-1 28-14 12-3 17 2 4-4 26 2 0 2 15-4 8-6-1-7 11-7 13 0 0-10 5-10 33-15 3-7 11-13 10-9 6-16 13-2 17-19-2-11-5-15 5-38-4-15-3-15 0-12-11-12-16-2-12 1-19 5-27-17-14 5-4 0 0 9-18 0 0 5-6 14-10 8-28 12-4 12-6 5-24 10-8 6-8 8-8-1-13 15-11 6-11 10-7 25-12 15-2 19-3 10 4 6-5 16-7 11 7 6-8 37-1 12M1779 2100l27-3 31-5 13 2 31-1 0-10 10-6 19-6 6-12 12-11 16-11 8-9 14 0 0-6 26-20 4 0-1-27 4-14 0-13-17-24-7-8-18-4-5 7-19 7-34 4-14 8-17 0 0 11-7 11-15-6-9 26-15 11-14 13-20 14-7 9 3 19-1 0 0 12-4 14 0 27M1779 2099l14 0 0-3 11-1 25-8 16-6 9-5 13 0 15 2 4-6 17-18 17 0 14-8 4-7 10-10 13-1 13-6 5-13 15-11 9 1-2-17 6-13 11-9 6-28-3-11-6-13-16-7-15-3-25 0-9 0 0 2-30 4-6 4-7 8-14 8-8 8-10 0 0 2-10 13-18 15-4 0 0 15-4 10-8 15-16 15-1 10-21 11-4 11-3 14-6 12-1 24M1779 2099l35-3 42-18 32-25 8-9 10 0 0-6 13-7 7-8 9-8 10-13-1-15 16-16 6-12-3-8-4 0 0-8-23-9-16 9-12 1-6 5-13 5-26 17-13 7-20 18-8 30-34 22 2 6-8 10-3 12 0 24M1779 2100l38-7 7-4 45-6 30-9 6-10 7-1 15 0 20-13 15-4 0-3 12-10 14 3 8 0 33-28 4-9 22-7 0-22 13-14 6-16 12-15-5-5-6 0-1-17-8-8-13-5 4 0 0-19-17 1-13-4-5 3-19 0-6 6-11 7-9 12-18-2-5 4-7 0 0 6-15 14-2 7-22 2-6 10-9 4-11-1-14 13-5 10-13 12-11 37-12 3-7 21-16 2-7 7-5 0 0 15-7 7 0 13-6 20M1780 2099l44 1 12-4 14 0 16-2 27-14-4-15 9-13 13-13 25-14 11-22-15-30-26-13-19 3-14 10-2 13-14 7-11 7-19 6-11 9-9 0 0 4-12 8 1 12-13 24-3 0-1 36M1779 2099l32-7 10 0 0-2 28-11 11-13-2-6 25-13 14 0 0-2 6-10 19-9 9-8 1-6 5-13 13-14 5 1 1-9 16-20 1-14 3-4-6-11-19-16-12 6-11 0-8 16-16 3-9 6-2 8-9 10-13 7-16 10 1 9-6-4-19 10-8 11-7 7-5 0 0 8-11 18-5 13-8 0 0 12-3 0 0 12-4 13 0 12M1780 2100l38-5 12 0 0-7 16-5 13 4 6-7 10 2 23-14 20-10 7-14 0-7 9-4 13-9 2-8 26-27 5-9 2 0-1-35-1-8-6 0 0-7-7-14-15-15-4 0 0-4-11 0 0-3-27 1-7 9-12 5-7 15-9 8-9 18-13 3-8 16-18 5-5 19-15 26-14 2-2 13-6 13 0 16-5 36M1779 2100l41-11 17-8 19-6 31-16 11 0 0-9 4 0 0-5 6-11-3-25-9-16 1-10-46 1-11 4-17 8-4 6-6 15-13 12-13 0 0 14-8 20 0 37M1779 2100l11-4 9 0 0-3 44-17 0-8 13-8 14-3-1-7 14-6 22-4 7-11 18-12 11-12-1-3 7-8-14-22-3-16-5-4-4-9-23 6-7-5-7 11-12 10-18 9-10 0 0 5-10 18-17 6-1 7-9 0 0 14-3 11-7 4-1 12-5 5-8 21-4 22M1779 2100l22-7 20-12 29-6 15-4 15-14 19-5 21-2 7-10 10-7 27-11 11-1 0-8 11-6 9-2 7-11 9 0 0-3 13-9-2-7 3-13 9-10 7-13-5-12 8-2-5-12-14-12-11-17-10-1-15-6-11 1-21 0-28 18-18 6-10 6 0 10-5 6-15 0 0-3-20 8-9 7-6 11-11 5-5 16-9 20-18 17-7 0 0 6-12 16-5 10 0 62M1780 2099l13 0 0-4 26-10 16 0 0-5 7 0 0-2 8-7 12-4 17-3 0-3 13-6 3-11 11 1 6-6 13 1 11-6 17 0 16-10 8-14 16-3 5-7 18-14 7-19-4-12 4-2 3-19-9-16 6-19-9-10-14-6-21-6-19 4-6 3-25 0-20 14-27 14-9 19-2 9-11 6 0 2-8 8 0 12-13 5-9 2-7 11-26 17-5 15-7 10-2 14-2 15 3 17-4 26M1779 2100l21-12 10-1 10-6 13-4 5-5 16-6 15-8 14-5 12 0 0-3 19-4 12 0 0-9 5-7 11 9 8-12 16-12 12-11 16-1 15-10 1-10 20-6 13-10 8 0 0-19 3-29 8-8 4-17 6-10 0-10-8-21 0-10 7-9-3-10-14-2-9-8-31-6-20 3-13 5-21 16-17 4-12 9-6 0 0 8-10 1-3 13-13 14-18 5-10 0 0 10-9 7-15 26-11 10-21 26-8 13-13 8-6 16-4 7-5 5 0 86M1779 2099l26-7 12-4 11-7 10 0 0-5 26-4 4-4 11 0 0-3 18-1 3-14 11-11 24-3 6-8 11-8 4-10 10-19-1-7-8-21-24-18-30 5-11-2-16 10-12 10-12 8-10 11-11 9-14 2 0 8-22 24-7 7-9 0 0 63M1779 2100l46-1 22-7 12 7 3-1 13 0 0-3 9-10 13-9 13-14 6-13 10-3 6-10 12-12 5 0 0-5 7-10 7-29 5-14 1 0 0-4-15-10-19-22-15-3-10-1-14 10-6 0 0 5-14 15-4 0 0 3-10 15-7 0 0 7 2 11-23-1-20 21-11 0 0 9-11 15-6 5 0 15-4 9-3 11 0 24M1779 2100l10-4 14-7 39-10 10-5 11 0 9-4 12 0 0-5 13-7 5-7 15-3 24-8 16-1 12-8 4-11 12-8 2-10 11 1 22-19 2-14 3-9 11-18 5-11 10 0 0-7 13-16 2-43-29-24-7-4-3-6-21 0-14 0 0 1-11 4-9-5-8 7-8 0 0 11-14 0 0 3-10 16-14 6-14 13-3 13-7 5-8 12-13 0 0 8-11 9-10 5-3 0 0 8-11 7-3 13 1 2-8 13-6 7 2 10-4 6-8 0 0 2-19 10-10 13 2 13-5 30-1 26M1779 2099l22-5 11-5 11-10 23-7 17 0 0-4 14-8 2-10 2 0 10-10 14-5 18-3 9-7 6-2 14-22 2-17 4-15 8-7 5 0 0-9-5-15-1-15-20-19-17-1-5 2-13 3-11-3-10 10-18 12-4 9-8 5-7 9-4 0 0 16-10 0 0 10-14 9-8 11-6 0 0 14-13 5-10 16-7 4-1 8 0 57M1779 2100l39-9 12-9 7-10 19-9 8 1 14-12 7-27 5-9 0-6 4-6-10-9-9-2-15 0 0 6-16 1-12 12-16 22-9 5-4 11-3 0 0 6-4 13-17 15 1 16M1780 2100l8-4 12 1 11-5 11 1 15-5 16 0 16-4 13 0 0-4 11-5 27-8 21 4 1-13 8 0 0-2 12-8 13-6 13-11 7-4 19-5 27-16 8 0 2-4 17-9 4-5 3-31 5-9-1-11 5-12-1-11-3-7 4-9-15 0 0-11-3-14-15-6-23 2-23-4-10 6-22 1-9 7-19 0 0 1-12 6-18 2 0 8-16 9-8 7-9 1-49 39-5 11 1 5-3 0 0 10-12 5-6 23-6 13-6 2-5 0 0 10-2 6-7 8-2 8 2 13-3 12 0 21M1780 2099l28-9 22 1 0-3 12-13 23-13 10-3 24-19 30-20 23-23-1-11 16-10 0-14 3-12-4-4-3-13-6-7-14-1-9 1-14-7-12 0 0 3-10-9-13 0 0 7-15 3 0 18-19 13-19 28-10 7-11 0 0 12-13 6-6 18-3 15-9 22-1 38M1779 2099l14-1 23-7 18-2 10-4 27-7 11-10 14-1 10-7-2-1 17-6 9-8 4-6 7-4 7-10 7-3 16-12 3-7 19-21-1-13 2-9-6-12-22-12-12 0 0-1-22 10-9 6-16 0-3 19-9 10-6 1-9 10-3 8-7 3-18 1-11 8-5 0 0 12-5 10-14 10-9 10-10 0 0 6 4 9-11 0 0 5-3 0 0 9-7 0-2 18M1779 2100l41-9 13-1 13-6 15-16 4-1 6-9 13-4 13-12 6-3 11 0 0-9 8-3 20-12 8 0 0-6 7-9 6 0-2-7 4-16-1-5 11-18 7-16 8-9-20-27-14-3-13 2-21 9-2 5-11 2-25 15-6 10-15 7-3 3-1 10-10 0-3 19-15 5-6 17-14 8-13 12-8 9-4 7-3 14 0 12-4 12 0 22M1779 2099l10-5 12-4 15 0 0-5 25-12 7-1 31-14 0-11 18 0 0-5 16-4 14-5 10 0 10-12 18-1 4-10 22-19 17-10 1-10 5 0 0-16 6-21 10-23 9-12-8-15-4-12-8 0 0-11-4-16-22 0-6-4-18 17 0 2-15 13-25 9-14 8-4 8-13 4-12 13-16 14-16 11-6 7-8 0 0 13-11 9-12 6-6 14-3 0 0 6-8 0 2 22-12 3-10 12-1 68M1779 2099l82 1 16-4 13-5 4-15 12-6 25-1 13-4 3-9 13-7 23-17 11-3 14 0 1-6 27-17 17-15 7-12-1-3 8-16 5-6 8-14-3-9 6-13-4-16-4-5-5 0-12-18-4-12-5-4-12-6-24-1 0-4-16 2-15 3-9 8-24 7-7 15-25 12-19 24-8 5-9 11-13 8-17 15-6 12-11 0 0 12-12 6-3 10-14 0 0 5-12 15-1 8-3 7 0 12-10 31 1 9-1 11M1780 2100l27-2 27-3 15-1 9-3 26-20 25 1 0-4 15 0 0-6 4-1 5-14 15-7 14-17 7-16 12-9 2-13 7-12 2-18-1-15 5-23-10-6-10-9-6 6-20-2-12 1-9 7-13 2 0 10-23 5-8 9-13 9-2 17-14 11-16 9-21 26 0 12-11 8-10 19-9 12-5 12-5 25M1779 2100l26-5 13 0 0-3 11-4 15 3 26-9 17 0 0-9 11-7 14 1 4-8 10-11 13-5 10-8 3-15 15-14 7-4 10-9 6 0 0-4 22-7 17-31 11-8 4-13 9-8 17-21 0-7-6-4-4-16-4 0 0-9-5-12-7-9-10-1-10-10-31-5-16-1-14 2-13 7-3 6-15 2-1 14-8 9-12 10-10 1-6 16-10 6-21 16-7 15-19 23-19 10-6 8-10 7-7 9-4 20 1 16-7 10-4 11-3 43 0 11M1779 2099l29-7 16-1 12-7 7-3 15-2 17-9 21-2 7-3 9-8 0-10 16-4 9-4 10-10 24 1 6-17 12-5 13 0 0-15 5-11 2-12 7-16-11-31-1-6-12-6 2 0 0-6-10-1-7-4-15-3-31 16-10 2-13 0-5 17-10 0 0 11-20 11-10 10-9 0 0 4-6 12-6 0 0 7-16 0 0 9-6 9-13 2-10 10-3 0 0 9-3 14-4 10-6 8 1 17-3 25M1779 2099l12 0 0-2 38-9 17 0 0-3 12-10 23 0 0-2 24-6 14 4 26-20 23 0 0-6 9-6 10 2 7-8 20-7 18-9 5 0 0-12 10 0 0-7 10-10 6-19-4-15 5-9-11-9-3-8-6-7 0-16-13-4-21-3-19 2-6 8-8-1-15 7-8 0 0 5-10 1-21 21-9 6-21 5-1 8-6 10-28 1-20 22-9 12-5 15-13 20-6 0 0 8-7 11-9 8-8 20-1 13M1779 2099l10-2 11 0 0-2 8-3 22-3 11 0 0-4 13-4 7-8 20 1 3-10 16-3 18-30 12-13 5-3 17-3 4-16 29-15 9-7 1 0-3-12 11-18 13-8-5-15 3 0 0-15 6-14-7 0 0-7-7-18-36-9-21-1-17 2-13 3-10 6-13 10-12 1-22 22-4 16-9 11-2 10-3 8-17 27-3 10-8 15-3 13-4 5 1 10-5 0-2 21-4 6-8 0 0 16-10 20-2 0 0 11M1779 2099l12-4 14 0 0-5 13-5 7-8 29-6 25-19 11-13 15-7 7-12 10-11 0-3 12-3 3-8 14-15-3-15 4-17-2 1-8-11-15-6-7 0 0-7-10 7-15 4-13 0 0 13-14 5-3 16-6 0 1 17-11 1-9 13-8 0 0 11-10 5-1 9-14 13-5 8-10 11-6 9-5 10-2 23M1779 2100l13 0 0-2 32-7 11-8 33-9 29-18 9 9 12-4 9 4 12-11 14 0 10-11 6-6 9-6 27-13 26-21 9-3 14 0 0-9 2-4 20-19 1-30 6-3 2-10-4-6-5-14 3-7-29-27-12-8-24-12-6 1-12 4-16-4-12 5-12 10-17 0 0 6-8 4-14 11-44 22-7 0 0 3-13 2-9 17-8 11-8 5-7 15-11 10-8 3-3 6-4 20-15 14-1 90M1779 2099l40-7 14 0 0-5 5-9 11-10 19-4 10-6 8-14 11-2 18-13 3-7 9-5 12-28 1-11-9-27-16-12-10-4-19 0 0 7-12-3-7 1-11 9-3 16-32 28-14 23-10 8-12 35-6 12 0 28M1779 2100l12-4 12-6 16-1 26-6 6-9 14 0 0-3 20-2 24-9 7-15 32-15 12-3 17 0 10-11 16-9 9-11-3-13 10-10 8-15 4-11-1-20 5-9 3-12-8-12-2-6-8-10-3-9-11-6-9-3-21 0-25 4-9 7-11 2-5 8-16 14-16-1 0 15-3 13-8 6-14 0 0 20-5 0 0 10-2 4-14 0 0 11-20 28-9 8-16 5-5 4 2 16-9 8-9 22-3 0 0 36M1779 2100l11 0 0-3 13-3 11-5 7-6 14-6 14-15 15-3 11-15 21-7 2-7-1-13-5-19-11-10-6 0-22 2-7 13-9 7-10 2-8 4-15 10-7 14-6 10-1 10-8 0 0 12-3 14 0 14M1779 2100l12-5 12-2 13 0 0-5 12 0 0-3 9-6 12-5 16 0 0-6 10-7 14-4 8 0 0-3 5-1 15-25 8-8 16-11 13-4 6-9 10-4-3-39-2 0 0-12-6-11-2-9-14-1-10 5-18 0 0 2-10 0 0-2-13 9-12 15-16 7-1 14-6 5-12 5-14 12-7 12-9 5-2 6-21 13-8 10-2 0 0 11-3 14 0 37M1779 2100l30-7 15 0 0-4 17-6 17-4 14-12 19 1 13-13 12-8 20-4 11-5 3 0 0-6 14 2 12-3 28-17 2 0 0-14-3-10 8-1 5-51-9-20-5-6-5-6-15-2-21 2-18-3-28 1 0 5-21 21-12 8-4 9-13 0 0 7-17 10-4 0-11 8-8 11-12 19-14 1-7 6-4 16-9 12 4 22 1 9-3 9-2 23M1779 2100l14 0 0-3 16-3 27-1 0-4 13-3 5-7 16-10 16-1 38-15 10-10 14-6 16-4 10-6 16 0 18-6 3-12 6-8 8-3 3-8 11-7 8-15 1-15 4-8 14 0 0-9 3-17 8-13-5-11-13-22 1-5-6-7-19-10-39 0 0 3-20 0 0 3-13 2-5 10-21 1 0 2-21 12-4 0 0 10-19 5-7 8-33 21-9 16-59 49-4 0 1 23-3 4 0 80M1780 2100l7 0 0-4 19-8 7-9 26-8 11-9 1-5 16 2 15-3 7-6 5-12 9-5 6-9 16-13 16-5 13-9 23-28-3-16-16-19-11-4-11 0 0-5-12 0-4 6-16 6-6 10-10 9-5-2-8 14-23 12-9 0-1 20-6 5-13 0 0 3-17 19-8 17-7 21-10 12-2 10 1 12M1779 2100l11-4 31-15 9 0 0-4 7-8 16 1 29-6 5 4 17 0 0-3 10-8 32-20 8 1 20-18 7-15 1-12 12-14 3 0 0-9 7 0 0-10 3-11-2-12 1-14-4-13-9 0 0-8-5-10-32-9-24 6-18 0-9 3-9 2-15 9 0 10-10 8-10 0-6 8-16 10-8 8-11 0 0 6 4 7-18 8-9 13-7 0 0 16-4 11-7 12 0 80M1780 2100l9-4 8-5 8-3 27-2 6 3 11 0 0-4 6 0 0-8 17-5 5 0 0-6 17-3 14-8 7-3 10-12 16-4 3-7 9-6 4-10 10-13 3-14 10 0-3-40-5-12-10-9-4-9 8 0 0-17-10-4-13 6-7-2-21 12-21 2-9 3-34 33-11 7-12 18-10 11-2 0 0 14-9 3-10 10-13 34-4 7-1 0 0 11 1 4 0 31M1780 2099l10-3 13-1 12-5 10-9 21-2 4-10 14-1 16-8 18-3 30-23 3-19 5-16-1-33-19-12-9-7-30 0 0 7-17 15-9 0 0 8-27 7-1 5-10 6-11 0 0 8-7 10-3 27 4 15-10 0 0 10-7 11 0 23M1779 2100l13-2 25-9 13-5 3-6 28-2 7-9 11-8 2-14 15-6 8-11 15-7 5-10 8-11 6 0 0-22-3-21-5-11-6-7-5-8-13-3-11 3-5 9-7-1-23 22-13 18-12 8-6 10-9 10-10 8-1 14-6 11-3 12-11 11-6 12-4 24M1779 2099l0-35 7-10 13-9 18 0 13 3 7 9 1 9-11 19-14 9-12 6-22 0M1779 2100l0-22 3-7 12-2 8-4 10 5 6 6 4 0 0 9-2 7-7 8-34 0M1779 2100l0-40 5-8 41-15 11-1 13 4 5 3 5 9 1 13-3 10-13 23-11 2-54 0M1779 2100l0-28 4 0 0-6 6-9 30-7 16 1 2 5 6 0 0 19-1 9-8 12-10 4-45 0M1779 2100l0-54 6-10 11-12 13 0 0-7 12-4 12 3 12 0 14 18 1 0 0 10-6 10-13 28-9 11-11 7-42 0M1779 2100l0-53 24-21 23-1 9 2 11 4 9 7 2 16 5 11-8 11-11 23-64 1M1779 2100l0-38 2-10 23-14 16-3 21 0 0 5 4 8 8 9 0 9-2 13-5 10-10 10-57 1M1779 2100l0-36 12-7 24 0 0 3 9 7 3 13-4 11-7 9-37 0M1779 2100l0-48 8-9 8-6 17-7 9-5 8-8 14 6 16 5 8 8 5 9-7 22-7 0 0 7-4 13-8 12-67 1M1779 2100l0-36 9-4 19 0 0-6 17 1 7 7 3 9-8 27-10 2-37 0M1779 2100l49 0 14-6 16 0 6-1 11-10 15 7 18-8 26-7 4-5 18-2 12-9 31 2 9-6 6-14 13-10 8-3 19-4 17-6 15-10 8 0 0-6 7-13 11-12 2-10 11-12 10 0 0-9 8-8-2-7 1-13 3-17 6-7-5-13 4-11 1-14-16-13-7-18 1-10-7-7-4 0-1-29-6-13-8 0 0-9-14 2-6-7-17-3-15 2-10 5-4 0 0-6-16 3-17-1-3-2-21-3 0-1-23 5-20-1-13 7-8 0 0 2-7-5-14 7-23 1-7 14-11 8-11 15-7 4-3 7-12 14-3 17-7 0 0 3-3 0 0 6-8 8-7 14 1 17-8 10-4 10-3 14 2 18-2 26 0 35 2 5-2 9 3 15 0 10-3 16 0 43M1780 2099l8-3 24-4 20-7 29 0 12-16 17-9 12-3 10-12 16-5 12-9 17-6 13-1-3-11 28-20-3-15 4-12 9-4 18-27 17-7-1-11 15-12 6-12-3-22 2 1-1-4-3-11-5-10-14 1-12-5-19-15-6 1-21 0 0-6-14 2-7 4-15 0 0 12-13 2-10-2-19 13-4 6-11 6-12 17-14 17-13 4-9 0-10 12-1 7 3 8-1 1-16 0 0 2-12 19 0 15-11 8-10 12 2 10 1 24-3 12 0 65M1779 2100l23-14 9 5 13 0 26-14 6-8 11 5 10 0 9-5 11 0 0-7 6-8 3 0 0-5 9 0 8-12 9-11 9-2 29 0 0-6 5-14 21-5 15-15 0-19 1-10 11-12 10 0 0-19 4-4 8-18-6-3 5-16-12-18 8-5-14 0-6-5-4 0 0-3-14-7-17 0-13-4-5 0-8 9-20 3-5 0 0-3-24-4-7 5-2 0 0 3-11 6-8 16-13 14-12 7-21 28-10 18-7 14 11 4-8 10-4 15-12 21-13 2 0 12-11 4-3 4 0 40 2 11-2 8 0 11M1779 2099l41-10 15 2 13-5 20 4 14 0 17 6 8-4-1 4 12-12 21-8 4-10-1-3 16-8 7-6 7 0 12-8 33-10 16-9 4-8 10-6 18-5 3 2-2-4 10 0 0-12 4-11 9-19 11-3 4-12 6 4-3-17 5-12 21-15-3-7 3-17-2-12-5-16 1-13-27-21-9-17-20-2-14-12-23-6-18-8-14-2-2-5-13 0 0-3-7-3-15 10-36 2-11 7-4 5-6-4-6 11-17 3-13 5-10 8-4-3-16 35-12 8-11 12-9 4-3 18-12 13 3 11-5 11 2 13 6 10-11 10 4 10-4 3 6 7 4 8-4 13 6 8-8 9-10 18 1 17 0 29-5 28M1779 2099l53-11 12-5 17 2 18-3 15 6 5-5 1 5 59-25 17 3 29-1 16-6 16-5 8-9 6-1 10-14 16-6 10-13 12-5 8-16 12-5 11-1 2-8-8-11 21-11 7-13 1-17 11-7-3-26-4-9-1 0-3-20-6-6 2 0-12-13-4-24-14-12 0-5-6-10-31-2-2-16-22-22-8 8-24-4 0 9-4 4-13-3-26 1-23 12-30 0-14 3-17 0-26 17-18-5 0 1-22 8-14 1-12 12-18 28-10 7 0 59 6 10-4 10 9 7-2 0-5 26-4 0 1 137M1779 2099l31-15 8 0 10-4 8 1 11-14 20-9 17-9-1 6 3-12 16-9 2 1 6-7 4-2 9 4 17-5 0-5 7-4 9-1 31-17 3 0 0-10 7-11 7 0 0 2 2-15-1-8 3 0 0-22 12-6 12-12 2-13-9-38-20-19 3-15-13-7-6 3 0-4-24-4-16 9-21 0 0 3-10 4-7 9-8 20-11 7-7 9-20 3-12 7-14 0 0 11-4 0 0 7 4 10-10 22-9 6-11-3-2 10-28 31 0 115M1780 2100l166 0 18-7 15-3 11 2 18-14 29-18 20-4 11 7 6-4 8-1-4-4 12-8 8-29 11-15 15-3 20-26 6 0 0-6 9-5-1-11 8-29-7 0 0-10-9-11-2 0 0-13-3 0 0-12-10-40-2-2-1-23-11-9-1-2-19-10-3-13-9 2-11-3-23-6-18-10-10 5-16 1-3 4-19-9-20-2-9 4-15 9-38 1 0 6-15 10-22 21-9 0 0 15-3 13 2 6-4 8-18 31-29 27-5 14-9 2 17 39-9 0 0 6-9 18-8 0 0 3-2 0 0 19-5 17 1 71M1780 2099l49-4 30 5 24 0 9-6 26-1 0-7 8 0 19-4 13 0 0-8 17-1 26-10 30-5 13 6 9-5 11 1 27-16 10-2 14-1 12-7 18-4 3-6 11 0 0-11 25-18 15-20 3-19 4-10 2-14-3-16 8-7 5-15 11-24-14-14 7-11-9-5-7-15-9-8-4-9-11-19 0-13-18-16-9-13-5-9-9-12-10-10-12 0 0-1-15-11-41-19-14-22-34-1-9 1-24-3-14-10-72 19-4-2-8 2-13 15-7 12-12 8-12 3-6 10-7 22-13 0 0 13-10 10-12 5-6 0-6 4-1 329M1779 2099l16-1 28-4 11 4 13-4 24 2 0-7 11 5 23-9 3-8 36 1 0-10 20-9 5-4 6-2 12-10 9 3 12 0 0-6 13-12 8-2 6-7 38-16 1-7 14-4 33-6 19-27 11-3 2-11 3-4 0-14-6-15 2-6-1-8 10-14-8-4-3 0-1-36-2-12-7-15 4-14-1-6-21-23-29-8-8-11-15-11-15-6-11 6-17-7-12 2-12-1-12 7-15 3-14 1-15 14-16 6-25 14 0 4-31 18-1 13-18 0 0 20-16 7-2 14-7 18-1 21-11 14-2 20 7 9-7 5 8 10-23 14-2 6-2 28-16 8 0 9-3 0 0 78M1779 2099l37-11 13 0 9-4 30-17 14 6 15 0-2 0 0-9 10-3 12-1 20-11 27 1 18-18 7 5 18-2 22-22 0-1-4-5 6-17 0-4 9-13 20-12 9 0 0-7-6 0 0-10 6 0 0-16 4-14 5-10 10 0 0-14 8-7-12-7 8-3 5-5-14-11 3-11-14-11-4 0 0-12-13-7-14 1-1-3-27 5-11 8-38 8-18 0 0 9-11 5-10 14-2 12-4-1-14 6-18 6-11 10-19-3-2 10-5 8-15 18-8 0 0 3-5 9-11 10 4 10-2 13-8 12 4 15-3 19-6 7 1 7-8 12-9 10-2 6 1 4-3 5-1 29M1779 2099l13-2 12-5 15-4 12-10 14-4 11-9 15-10 17-2 11-11 9-3 7 0 0-9 20-5 19-12-2-11 12-3 29 4 8-9 21-13 18-5 11 1 21-6 8 0 0-3 7 0 18-29 5-2 3 0 0-4-5-2 0-16-2-8 8-10-5 0 0-11-8-17-13-11-4 0-5-18-8-6-12-4-16 0-12 0 0 3-22-1-19 3-16 5-24 0 0 12-20 16-18 10-8 2-15 19-5 4-11 18-14 13-3-8-5 0-12 10-14 21-13 9-14 1 1 16-2 11-13 2 0 8-5 12 1 84M1779 2100l106 0 15-3 1-3 8-5 15-3 7 0 0-7 21-7 11-16 9-20 11 0 13-10 13-1 6-13 17-5 11-6 18-13 5-9-2-24 10-12 1-20 4-3 7-17-8-9 6-25-10-22-6-28-7-4-19-4-29-5-13 10-18-4 0 12-5 0 0 3-15-3-18 1-9 18-4 2-23 5 1 14-11 1-16 13-6 0 0 8-9 14-12 6-15 11-12 14-4 0-10 3-14 14-1 11-9 10-3 17-4 0 0 15-4 12 0 87M1779 2100l9-2 7-4 18-6 15-8 5 2 6-10 18-4 14-8 18-3 10 0 0-6 21-1 10 10 22-3 13-15 9-6 4 1 8-6 7 4 14 0 0-3 17 0 23-7 24 6 6-17 12-2 9 0 0-6 15-13 11 0 0-4 5-9-3-17 0-25 14-9 5 0 0-8-5-12 7-16 3-14 6-12-3-8 5-17-4-6 3-6-6-19-2 0 0-10-3-9-17-13-6-8-4 0 0-7-15-22-20-10-12-11-15 0 0-6-11-8-6-10-26 1-11-2-20 6 0 3-35-4-14-3-7 14-22 15 5 0 0 3-6 9-5 0 0 12-14 10-21 0 0 9-11 26-17 7-12 0-1 11 8 6-14 11-3 9-18 34-3 28 0 20 2 13-3 10 6 14 0 9-3 9-1 16 5 9-1 10-4 0 2 25-11 15-6 13 0 34M1779 2100l34-10 16-2 14-8 25-7 25 2 0-5 9-7 5-9 18-2 5-6 14 3 8 3 6-7 26-1 6-9 19-12 10 0 0-7 0 3 7-14 9-5-2-28 15-10 4-8 3 0 2-15 10-5 10-10 5-11 5-6-11-14-1-14-6-14-12-5 0-13-7-14-11-8-30-15-28 1 0-2-19-7-13 5-15 0 0 5-3 8-6 0 0 6-10 4-1 12-9 9-16 6-25-3-2 12-8 16-21 10-3 17-21 15-18 0 0 2-10 8-2 0 0 71 2 12-2 5 0 77M1779 2099l26-6 29-13 29 2 0 1 17-2 9-5 20-1 6-6 33-3 18 8 5-5 20-9 8-5 15-3 9-12 6 0 0-5 13-5 8 2 21-13 11 0 0-8 18-7 9 0 0-1 24 7 17 2 1-21 4 0 0-5 4-14 14-19 0-2 5-2-5-26-5-1 5-17-2-8-13-20 9-12-5-15 4-6-4-19-8-15-13-8-17-2-29-15-9 0 0 5-5-6-2-17-12-5-10 6-19 5-14 0 0-3-7-5-20 2-11-3-28-1 0 12-5 10-15 8-10-1-11 6-13 0 0 5-11-2-12 11-16 6-22 12-12 19-3 11-13 10-18 0 3 17 0 13-4 16 6 9-11 7-6 13 1 9-7 13 0 73 4 13 2 13-3 0-2 34M1779 2100l19-2 51 2 34-4 20-5 16 3 19-2 17-4 7 3 18 0 10-5 0 1 13-1 3-5 16 2 15-3 33 0 0-7 15-1 0-3 15-4 24 6 16-6 18 0 10-9 19-7 18-1 0-1 17-6 7-4 13-3 13-7 16-1 10 7 18-6 6 4 22-1 0-13 8 0 0-5 17-8 12 2 15-6 13 0 0-11 6-2 14-3 5-8-10-13 8-13-5-9 6 0 0-5 3-9-1-5 7-7-7-21 5 0 0-15-5-20 7-19-3-11-12-15-20-18-8-10-2-13 2-12-7-21 4-9-10-16-13-30-11-7-15-25-22-19-2-9 5-17-11-14-7-2-5-35-13-7-13-17-9-15-13-7-5-7-5 0 0 4-4 1-12-4-13-8-5 2-10-4-31-6-18 8-14-11-30-16-7-1-113 0-31 22-14-2-7 4-8 6-18 18-35 14-4 14-15-7-16 17-12 0-2 11-5 8 6 4-7 13 3 11-6 15-1 13-10 4 3 15 7 13-14 24 9 15-4 11 3 0 0 19-2 8 0 16 2 5-7 15-2 8-7 11 0 306M1779 2099l170 1 3-6 6 4-5-4 10-1 23 2 36-4 15 7 14-12 5-2 15 0 19-3-1-6 18 4 17-4 14-6-3-2 13 5 17 0 24-22 14-10 12-5 15 6 27-5 7-9 8-6 20-7 16-2 19-10 9 0 0-5 9-4 12 0 0-4 14-12 28-13 12-18 5-2-3-15 6-9-2 0-1-44-12-13-5-11-11-2 1-6-3-10-5 0 0-10-4-18-9-16-3 0 0-9-3-14-7-8 2-13-9-9 2-22-1-3-8-7-6-8-16 0 0-11 8-9-7-9-18-2-20-14-13-4-9 0 0-12-1 0 0-9-8-14 3-7-7 0 0-9-4-8-17-12-15-1-8-4-9 0-4-4-17-9-5 6-36-9-18-1-10 9-18 1-9-9-16 1-37-7-14 4-9-4-13 5-9 0 0-1-22 3-11 3-12 1-17 5-10 0 4 5-21 11-5 0 0 3-23 0 0-8-8 5-15 4-1 12-13 6 7 7-5 18-6-1-14 12 6 15-3 0-6 16 7 23-9 9-14 9-2 18-5 17 1 19 10 17-3 11 1 14-1 2 4 9-5 21 3 17 4 9 9 9-4 13 8 14-4 21 0 27-4 26-4 10 5 31-7 16 7 19-16 13 3 9-1 9-4 0 0 9-4 8M1779 2099l36-3 12-3 7-3 28-1 37-9 20-9 16 7 30-7 14 2 7-9 10 5 34-18 10-2 16-1 13 2 25-2 21 3 2-14 18-6 16 1 5-3 11 2 28-28 20-10 17-2 19-9-1-10 4-8 1-6-8-8 7-11 8-6 7-26-7-11 0-11-12-26 0-20 10-11-13 0-3-4-11-5-8-18 1-12-3-16-8-10-7-15 0 5-12-11-8-12 0-16-8-9-14 0-10-12-11-2-8-17-3-11-10-2-10-10-21-7-18 6-14-3-9 4-13-11-2 2-9 1-10-7-15 0-37 6-14-4-8 0 0 6-5-6-2 9-8 10-15 4-21 20-6 0 0 3-11 0 0-3-2 15-3 9 6 5-5 8-15 0 0 13-16 15 8 10-13 14-4 7-13 7 5 17 1 26-14 11-6 13-5 0 2 8-3 16 2 0 0 12-10 7-4 0 0 8 6 10-11 22-3 15 3 14-3 19 0 117M1779 2099l11-1 22 0 23-2 36 4 11-1 10-3 12-6 13 1 13-4 0-3 24-2 7-6 14 7 26-2 18 1 17-8 39-4 22-5 12 5 25 1 12-9 10-1 14-8 11 0 9-9 12-1 12-5 28-4 6-4 8 1 11-11 13-5 14-2 16 7 8-9 3 2 3-7 12 0 15-4 12-8 12 0 0-2 14-3 10 3 13-8-9-7 9-21 2 0 0-9 3-5 8-8-1-20 7-9-6-8 0-17-16-17-5-13-1-30 7-12-8-18-10-6-7 0 0-3-14-13 1-28-3-14-10 0 0-7-11-5-15-28-2 0 0-12-7-11-7-18-2-12 1-9-20-25 1-10-9-7-4-10-12-6-15-4-7-11-3-15-7-9-14 7-14-2-13-6-9 2-14 0 0-2-36 0 0-6-17 3-14-6-12-15-6 0 0 7-13 0 0 4-47 1-2-2-16 10-9-2-21 11-6 0-30-6-19-1-15 6-12 2-5-4-11 0-4 17-15 11-17-2 1 2-17 12-2 0 0 16-16 13-2 15-4 10-8 8-4 18-5 0 0 12 5 8-4 11-6 13-2 18-4 3-2 12 1 25 11 19-2 5 0 11 1 0 0 7 5 4-8 16-7 6 0 7 8 15-3 9 8 14-9 3 6 16-5 13 5 16 0 19 5 12 0 7-6 16 9 13-5 17-6 9 0 21 2 7 2 13-1 10-3 0 0 9-4 11-3 0-1 25M1779 2100l8 0 0-4 4-3 12-3 8 0 0-4 10-9 9-2 21-1 0 2 24-3 22 3 35-8 8 5 10-5 7-5 13 2 24-5 21 3 2 2 12 2 26-17 13 0 0 1 14-1 26 1 0-4 7-6 21-8 13-2 10-7 2-5 22 1 14-9 32-2 32 1 0-2 8-3 29 6 16-3 14 5 44-5 9-8 11-5 6-2 18 1 18-6 13-2 8-9 0-16 3-15 8-17-8-16-10-9-4-15 3-12-3-13-5-9-5 5-9-3-10-23 3-12 13-15-17-11-2-17 2-7-3-9-17-3-14-8-3-11-17-22-4 0-1-13-5-12-4 3 0-13-2 0 0-12-6-12 2 0 0-19-9-4-6 0 1-22-10-4-3-9-7-12-3-11-7-12-13-9-9 0 0-2-8-4 3-14-22-17-20 2-16-3 6 3-34 5-14 14-14-3-10-4-3-3-10-3-16-1-16 3-25-9-11 0 0-2-5 2-24-1-9-3-10 2-16 8-12-8-20 0-19 5-6 0 0 6-22-4-1 8-11 12-10 4-4 0 0-4-17 4-28 16-27 21-24 1 0 3-10 0 1 29-11 15 0 12 2 5-2 0 0 13 8 17-8 6 11 0 0 23-11 31 0 35 10 11 4 19-5 20-9 9 0 263M1780 2100l10-4 7 0 0-3 14-3 10-6 10 0 0 1 35 7 8-10 29 5 9-14 9 5 15 4 12-13 20-6 10-1 8 1 12-3 44-24 13-9 8 12 11 6 12 1 13 4 9-7 1-5 24-4 10 5 10-1 16-9 10-7 20-6 9-7 10-2 4-4 14-6 8-5 7-5 9-18 3-16 10-5 11-19 9-19-6-13 3-18-3-10-17-13 5-6 3-12-1-12-3-9 6-15 2-12-8-22 7-6-18-27-18-10-1-14-6-10-2-10-11 4 8-15-6-12-7-6 4-1-4-4-5-28-7-15-9-10-19 4-14-8-14-14-11-3-18 5-14 6-27-2-12 4-34 3-17 4-27-8-17 4-20-3-15 0 0 6-12-9-30 9-2 4-2 0 0 2-29 8-12 7-5 2-6 6-21 9-28 29-3 14 5 0 0 1-11 8-3 9-2 13 0 66 2 13-2 13 1 294M1779 2100l47 0 13-2 15 2 7-2 39 2 4-2 12 0 0-2 18 1 5-2 9 0 0-3 8-6 22 3 16 0 0-3 16-18 20-7 23-5 17-1 19 0 0 4 11 0 17 4 14-8-5-9 10 2 18-1 0-11 7-1 27 7 7 0 0-2 16 4 18-12 1-6 14-2 20 8 26-4 20-13 14-5 0-7 14-4 4-8 5-6-3-8-2-15 3-16-4-10 8-11 8 0 0-8 8-12-7-12 3-15-15-40-10-10 3-8-2-17-7-13-11-21-12-2-7-10-3-10-3-19-16-7 1-20-2-9-6-15-19-15-8 0-6-11 6-9-7-9-6-9-15-10-12 0-4-19-16-7-16-4-7 1-15-6-18 2-3 4-15-4-12 3-8-1-10-10-12 1-9-13-7 7-12-7-32 1-6 4-8 1-20 1-10 6-35-3-22 12-19 15-9 17-4-2-8 8-4 8-7-1-4 10-10 14-11 12-2 11-4 13-25 26-3 7 10 11-11 13-9 27-2 14 8 14-7 8 12 15-9 7 1 9-11 7 0 7 3 11-3 8 0 227M1779 2099l34-4 10-4 13-1 14 2 17-2 11-9 18 6 9-4 14 3 14-7 17-2 6-6 28-3 18 6 13-6 19-5 15-7 13 3 12-5 6 0 16 3 7-10 14-2 0-8 14-6 7-7 25-6 2-7 11-6 19 0 0-6 21-1 10 5 14-1 1-26 17-27 18-14 4-8-4-28 12-13 2-6 8-4 6 0 0-9-12-1-10-12-12-37-11-13-1-16-14-10-10-10-12-29-13 0 0-7-4-15-7 0-5-12-5-9-8-6-6-10-16-3-11-5 2-3-9-13-11-7-14 0 0-7-3-9-17 11-9 0 0 7-13-8-19-15-12 1-24 6-18-2-16 8-29 1-12 5-22 6-12 23-5-3-21 11-4 10-11-2-11 15-9 2 3 13-4 12-8 5-6 12-1 10-12 0 1 21-14 15-7 0 0 12 5 9-6 16 6 21 1 22-7 11 3 9-9 16-9 21 5 6 0 21 1 19-7 1 0 13-4 9 2 0-2 28 0 33 3 11-3 25M1780 2100l21-1 34-5 7 3 13-13 20-7 16 1 5-9 18 0 0 3 12-1 19-4 5-10 14-1 19-6 16 0 7 4 23-13 0 3 13-10 8-3 13-14 13-16 4-4 11 5 30 4 25-8 21-4 7-3 9-14 25-5 4-6 13-6 12-13 2-6 12-4 4-13 0-13-2-7 1-12-3-16 7 0 0-6-8 0 0-10-5-3 0-3-2 0 0-11-3-20 2-13-6 0 0-19-4-3-8-2-11-9-18 0 0-14-16-16-8-36-11-5-18-5-8-13-6-7-14 0-50-18 1-12-17 11-10-3-12 0-11-8-18 0 0-9-17 0-16-2-17 11-4 6-22-3-11 5-12 0 0 8-7-4-22 18-7 10-6-3-6 4-7 10-11 0 1 23-11 0 0 9-3 9-3 14-9 16-10 5-5 6-13 10 0 145 3 13 8 7 2 44-3 12-8 15 3 0 1 26-6 29 0 14M1779 2099l170 1 0-3 29 3 25-6 12 0 0-3 24-7 16 5 21-8-2 4 15 0 0-5 17-11 16 6 33-3 10-10 5-3 7 0 6-9 28-1 0-7 4-14 10-11 0-11 10-13 0-11 14-8 14-13 3-10 1-11-3-7-8-9-4-11 0-13 2 0 0-14 0-9-4-7 3-9-3 0 2-20-2-17-16 0 0-7-19-5-6-8-12-11-18-6-4-27-3 2-9-14-9-15-5-14-13-18 7-10-7-21-29-11-6 0 0-12-9 0 0-7-35-15-10-15-26 2-7 2-39 0-11 3-15 0 0 2-15 1-12 7-11 0 0 3-22 2-7 10-15 12 0 6-8-2 1 6-10 0 0 4-16 9-23 1-17 4-6 26-6 4-3 5 0 382M1780 2100l154 0 34-2 13 2 10-8 15 1 17-1 8-6 10 0 0-11 5-8 6-4 21 3 9 4 27-4-1 3 9-12 8 0 0-4 14-16 32 3 13-4 30 0 10-5 14 0 23 8 23-6 18-10 3-7 12 0 0-13 8-11 2 0 0-14 6-19 12-4 7-10-5-10 1-21-2-13-8-11 12-13 2-11-12-11 1 0-13-3-7-9-3-30-15-14 2-8 0-12-13-10 6-14-11-2-11-11-1 0 0-6-12 0 0-5-8-8-7-9-25-9-9-20-18-7-15-20-3-8 1-13-5 1-11 0 0-19-10-5-42 3-15-3-12 4-5 0 0-2-16-7-12 6-16-10-8-1-6-4-10 2-5 4-26 7-8-15-9 6-6 0 0 6-21 1 0 4-15 5-29 27-17 8-6 0 0 4-15 11-11 2 2 7-11 12-8 3-11 9-2 13-7 1 7 27-6 14-7 4-3 12 1 23-2 11-9 0 0 14-6 19 5 17 0 3-7 6 0 232M1779 2099l51 0 14-1 18-4 13-5 24-1 37-5 11 2 15 0 12 1 13-1 35-9 34-3 19-7 11 1 9-3 24-1 0-4 17-4 38-3 11-2 13-7 15 0 0-5 10 1 11-8 26 2 12-6 14 1 10-1 53-17 6 0 36-13 22-3 14 0 0-7 40-12 9-7 10-4 3-9-1-82-5-14-8-11-2-11-3 0 0-11-4-7-6-37-3-10-6-11-13-15-3-8-1-12-12-14-7-6-11-18-8-9-6 0 0-13-9-23 0-11-18-21-10-24-8-8 0-12-4-12 0-11-15-13-9 0 0-8-4 0 0-10-13-19-4 0 0-7-8-11-8 0-23-3-36 5-13-3-13-5-15 1-20-2-30 5-27 0-19-4-9 4-25 2-15-1-17 2-29-1-14 3-26-5-11 7-12 1-7 5-37 16-7 7-20 8-11 11-6 0 0 6-7 8-8 7-12 8-3 12-5 0 0 10-3 11-8 0 0 14-5 14-5 7-2 6-1 63 7 36-2 11-4 13 3 6 1 12-2 0-2 51 2 10 5 8-2 12-1 0 0 30-5 30 2 19-2 25 1 11-1 11 0 119M1780 2099l12 0 0-2 44-11 15-1 10 3 23 0 11-1 12-4 31-2 12 4 9-1 11 2 35-11 13 3 9 0 0-1 23-6 25-2 0-4 17 0 0-4 10-5 14 3 8-5 13 1 21-9 11 0 49-11 16-2 12 0 0 1 10-6 17-6 14 0 0-2 11-8 32-11 12 0 0-2 27-4 11 0 14-7 14-3 8-7 12-1 13-8 27-5 10-4 11-16-2-11-5-12-9-12-6-11-13-14-3-9-7-9-6-20-5-35-3-10 2-9-3-22-4-9-9-11-13-10-5-13-6-5-5-10-9-8-4-9-9-24-14-25 0-10-4-11-6-12-6-6-4-8 2-8-5-10-10-13-14-21-7 0 2-16-11-21-10 0 0-12-3-9-5-8-24 1-10-4-13-1-14 5-14-3-24-1-25 1 0-4-17 0 0-2-13-4-13 5-10 0-17-5-12 1-36 9-28 0-14 3-9-4-13 4-13-3-21 8-10 10-40 12-13 5-24 24-11 6-11 10-12 19-2 11-10 11-2 12-6 11-2 9-4 9 0 14 2 10-6 28 0 54 1 10-1 32 1 42-1 13 6 12-3 10 1 9-4 12 0 76 5 6-1 17-4 22 1 10-1 23 5 12-1 13-2 0-2 39" stroke="#000" stroke-width="3" fill="none" transform="scale(.5)"/>
<path d="M1779 2100l75-16 36-11 28-11 22-10 29-17 26-18 22-18 18-19 11-15 11-21 6-21 2-16-2-18-5-19-9-14-12-7-18-4-21 0-19 3-19 8-23 13-18 12-24 20-42 39-29 31-18 23-26 42-1 4 0 60" stroke="#cc121a" stroke-width="9.4" fill="none" stroke-linejoin="round" transform="scale(.5)"/>
<path d="M293 3344l23 1 34-3 21 1 8-3 16-3 30-9 12 2 10-4 13 3 24-1 18-8 12 1 0-7 10-5 27-4 8-2 11-1 8-8 8-4 4-4 20-8 20-10 29-12 10 0 0-8 10-6 5-5 3-8 6-5 7-8 9 0 0-10 5-8 11 0 0-10 5-11 14-15-2 0 0-14-6-10-13-4-5-11-8-19-16-13-3-10-7-3-16-33-10 0 0-13-7-14-8-7-15-8-10-2-9-7-13-6-20-13-6 0-7-7-10-5-12-4-7 0-22-9-6 1-13 0-12-4-13-7-15-1-4 0-13 6-19 12-10 0 0 10-23 11-8 9-31 8-10 5-22 17-8 0-11 33-1 7 1 288M294 3345l41-8 19-1 24-6 12 0 10-3 14 0 13 4 5-5 12 0 0-3 18 5 10-3 15-7 11-3 11-7 13 0 0-2 19-8 10-2 18-9 20-6 9 3 7-2 10-12 7 0 0-5 10-5 10 0 0-5 17-18 10 0 0-2 8-5 4 0 0-8 13-2 8-5 16-16 0-12 11 0 0-11 4 0 0-10 6-13 5-3-11-31-4-7-12-4-2-10-9-21-6-6 0-13-5-3-3-9-9-8-4-6-10-10-2-10-7-10-10-6-12-15-21-12-3-5-10-6-14-24-6-8-11 3-12 1-10 4-9-1-9-8-4-6-8-3-10-7-13-15-10-7-13 0 0-6-45-18-9 4-9 2-12-2-16 1-19-3-28 1 0-1-11-1-8 4-11 17-3 11 0 11-5 17 3 29-3 8-5 27 3 8 2 8-2 17 6 8 0 20-2 9 2 12-2 15-3 8 4 7 0 15-5 11-2 0-1 22 2 9-3 26 3 11-3 12 1 0-1 18 3 8-3 10 3 10-3 11 1 19 4 5-4 10-1 10 1 38M293 3345l31-4 23-6 10-5 6 4 28-3 20-7 18-4 12 0 9-3 10 0 0-1 13-2 20-6 32-3 10-4 15 1 9-4 9-2 10-5 21-1 0-4 7 1 18-8 9-9 13-6 6-7 9-3 22-18 12-7 7-7 11-1 10-8 9 0 0-6 6-8 6 0-1-21 7-12 5 0 0-8 6 0-1-17 9-9-3-10 2-7 2 0 0-12 4-10 2-10-1-7 1-12-7-8-3-12-1-9 1-7-5 0 0-7-11-9-1-8-6-8-1-11-24-24-11-3-6-7-13-2-13-9-8-17-2-9-10-3-9-7-10-3-40-19-24-15-13-12-18-8-10 2-8-3-10-1-9-8-34-12-10-1-25 0-20-5-9-6-9-2-18-13-5-7-13 1-6 4-13 0 0 4-23 5-11 5-2 8-4 11-2 40 1 20 1 5-3 12 3 9-4 56-3 8 2 13-3 9 1 10-2 9 0 12 0 22 2 9 1 15 2 9 0 9 5 20-5 0 0 13-3 13 3 0 0 12 2 10-2 3 1 13-6 10 3 0 0 11-3 18 0 24 4 9-1 8 4 9-7 19 0 57M293 3345l21-3 11-3 21-3 19 2 26-2 23-3 5-6 14-2 22-2 21-6 12 1 9-1 14-4 8-10 21-3 21-9 22-2 11-6 11-3 12 0 8-3 19-5 41-24 16-1 0-3 20-14 8-9 6-2 7-6 18-7 11-17 4-13 2-16 6-9 8-23-6-11-2-8-4-7 1-14-8-11-2-9-12-28 4-4-2 0-2-23-4-6-5 0 0-12-5-8-1-8-11 0 0-5-11 0 0-8-4-8-8 0-2-19-6-7 2-10-41-6-9-18-18-21-8-5-3-8-21-8-13 0 0-6-11-9-32-12-6-7-38-22-10-4-11-7-4 0 0-2-25-14-8 0 0-5-7-9-9-1-7 3-11-4-34-3-31 2 0 5-4-1-12 3-24 1 1 13-2 8 1 11-1 11 2 8 1 12-3 13 3 13-3 7-9 10-3 7 0 9 7 18-3 10 2 19-1 10 0 11-5 17 3 9-3 11 3 10 0 19-3 13 1 8-1 17 7 10-6 9 2 14 4 0 0 8-4 11 2 40-3 24 2 10-3 11 1 12-2 18 2 10 0 11-2 6 0 92M293 3345l125-1 17-5 41 0 18-3 36-13 15-3 22-1 17-3 13 0 0-8 23-2 15-9 14-2 41-30 20-22 15 0 0-16 6-12 12-14 6-15 10 0 0-44 10-16-5-19-1-12 4-14 0-20 10-34-4 0 0-20-5-32-6-18-3-17 5-11-1-7-7-16-2-36-7-12 1-21-7-14-6-15-11-12-1-31-10 0 0-14-11-21-8-11-10-5-293 0-18 4-16 0-17 11-19 0-28 13 0 602M293 3345l53-3 0-3 16 3 21-1 20 4 16 0 35-7 13-8 19-8 65-15 14-1 17-9 24-9 13-4 12 0 0-3 35-26 21-10 13-10 34-15 15-11 5-10 3-13 9 0 0-16 2-13 6-15 3 0 0-10 5 0 0-34 11-12-2-16-4-15 3-16-13-20 0-15-13-17 4-8-19-36-11-9-7-13-17-9-3-17-8-14-19-25-31-22-9-10-37-5-19-11-35-7-43-13-16-6-41-2-30 4-47-12-36 9-17 1-30 15 0 548M293 3345l18 0 0-2 54-7 58 2 33 3 38-11 24-11 17 0 0-3 14-3 12 1 20-2 42-5 16-8 17-3 17-9 10 0 0-13 16 0 0-11 13-14 12-7 15-5 24-29 0-15 7-15 1-17 7-15 5 0 0-14 5-15 14-34-8-12-2-16 9-18 3-14-13-16 1-35 9-15-7-13 5-13-23-57-8 0 0-18-14-13-13-24-13 0 0-13-15-26-14 0 0-20-10-13-16-11-23-1 0-7-37-3-18-6-19 4-15-4-21 2-27-7-23 1-18 4-39 2-28 7-20 1-17 5-20-1-14 13-35 19-6 0 0 580M293 3345l61 0 26-6 14 2 21-4 27-11 31 6 24-2 20-5 16-9 17 1 30 6 22-1 12-10 20-10 17 0 0 3 22-2 30-21 23-9 17-11 17 0 0-5 18-7 5-15 6-3 9-14 20-19 3-10 29-24 8-17 4-17 3-20-4 0 0-30 6-15-3-14 6-17 4-54-13-14-13-26-2-24-5-20-1-15-8-18 2-14-4-12 5 0-1-31-14 0 0-27-17-8-10-1-26-1-13-13-14-3-23 0 0-12-8 0 0-14-16 0-39-9-17 0-17-4-15-1-17 0 0 3-15 0-23 3-14 0 0 4-31-4-15 0 0-1-15 7-28-6-24-1-25 4-12 6-24 5-12 4-31 6-17 11-9 13 0 102 2 25-1 5 4 10-5 10 0 18 3 13-3 31 0 363M293 3345l91 0 25-2 13-12 64-4 38-9 16-13 15-6 18 1 13-8 13-3 17 0 0-3 22 0 0-5 20-7 37-6 26-12 17-9 15-18 13-2 17-7 34-13 16-9 20-50-3-11 7 0 0-13 5-13 7 0 0-17 3-17 0-15 3-11-3-17 8-31 4-11-9-6 2-13 0-41-6-12-4-17-6-10-4-17-12-23 4-15-6-9 2-11-5-30-22-15-7-15-17-5-17-4-21-1-17-4-34-4-15-4-18-1-45-15-32 3-34-4-23 4-22-7-17-2-94 0-24 2-11-2-15 1-21 4-13 1-18 4-10 21 1 114 7 15-1 0 0 23-5 18-2 14 0 33 2 17 2 32 4 17-8 27 0 289M293 3344l39-2 39-6 23-1 38-16 16-2 9-3 36 4 18-6 13 0 0-2 21 0 16 5 12-2 10 1 20-9 8-13 18 0 31-3 24-6 19-10 17-15 6 1 8-8 22-12 6-25 10-5 10 0 0-9 16-20 6-10-1-22 1-11 9-13 1-15 6-19 0-25 7 0 0-17-3 0 0-25 4-20 1-34-8-12-7-18-9-9-8-16-10-10-5-20-12-16-7-25-7-9-7-22-3-14-7-18-11-14-9 0 0-20-3-15-2-17-247 0-8 2-17-2-127 0-14 7-8 7 0 617M293 3345l156-1 0-3 21 0 0-1 15 3 20 0 0-9 26-4 23-2 16-9 23-2 33-9 27-10 28-2 8-7 17-10 9-10 14-8 11-14 16-15 9-18 26-19 15-19 12-11-2-18 5-19 2-26 6-29-6-15 10-20-2-18 2-14-14-25-3-13-2-21-7-5-3-16 3-24-10-14-4-12 1-19-7-20-19-9-4-17-22-7 0-18-14-9-21-11-17-16-32-36-33 10-43 0-37 1-15 6-45-13-20 0 0-4-105 1-15 5-16 0 0 5-17 0-19 4 0 616M293 3344l72-2 19-4 13-8 19-4 14 3 26-2 16 6 44 1 0-1 21-16 33-6 12 0 0-8 13 3 8 5 30 0 0-16 15 0 0-14 23-6 18-6 14 0 0-10 9-5 11-7 8-8 15 0 0-6 19-12 8 0 0-9 9-10 1-19 12-15 6-16 14-8-3-21 12-22-3-16-1-43-10-18 6-22 1-14-2-7 11-12 0-11 4-11-8-20-8-52-32-39-3-13-10-22-7-8-11 0 0-17-17-6-5-10-19-21-33-22-12-3-195 0-27 8-33 0-11 5-16-5-16 0-20-2-15 10-12-2-16 5-11 9 0 602M293 3345l38-1 39-5 18-2 15 1 16-2 8-4 24-5 10-7 23-8 27-6 4-5 18-5 10 0 12-2 21 9 37-7 15-1 19 5 16-2 44-22 13-11 14 0 0-20 28-21 24-27 20 0 2-30 12-17 1-22 8-13-1-16-7-12 13-29-3-17-7-25 4-18 0-11-16-32 0-28-7-3-5-26-7-19 9-13-14-15-7-17-3-18-8-13-15-18-17-13-7-11-9-7-9-10-7-12-21-18-92 0-13 3-16 11-24-6-15-7-14 0-16 0 0 11-13 0 0-5-16 0-11 1-24-7-16-1-39 1-15 9-23-3-12 4-12 11-21 9 0 600M293 3345l114 0 0-3 15 3 9 0 17-5 11 0 0-2 16 0 0 7 19 0 41-18 22-6 20-1 21-4 22 0 19-7 32-4 16-5 20 0 37-6 19-8 9-10 15-2 12 0 0-4 31-21 10-9 22 0 0-11 12-7 19-21 22-38 12-17 3-12 1-19-6-25-1 0 1-17-1 0 0-11 5 0 0-19 6-13 3-15-6-20-6-10-6-15-3-19 1-18-2-16 1-11-4-14 1-22 3-19-8-17-15 0 0-13-11-16-14-17 4-18-13-18-7-19-16-19-333 0-22 2-15-2-79 0-17 8-20 2-23-2-6 2-13 1-12 10-4 0 0 119 3 16-3 15 1 6-1 227 3 19 9 21 5 16 9 16-1 9-3 0 0 14-13 18 3 13-11 46-1 55M293 3345l30-2 13-4 18-3 17 1 15-5 20 0 20 3 34-9 19 3 13-3 18-10 17-3 17-6 44-10 14-12 18-4 15 0 0-6 9-3 22 0 0-6 16-9 7-7 25-9 12-12 14-2 12-14 20-12 15-22 10-10 1-13 11-11 7-11 0-22 9-22 4-16-8-22 1-19 4-39-7-13 3 0 0-15 3-14-7-16 4-13-13-17 1-11-13-21-3-12-1-17-8-12 0-11-11 0 0-20-12-18-5-14-11-11-13-22-13-4-11-13-10-6-381 0-19 5-6 0 0 626M293 3345l37 0 0-4 39-2 0-2 15-3 18 6 42 1 0-7 21 2 15-2 61-14 14-8 34-9 32-3 14-3 21 2 15-6 28 4 40-36 19-8 18-15 22-14 14-12 16-7 5-12 5-18 14 0 0-16 2-19-6-11 13-27 0-21-6-17 2-30-1-22-6 0 0-15-5-22-9-11-5-17-4-24 0-25-10-6-9-19 2-20-7-16-12 0 0-13-10-14-16-8-10-11-6-20-18 0 0-15-6 0 0-6-6-12-9-11-11-4-20-1-26 6-23-1-21-3-15-4-50 0-25-6-19 0 0 2-13 3-20 1-16 5-56 0 0 2-22 1-16 2-24-2-18 10-18 6-4 10 0 339 8 21-5 18 2 22 4 0-2 30-4 0 0 14-2 0 2 49-3 15 0 83M293 3345l173 0 15-3 15-10 34-8 25 0 34-7 13 1 33-7 24-2 12-11 15-8 14-11 18-12 16-6 15-8 12 0 0-15 13-19 2-14 28-31 10-15 4-39 10-15-1-19 5-18 7 0 0-12-14-17 7-33-5-6 0-12-5-20-1-23-6-28 1-20-4-7-15 0-1-38-4-24-9-8-9-11-8-15-4-13-13-13-12 0 0-11-10-13-13-11-9-14-13-4-380 0-19 10 0 620M294 3345l18-2 73-15 18-6 16-2 14-8 12-3 41 3 18-4 16 1 20-6 22 0 0 1 30-1 34 5 10-3 10 0 0-3 26-9 18-11 13 1 17-19 9 0 0-6 13 0 0-8 22-7 54-45 5 0 14-9 13 0 0-20 22-10 4-8 13-16 0-13 13-11 4-12 4 0 0-18-8-24-6-56 4-11-2-17 8-23-3-17-3 0 0-7-6-11-2-22-19-36 2-13-6-35 4-18-12 0 0-15-9-16-10-7-5-15-16-10-38-13-26-1-384 0-35 4-18 10-17 1-10 4 0 612M293 3345l60-3 47-5 18-4 20-3 20-9 20-1 50 8 46 3 38-13 11-2 8-13 12 3 20-11 34-13 8-5 37-11 17-12 20-8 14-9 11-11 15-9 13-15 1-14 12-9 6-13 2-13 15-10 12-17 4-19-7 0 0-14-2-15 5-26-9-17-5-16 2-20-4-18 5-21-13-27 4 0 0-22-2 0 0-37-7-13-8-22-8-12-9 0 0-16-4-18-18-16-7-12-9 1-38-18-35-25-19-9-375 0-13 2-15 15 0 613M293 3345l40-1 0-3 21-2 18 2 23-4 22-6 14 2 15-7 17 4 14 10 22 0 0-3 12-7 43 0 0-6 15 0 41-18 16-3 16-12 16 0 12-12 20 2 6-14 23 0 9-6 15-14 24 9 15-2 32-17 16-14 16-17 16-10 4-10 8-12 17-13 4-16 10-11-1-11 8-9-4-25 1-15-2-27-5-13 3-17-2-13-10 0 0-12 6-14-6-17-3-23-5-34 1-11-9-20-24-19 1-21-6-3 1-23-23-39-9 0 0-10-16-7-25-6-11 1-19-1-30-13-18-16-10 4-22-1-9-4-40 4-15-2-22 2-31-2-21-3-149 0-17 2-18-2-9 7-9 11-4 10-1 19-10 25-2 11-1 22 4 19 5 12-3 5 2 15-5 11 0 31 6 41-2 32-9 13 6 49-10 0 0 21-9 0 0 277M293 3345l102 0 17-5 14 0 0 5 42-6 18 0 14-4 18 3 21-3 19 0 13-2 19 7 19-7 8-15 30-25 19-7 11-1 9-9 12-4 22 0 0-2 14-11 18-6 8-9 6-10 16-17 15-14 12-4 10-14 12-9 5-42-6-44 11-16-3-14-1-19-5-14-3-17 5-14-3-22 3-15-6-6 5-16 0-18-6-19 1-21-10-22-14-17-10-48-7-11-11-14-20-6-10-11-11-25-10-11-368 1-20 9-18 16-15 5-1 18 3 23-5 35 1 14-7 14-2 16 0 480M293 3345l21 0 44-8 22 4 39-8 25-1 11-8 20 3 21-1 6 2 15 0 39-6 33-9 20 0 20-6 26-4 14 0 0-7 45-13 21-3 13 0 0-6 12 0 0 6 16 0 0-6 12-10 9-12 8 0 0-18 16-8 7-12 4-11 3-17 13-17 3-15 13-13 8-22 1-10 3 0 0-14-3-12-3 0 0-15 3 0 0-15-5 0 0-40-5-11 1-24-5-21 6-15-9 0 0-11-4-17-4 0 0-13-11-22-10-12-6-19-14 0-2-29 10-18-14 0 0-15-7-16-17-9-19-5-15-15-13-8-13 0 0-6-25-2-15-9-37 0 0 2-38-4-9 4-31-4-54 0 0 8-13-1-25 4-24 0 0-4-14-7-59 0-16 7-37-7-27 7 0 303 2 20-2 18 0 283M293 3344l32-1 16-4 35 0 0-2 19 0 17-5 6-10 19-3 23 4 22 0 0-7 17 2 22-6 17 4 6-10 28-11 79-14 23-11 17 1 16-7 31 0 0-11 17 0 18-10 17-3 22-2 0-20 15 3-2-17 19-9 10-12 21-33 11-9 4-25 7-15 1-12-6 0 0-14-3-21-1-37-2-20 0-29-3-18 7-13-4-13-1-23-9-14-8-20 3 0 0-24-22-25-5-14 1-18-8-12-8-23-11-22-10-8-12-7-25 5-15 0-17-5-166 0-18 2-15 9-15 1-22-11-15 2-41-1 0-2-102 0-38 12-3 29-3 0 0 12 2 14 4 16-4 18-2 0 0 26-6 18 5 13-1 19-2 13 1 27 2 17-4 9 8 19-3 16-7 15 2 19-3 18 0 301M294 3345l124-1 37-8 18 0 16-2 11-6 39 2 40-12 4-5 16 5 17-12 24-2 28-11 28-17 23-9 21-4 14-12 35-17 21-4 8-11 14 0 18-5 15-7 13-17 7-10 6-17 20-29 2-18 0-21 4-23 1-15 3-8-7-17-3-10 0-75-5-32 3-17-8-21 0-16-9-60-7-15-12-18-28-28-7-12-8-10-18-4-105 0-15 4-18 3-20-3-44 5-12-3-22 7-15 2-15-3-32 0-17 5-21-4-10 3-23 1-17 0-19-6-23 2-30-1-34 6-14 11-13 8 1 28 5 17-5 17-1 35 3 13-2 16 4 0 0 15 2 12-2 20 3 16 8 18-8 17-1 15 2 17 11 12-3 23 2 18 2 0 0 14-6 9-6 0 0 14 6 20-5 23 8 20 1 23-9 32-5 26-2 16 2 11-2 16 1 0 0 32-3 14-1 15M293 3345l14-1 68-13 22-3 34-2 15-3 69 1 0-6 21 5 27-7 11-6 8 1 45-15 32-4 15 1 17-7 11-2 19-1 22-3 26-13 14 1 22-2 15 4 20-1 0-4 15-10 18 0 0-5 4-6 15-16 13 0 0-15 3-15 1-14 6-19-1-17 3 0 0-14 11-10 11-17 4-19-2-13 1-13 2 0 3-46 5-32-3 0 0-19-5-20-4-11-4-65-6-27-4-30-3-9-36-44-16-10-12 0 0-11-15-19-44-5-47 0-17 2-11-2-425 0-7 4 0 627M293 3345l137 0 44-7 28-11 19 2 34-2 16-4 23 7 17-3 24-1 12-2 19-9 15-4 14 0 19-6 53-12 16 0 0-5 19 1 21-3 22-9 36-8 22-19 13-9 3-18 9-27 8-12 6 0 0-24 8-17 7 0 0-19 7-15 11 0 0-31-6-15-1-22 8-13 1-15 9-20-1-16 8-16-6-41 7-22-7-9 3-19-7 0 0-19-5-12-6-29-4 0-1-34-15-7-25-27-14-12-9-14-14-2-590 0-7 5 0 626M293 3345l37-6 62-15 13-6 72-7 15-2 12-8 24 0 21-2 27-9 19-5 13 0 16 3 22-6 15 7 35-2 16-11 16-3 27-10 20-3 19-4 15-4 15-2 20-9 15-5 27 0 27-9 23-4 19 0-1-20 11-14 4 0 0-16-3-11-1-22 8-19 2-18-2-13 10 0 1-33 3-19 3-10-6-45-5-13 1-14-1-19-5-15 0-18-3-18 3-20-9-29 4-16-15-50 0-15 3-18-27-11-12-3-13-10-612 0 0 631M293 3345l91-8 40 1 42-11 38 2 33-2 12 4 14-6 16 0 20-7 10 3 22-8 10 0 88-24 18-2 34-1 0-3 18-5 16 0 0-6 17 0 0-5 13-2 13-9 29-15 41-12 12 0 0-13 10 0 0-11-3-14 8-26 7 0 0-11 15-13-3-13-1-31 9-17-2-22 2-29-6-18 8-14 4-18-2-17 5-28 4-44-7-14 3 0 0-42 1 0 0-16 3 0 1-34-7-31-1-18-12-10-19-11-664 0 0 630M293 3345l116 0 35-4 18 4 22-2 13 1 16-11 12 0 0-8 21-3 18 3 42-9 13 1 37-5 16-1 15-3 14 0 0-2 18-2 18-12 25-12 20 0 0-11 21 4 28-5 12-9 23-9 13-8 12-12 15-20 8-9 15-33 7-33 0-17-2-15 7-12 3-21 4-13 5 0 0-11 3-12-10-23 7-19 2-13-2-16-6-18-8-15-3-16 1-15-6-17-2-9 2-10-5-25-2-31-6-17-16-12-9-16-12-12-13-23-10-7-22-5-8-1-355 0-15 2-22 0-20 3-19-5-14 8-72 1 0 3-18 3 0 616M293 3345l61-9 20-1 17 3 36-1 24 0 24-10 17 0 16-2 14 2 21-7 30 0 0-3 16-4 33-15 17-4 10 5 15-4 23 4 17 0 0-6 24-7 14 0 15-2 21-11 15 1 19-1 18-10 21 3 21-1 17-6 16-2 16 2 11-9 2-15 10 0 0-18 7-18 7-34 0-14 5-22 6-18 4-19 9-13-6-17 9-10 0-18-2-18-4-14 1-18 5-18-19-30-2 0 0-19 7-17 2-28-4-21-7-12-1-7 2-16-5-17 1-13-3-11-16-4-44-43-33-14-570 0 0 631M293 3345l38-2 17-2 16 3 41-9 23-8 25 1 0 2 28-8 43 0 30-12 31 1 0 1 19-4 11-6 22-3 21-6 21 1 19-5 60 5 18 0 0-7 6-9 13-8 15 0 0-8 64-25 16-16 8-18 12-18 6 0 0-17 6-13 21-30 6-12 2-12 8-21 5-7 4-14 2-16 7-14-7-13-4-55-6-16-6-20-2-13-6 0 0-15-3-25 3-38-6-21-9-18-3-11-11-17-16-8-7-9-17-10-5-10-12-13-13-3-554 0 0 93 5 12 0 15-5 12 0 123 3 31-1 17 4 15-3 18 5 0 0 15-4 20 5 0-2 55 5 18-2 17 2 14-2 38-7 0 0 13-3 13 3 61-2 14-1 17M293 3345l102 0 19-5 19 0 0 5 49 0 37-15 15-3 19 3 16-6 40-7 15-1 17-6 27-5 20-1 13 6 18-6 14 2 17 1 16-14 21-1 18-8 54 2 37-6 16-4 17-9 24 0 39-5 11-3 0-545-710 0 0 631M293 3345l41 0 18-4 18 2 19-1 36 3 38-2 16 0 0 2 18 0 13-7 42-10 19 3 20-9 57 2 14-6 12-10 21-6 17 0 0-4 52 1 0-4 30 2 0 5 31-12 17-4 5-2 26-2 23 0 31-9 14-10 24-8 6-18 2 0 0-25-4-19 12-18-2-15 3-11 2 0 0-18 8-11-6-31 1-14-4-21 4-9 3-16-1-13 3-14-6-12 0-14-4-18 2 0 0-14-2 0 0-24-7-32 9 0 0-16-4-13 5-15-3-10 0-27 3-34-5-19-2-40-685 0 0 631M293 3345l56-3 16-2 37 2 0-3 13-8 21-4 22-1 9 5 68-2 20-5 38-1 13-7 19 0 0 7 26-2 22-7 23 0 0-6 14-8 20-2 14 1 13-6 19-4 14-6 17 7 16-9 19 3 30-5 11 0 0-9 19-7 19-9 23-13 7-10 3-11 11-22 8-15 6-14 3-23-4-19 3-15-3-24-5-17 7-33-1-13-4-36 3-14-6-50 8-12-1 0 0-12-6-16 1-13-1-15 3-58 1-27 6 0 0-18-10-19-8-6-17 0-17-2-17-12-12-1-269 0-8 5-12-4-15-1-305 0 0 630M293 3345l54 0 72-14 14 2 19-1 28-11 32-6 13 0 22 5 20 1 10 6 15-7 21 2 23-4 10 0 17-8 26-1 15-4 17 1 18-9 20 0 0-1 12-2 16-12 20 1 37-10 20 0 12-10 14 0 0-4 14 1 23-3 12-15 8-13 11-14 13-27 3-20 4-12 0-24 8-16 4-16 1-22-2-14 11-47 0-14-4-17 2-22-8-18-9-6 9-36-2-16 2-22-8-20-3-21 0-15-9 0 0-15 7-14 1-22 3-18 5-17-10-10-683 0 0 631M293 3345l89 0 0-5 20-5 34 1 0-8 11 0 0-5 18 1 19-3 17 0 0-6 60-3 20-4 44-6 22-7 20-10 19-2 15-8 41 1 18-6 17 2 21-2 15-3 16-1 21-8 17-2 19-10 29-3 12-3 20-1 43 0 0-9 4-17 9-16 0-483-710 0 0 631M293 3345l32-3 47-12 13 2 19-2 45 0 0-2 37-11 17 2 42-7 18 3 9-2 27-10 22 4 15 4 20-2 15 0 0-6 14-2 21-5 18-2 18 0 27-12 58-1 36-9 16 0 0-12 19 2 20-6 19-3 16 1 18-17 7-9 8-21-1-12 4-18 9-13 1-15 0-27 4-12 0-168-2-20 2-18 0-163-5-16-23-9-19-2-663 0 0 631M293 3344l19-2 61-1 24-4 49-16 19-3 21-8 16 6 13 6 19 0 44 3 16-11 11-3 45-1 12 1 15-1 26 0 27-6 41 2 26-5 16-7 19-3 12 0 0-11 38-3 23 2 4 7 19 6 62-21 13 0 0-557-710 0 0 631M293 3345l68-13 17 0 14-5 18-4 20-2 17 0 0-5 21 0 0 4 13 2 22-2 15-4 18 0 0-4 44-3 15 8 35-5 17-5 22 1 30-8 41-1 11-3 20-11 22 4 18-3 14 0 18-7 34-8 26 3 19-5 13-5 20 0 18-9 16-5 12-7-3-13 4-24-7 0 0-10 8-46 0-87-2-28 2-41 0-280-710 0 0 630M293 3344l20 1 36-2 19-6 33 3 17-9 35 0 11 3 20-9 34 3 19-3 18-11 17-4 23-2 12-6 38-2 25 1 0-6 13 1 58-11 70-3 21-2 31-7 23 1 48-9 19-4 31-11-2-20-6-12 11-14 3-15 2-23-1-23-7-16 1-11 7-12 11 0-2-54 1-29-8-30 9-49 0-228-710 0 0 631M293 3345l101 0 9-3 18-3 32 0 22-7 16 0 0 2 13-4 18-3 14 0 11-2 18 0 0-5 17 2 38-8 24 4 22-2 17-6 31 0 0 2 17-10 19-1 22-3 37-10 61-10 9 0 0-4 14-10 17 0 0-2 18-6 25-5 12-13 8-18-3-16 16-30 0-15 4-12 4-17 8-19 1-64-3-17 3-16-5-34 5-12 0-135-6-12-2-11-5-14 0-15-2-21 4-31 0-15-699 0 0 631" stroke="#000" stroke-width="3" fill="none" transform="scale(.5)"/>
<path d="M293 3345l82-4 103-12 92-15 105-23 63-19 52-20 22-12 25-15 16-12 15-14 15-20 12-21 9-22 7-23 5-25 2-20-2-72-8-83-6-35-8-34-8-25-14-33-26-54-8-11-9-7-408 0-48 4-35 5-32 9-9 6-4 5 0 602" stroke="#cc121a" stroke-width="9.4" fill="none" stroke-linejoin="round" transform="scale(.5)"/>
<path d="M1780 3344l84 1 10-2 12-6 7-6 37 5 12 0 0 2 20-4 5-7 14-1 28-10 11-2 12-9 21-5 8-4 11-7 2-10 12-3 8-5 6-7 9 0-1-18 6-7 7-3 19-15 5-10-2 0 0-10-8-24 7-18 0-9 6-18-2-8-7-16-2 0 0-12-12-6-15 0-19-11-11-4-15-15-9 0-3-7-8-8-11-5-30 0 0-6-12-7-8-3-7-7-5-10-8-3-25-3-9 5-17 1-8 4-11 0-10-3-14-1-11-4-34 0-5 10-9 8-12 6-3 6 2 21-4 13 7 12-3 6 2 10-8 7 0 21-6 0-2 22-5 16 0 33 3 17-2 7-1 12 4 9-2 0 0 29 3 30-1 18-3 9 0 20M1779 3345l87 0 0-1 23-2 7 3 17 0 39-8 11 0 38-15 20-2 9-3 20-3 19-10 20-6 19 0 0-6 17 2 16-7 42-4 12-6 15-5 14-8 36-12 19-9 26-24 18-14 18-5 18-11 25-19 12-11-5-14-8 0 0-11-8-20-7-34-16-19-2-13-17-14-4-20-9 0 0-9-6-8-1-13-7-20-13-19-6-14-12 0 0-12-25-34-11 0 0-13-15-13-21-14-10 0 0-13-13-13-7-10-12-7-24-26-16-14-16-7-8-12-12-8-12-6-20-8-12-2-12-5-208 1-17 12-17 4-3 12 0 16-5 17 0 71 2 17-2 15 7 21 0 19-6 21 3 17 8 12 0 40 2 12-2 12-10 10 2 15-2 16 0 19-2 4 0 109 7 18-7 19 0 102M1779 3345l71-2 31-3 42 5 62-2 0-3 66-12 17-6 16-15 36-25 20 0 0-4 21-3 15-6 15-9 21 2 32-12 12-13 32-20 16-5 27-13 38-47 6-16-12-15-4-15-8-15-19-48-4-14-1-12-5-11 0-19-12-17-12-7 1-17-7-13-7-23-27-29-13 0 0-12-13-16-5-15-11-17-5-14-15-15-14 0 0-14-15-13-1-8-8-7-43-28-28-8-288 1-14 5-6 6 0 619M1779 3345l15-2 96-20 51-4 0-3 24 4 20-11 20-2 55-2 16-6 35-2 17 5 39 1 0 4 24-6 13-10 26-10 7-10 27 2 24 0 0-10 13-12 42-16 17-11 15-8 14-12 17-18-3-66-7-7-8-15-3-15-16-31 2 0 0-19-10-14-4-15-14-19-5-13-2-12-20-34-2-10-8 0 0-16-8-29-28-58-2-12-25-25-3-13-8-4-11-14-25-25-16 2-22 7-15 0-35-10-36-1-17-3-16 4-89-2-10 5-35-7-47-1-21 3-13 9-28 14-17 10 0 595M1779 3345l35-1 16-3 15-1 14-3 26 1 11 3 21 0 0-8 24-2 17-5 21-1 21-4 12-3 15-6 18-4 35-5 18 1 21-1 36-7 11-5 18 0 0-3 22 2 17-6 20 0 0-4 31-3 28-11 28-16 43-20 23-18 11-19 3-13-16-44 0-37-17-31-2-12-7-20-9-19-11-31-8-16-6-33-17-36-9-12-12-34-6-27-11-12-3-16-8-16-29-41-12-26-9-3-386 0-13 5-14 2-21 6-5 8 0 610M1779 3345l18 0 18-3 21 0 0 1 17-4 16 0 0-3 22 2 8-7 13-3 10 2 16-2 31 0 0-2 19 0 27-3 7-5 15 2 26-5 25-3 16-4 16 0 26-8 21 4 18-6 14-11 16-2 17 0 0-8 18 0 0-10 20 0 10-5 16 0 0-2 20-9 32 1 0-7 5-14 19-15 14-7 1-30-4-14 9-33 1-15-5-11-5 0 0-20-10-21-4-18-10-17-8-31-2 0 0-19 3-13-3-10-20-34-5-32-10-11-2-15-24-32-4-21-19-21-4-16-17-15-7-15-15 0 0-12-12-12-4-7-187 0-14 2-14-2-16 6-40-6-105 0-19 2-12 13-20 9 0 607M1779 3345l53-3 0-1 17-1 20 1 16-1 13 2 18-10 20 0 34-3 29 2 18-1 14-3 16 1 18-6 21 0 0-2 18 0 0 3 14-5 22-2 17-4 17-10 37-7 14-8 25-7 33-17 14 1 28-11 40-21 15-5 17-15 39-12 14-12 5-15-1-15-5-19-6-16 4-18 0-10-7-20 1-27-6-14-7-9 2-12-17-43-7 0 0-10-13-16-11-18-2 0 0-13-11-12-8-24-1-15-6-19-16-28-13-14-5 0 0-10-7-14-13 0 0-15-3-17-37-11-21 0-16-12-15 0 0-8-135 0-18 5-21-1-19 4-11-3-33 0-24 4-18 5-17-4-16-6-48 13-61-1 0 8-8 12 0 445 1 0 0 20 5 20-6 17 0 92M1779 3345l291 0 45-6 18-8 27 2 16-4 18 3 15 0 0-5 21-8 12-1 18-7 33-25 19-3 20-8 30-8 17-8 14-7 25-9 18 0 0-14 14-6 9-20 3-23-6-15 1-12-8-15 0-17-7-17 7 0 0-22-7-13-6-30-2-16-7-21-10-12-5-12-1-23 2-17-20-32-4-12-10-10-3-18-12-13-1-20-23-47-10-10-3-21-12-13-14-11-26-3-18-6-11 0 0-2-9-1-41-5-118 1-22 6-30-4-24 0-10-3-64 0-13 5-12 7-45 3-22 7-19-1-14 5-15 2-9-1 0 604M1779 3344l201 1 22-3 22 1 14-10 17-4 19 1 14-5 25 1 50-10 20 3 32-10 10 0 0-6 35-11 16-7 15 0 0-3 39-7 17-8 15-4 40-43 11 0 0-12-3 0 0-17-7-14-1-16-7-16 4-16-14-30 5-56-12-32 1-15-7 0 0-18-8-12 5-13-8 0 0-15-6-15-8-13-11 0 0-16-8-21 0-11-8-10-10-19-6 0 0-11-5-14-8-14-13-14-17-7-15-12-19-27-22-14-15-6-249 0-12 5-17-4-15 3-21 1-43 10-36 2 0 3-18 10 0 601M1779 3345l84-14 16-3 17-8 23-4 17 1 21-3 37 4 22-5 21 3 17-2 13 2 19-1 14-2 23-1 21-6 14 1 15 3 12-9 15-7 16-13 35-11 39-19 19-2 12 0 0-8 22-5 35-5 30-15 15-1 12-14 3-18-2-21-6-13 4-11 3-21-5-16 2-21-3-13-8-17-4-16-7-20-11-17-3-16-14-27-2-23-5-15-6-9-6-13-16-11-13-11-13-33-4-12 0-7-16-16-10-13-17-26-15-14-32-19-14-17-380-1-13 1-33 8-10 3 0 619M1779 3345l52-3 18-2 18 0 15 3 15 0 20-2 37 1 50-13 23-2 33 0 12 2 20 0 17-8 22 0 0 4 35-13 38-4 14-6 28-3 15-5 18 0 0-7 17-7 16-12 19-9 15-4 20-9 23-2 29-21 10 2 25-4 4-12 3-15-8-9 6-20-2 0-2-40-8-13-4 0 0-16-5 0 0-13-3-16-17-14 0-31-5-16 0-9-7-11 0-16-8-13-10-28 1-18-6-12-9-23-9-35-10-13-11 0 0-9-16-25-10-12-10 0 0-16-18-2-56-15-17-1-16-8-17-2-22-5-9-4-21-5-15-6-17 5-22 0 0 3-14 4-70-1-16 1-16-6-22-3-57-2-8 6-24 3-9 6-18 6-44 8 0 426 10 32 7 13-9 12 1 13-5 12 3 17-4 14 2 13-5 44M1779 3345l46-5 52 0 33-13 23 5 14 6 35-9 38 1 17-4 28 0 16-5 18-3 31-5 36-3 16-5 13-11 19-1 41-11 15-5 17 0 15-13 27-19 12-5 21-6 35-24 13-17-3-23 6-18-1-15-5-16 6-14-5-34-11-10-4-15-16-34 2-17-4-14 1-36-5-15-3-18-14-15-7 0 0-7-18-45 0-13-8-19 4-18-11-20-17-18-14-11-18 0 0-8-13 0 0-7-23-19-420 0-16 2-2 11-8 0 0 17-4 0 0 601M1779 3345l87-3 0-4 20-6 56-2 35-8 22 1 20 0 17-12 22 0 15-4 18 5 14 0 0-4 16-7 15-1 16 3 28-3 19-8 48-4 25-7 16 1 16-8 18 0 0-3 16-10 6 0 0-12 13-2 21-8 29-12 13-8 13 1 16-6 6-13 0-37 3-13-5-18 2-22-6-30-5-15-7-15-2-14-4-15 1-10-5-15-2-18-11-19-13 0 0-16-9-24-10-21-3-20-8-15-5-18-3-20-8-30 5-18-5-15-11-13-3-8-12-17-22-11-469 1-17 7-20 4-17 6-5 0 0 613M1779 3345l57 0 39-5 22-7 14 4 18-4 10-4 25-1 19 1 14 5 48-2 13-2 18-6 20-10 18-5 15 5 43-1 26-5 15 0 0-4 13-5 12 4 14-7 17-3 21-8 9-11 22-7 19-1 13-7 17 0 0-1 13-7 21-7 33-21 15 0 15-11 14-3 8-6 0-16-4-16 3 0 1-65-4-30-4-12 1-14-5-15 5-19-5-12 0-20-10-10-9 0-2-23-9-19-3-15-7 0 0-18-5-16-9-19-12-15-12 0 0-11-9-16 3 0 0-13-18-14-5-18-13-32-10-9-1-10-7-12-101 0-21 4-20-1-19-2-15 2-25 0-21 8-16 1-32-2-34 0-17 2-16-9-17-1-20 0 0 1-20-3-110 0-20 6-19 9-15 18-2 18 0 579M1779 3344l34 0 42-6 37-3 14 1 17-5 41-5 14 0 0-2 30-7 14-6 19-6 20-1 12 1 38 0 27-2 19 2 19 0 0 5 9-4 21-4 27-1 12-7 61-13 19 0 24-3 33-12 16 1 36-10 52-30 3-4 0-160-3 0 1-26-4-20 0-15-5-15-14-14-6-14-8-32-5-10-3-20-5-19-5-15-4 0 0-10-7-19-4-21-7 0 0-13-7-19 0-11-4-21-12-11-16-4-18-8-16-12-99 0-66 2 0 2-26-4-11 0-18 2-25-1-17 4-25-3-33-2-220 0-18 8 1 623M1779 3345l30-8 17 0 0-2 17-4 55-2 0-8 21 0 0 3 17-1 15-4 18 6 16 0 22-6 16-1 39 2 12-4 17-2 21-11 22-1 12 1 13-6 17 1 18-4 13-6 23-4 22-6 52 0 0-5 20-1 16-7 17-10 18-1 15-9 18-6 17-18 16-10 33-12 4-6-2-18-8-20-3-26 0-15 2 0 0-15-3-41-4-11-4-17-7-21-2-8 4-15-12-32-3 0 0-13-7 0 1-34 2-10 3-3-3-19-6-20-1 0-1-33 2-13-12-31-8-14-1-17-13-17-31-3-12-7-15-6-555 0 0 631M1779 3345l30-3 17-6 15 0 16-2 29 2 21-3 17-5 17 4 24 0 0-1 31 0 0-1 23-7 16-8 16 2 21-5 18 0 0-5 11 2 34-2 19 3 9-9 18 0 0-2 12-6 23-1 23-10 36 2 16-1 16-4 34 10 21 3 13-13 19-4 16-6 20 0 12-12 15-13 11-14 12-9-2-20 8-13-7-19 0-16 1 0-1-31-4-13 2-52 2-15 0-18 5-18-7-13-6-19 2-17-3-21-8-34 1-13 4 0 0-12-22-33 2-12-7-17-4-15-3-19 1-18-6-20-9-16-1-13-639 0 0 631M1779 3345l39-2 53 2 14-6 19-4 16 0 32-10 17 2 20-4 20 3 45 2 24 3 17-2 19-5 16-8 17-5 24-2 14-7 42 1 0 2 12-2 18 1 24-5 26-11 49 2 19-8 18-6 20 0 0-2 25 0 9-15 12-13 14-11 12-10 4-9 0-173-4-20-6-19 1-20-1-23-3-9 9-19 1-14-6 0 0-12-16-13-3 0 0-17-4-14-12-15-8-18-4-12 2 0 0-18-7-19-4-14-11-29-15-6-12-6-15 0 0-12-592 0 0 631M1779 3345l78-2 17-2 17 2 18 0 0-9 18 4 17-6 17 0 20-6 20 2 15-7 26-7 24-3 15 2 15-5 32 1 0-5 21 0 9-6 24 0 0-8 18 2 20 4 18-1 21-14 11-3 95-13 33-9 32-16 10 0 0-8 16-10 20-10-4-12 2-23 6-12-3-15 1 0 0-14-3-20-6-21-6-30-8-9-8-35-3-32-3-14 3-39-4-12-6 0 0-16-7-29-13-29-1-18-19-36 5-15-9-27-10-13-7 0 0-15-20-11-11-1-186 0-15 4-23-1-17-3-75 0-9 4-21 0-19-2-9 1-19-3-83 1-14 4-13 1-20 4-25 4-9 13-1 18 4 13-5 15 4 12-3 14-3 23-1 0-1 32 5 26-5 12 0 14 4 29 5 0 0 18-7 21 5 13 1 12-1 18 2 14-3 8 6 19-6 21 4 24 6 10 8 22-1 14-4 18-12 19 2 16 0 24-7 18 1 15-3 11 0 61M1779 3345l20-1 52-5 19-5 61-9 14-4 22 6 16 7 22 1 17-8 16 0 0-5 19-4 33 1 21-2 49 2 0-8 19-6 43-18 41-12 35-8 21 3 23-3 23 3 20-4 20 2 30-7 20-5 14 0 0-7 7 0 0-12 7-12 6 0 0-345-4-9-7 0 1-32-2-20-4-15-8-15-1-15 0-35-3-15 2-10-684 0 0 630M1779 3345l16 0 32-6 32-1 7 4 15 3 86 0 11-3 22 0 12-4 19-1 15-3 30-1 41 2 20-7 18-2 13 2 15-5 20-1 29-6 18-2 16-7 21-6 23 0 0-3 19-9 10-8 11-5 20-1 14-5 16 0 0-11 16 0 0-11 14-5 18-11 31-25-2-11-6-16 4-19-7 0 0-6 3-14-14-16-1-20-4-14 1-20 6-16-6-8-15-47-4-19 1-20-12-11-6-12-9-31-7-13-9 0 0-22-2-9-10 0 0-14 2 0 0-38-19-35 0-15-8-2-5-13-11-16-11 0 0-16-514 0-23 6-12 9 0 616M1779 3344l17-1 35-8 15-1 20-4 22 1 24-4 18-1 16 2 21-2 19 5 49-4 14-8 19 0 18-4 78 5 15-2 21-13 14-1 18-5 17-1 18-4 18-1 20-4 16-5 20-3 17-4 34 0 10-4 32-18 13-13 33-16 9-7-1-90-4 0 0-19-9-36-3-17-5-16 4-10-6-11 0-21-17-28-5-13-3-17-6-9-6-37-11-12 0-20-4-19 0-17-9-11-2-37-9-12-8-7-9 0 0-10-14-16-16-5-7-9-17-6-49 0-18 6-37-1-16-5-236 0-30 5-27 1-18 0-11-4-33-2-40 4-8 7-18 10-2 16 3 15-2 8 2 37-3 21 0 253 5 30 8 22-5 16-7 15-1 177M1779 3345l54-1 31-3 20-5 19 1 13 4 24-1 21-8 20-4 23 7 23 0 20-3 17 3 14-6 58-16 23-3 18-9 18-6 24 2 12-3 39-2 61-20 12 2 34-9 28 2 10-8 26-5 17-8 9-12 12-10 10 0 0-160-3-13 3-13-1-17-7-15-11-15-5-11-3-17-9-15-2-18 5 0 0-18-2-11 2-17-16-25-4 0 0-28 3-20-7-11-12-32 0-15-2-15-7-11-17-7-19-6-333 0-18 4-14-1-17 4-17-2-15 2-24 0-20-2-19 3-19-1-13-6-36-1-41 7-10 4 0 620M1779 3345l39-8 19-6 21-3 14 0 0-4 22 0 0-6 38 3 21 5 21 0 18-10 13 2 15 8 12 1 19-5 14 0 16-6 59-3 0-2 19 5 23 1 15-4 33-1 33-18 14-5 21 1 8-9 47-5 13-7 20-7 16-11 13-12 20-10 16-4 11-13 15-10 9-12-9-16-1-20 5-29-3-16-1-16-5-14-4-15-7-15-5-16-10-25 0-18-2-19-5-17-1-12-5-13 2-19-7-29-7 0 0-14-7-18-11-12-20-40-10-5-8-20-1-15-12-8-5-14-12-14-12-7-317 0-23 1-13 2-14 0 0-1-20 3-40 0-18 5-19 2-13 3-18 6-15-2-16 6-13 9-2 16 1 15-1 15 3 14-3 37-3 15 5 16-4 27-1 18 3 15-3 15 2 22-2 13 0 36 5 19-5 16 0 33 2 18-2 13 0 45 4 19-4 0 2 51-2 17 1 92M1779 3345l72-4 25 1 12 3 20 0 24-4 9 3 20-9 20-3 26-1 16-7 42-3 18 1 30-9 17-9 18-2 16 2 21-1 17 4 16 0 0-5 14-3 22-9 11-7 24-2 17 5 12-1 20-8 20-1 20-4 19 3 16-4 17 0 0-5 16-9 14 0 0-14 9-8 15-6 5-14 0-180-2-22-4-18 6-10-5-12-3 0 0-14-14-32-4-22-7 0 0-12 3-17-2-12-10-20-7-35-3-25-9-19-9-13 0-15-12-11-38-12-574 0-16 3 0-2 0 630M1779 3345l40-5 42-2 14 2 18 0 0-2 45-8 53-4 17-4 18-7 20-2 13-6 30 1 0-3 21 5 15 1 20 4 19-6 23 1 22-2 21-11 30-2 18-8 15 0 14 3 20-6 18-2 16-10 21-7 21-2 17-12 10-4 22-4 20-9 17-28 0-112-2-15-7 0 0-21-13-53 3-13-3 0 0-9-9-11-1-18-2-12-6-15-1-13-10-11-3-19-6-14-1-22-3-17-20-45-10-7-8-11-8-23-9-13-3-14-17-4-158 0-36 9-23-8-15-1-17 3-18 5-18 2-26 0 0-1-21-1-60 7-14 0 0-7-21-5-17-1-10 4-13-3-43 1-17 5-22 0 0 1-19 9-3 12 0 414 2 18-2 16 3 20-3 15 0 117M1779 3344l16 0 45-9 18 2 38-1 13-3 24 10 31-4 25 6 16-4 15 1 24-7 20-9 15-4 21 0 0-4 10 5 24-4 35 0 14-8 16-4 17-11 21-1 16-7 15 2 20-3 20 4 10-9 45-5 22-8 34-21 17-8 18-7 19-4 16-17 0-119-2-17 2 0 0-37-9-27-9 0 0-16-7-20 0-12-8-14-8 0-1-24-10-13-9-19 1-20-12-16-6-17-2-14-6 0 0-14-7-14-5-19-17-25-12-7-2-10-15-15-10-5-16 2-23-1-16 7-36-1 0-2-17-1-15-4-35-4-398 0 0 631M1779 3344l108 1 17-2 15 1 16-4 18-9 13-1 18-6 16 2 13-9 28 0 0-2 15 0 0 3 17-6 27-3 17 5 14-4 19-3 74-6 10 1 27-6 23-1 19-3 59-1 0-1 19-3 46-12 7-11 10-11 17-15 12-15 16-9-3-36 3-18 0-35-3-35 1-15-2 0 0-24-4-14 3-10-8-22-6 0 0-15-8-30-7-10-2-30-4-15-15-35 1-19-6-12-5 0 2-27-4-16-4 0 0-14-6-15 0-13-13-15-28-9-10-11-14-5-526 0-11 2-31 8 0 621M1779 3345l59-1 20-2 25 3 107 0 0-8 34-6 14 2 10-5 20 0 22 4 14-3 53-5 17-7 14 2 19-2 21-8 15-1 14-4 21 2 30-16 41-4 63-11 13-6 16-11 12-1 8-16 8-20 5-10 9-28-4-13 0-15-5-15 0-16 2-12-4 0 0-27 4-17-2-17-8-22 2-6 1-12-3-13 1-16-5 0 0-14-2-16-8-11-4-21-1-18-15-19 0-19-3-20 3-13-7-14-2-11-13-24 5-23-1-13 4-12-12-14-44-6-583 0 0 631" stroke="#000" stroke-width="3" fill="none" transform="scale(.5)"/>
<path d="M1779 3345l205-13 101-12 86-13 74-15 82-23 109-39 33-9 10-4 8-7 2-6-1-50-11-70-14-52-25-71-33-82-28-66-30-62-8-23-9-11-4-3-406 1-46 3-44 5-21 4-15 4-11 7-4 5 0 602" stroke="#cc121a" stroke-width="9.4" fill="none" stroke-linejoin="round" transform="scale(.5)"/>
<path d="M111.02 487.2v-5M111.02 53.8v5M102.15 479.32h5M590 479.32h-5M128.76 487.2v-5M128.76 53.8v5M102.15 463.56h5M590 463.56h-5M146.5 487.2v-9M146.5 53.8v9M102.15 447.8h9M590 447.8h-9M164.24 487.2v-5M164.24 53.8v5M102.15 432.04h5M590 432.04h-5M181.98 487.2v-5M181.98 53.8v5M102.15 416.28h5M590 416.28h-5M199.72 487.2v-5M199.72 53.8v5M102.15 400.52h5M590 400.52h-5M217.46 487.2v-5M217.46 53.8v5M102.15 384.76h5M590 384.76h-5M235.2 487.2v-9M235.2 53.8v9M102.15 369h9M590 369h-9M252.94 487.2v-5M252.94 53.8v5M102.15 353.24h5M590 353.24h-5M270.68 487.2v-5M270.68 53.8v5M102.15 337.48h5M590 337.48h-5M288.42 487.2v-5M288.42 53.8v5M102.15 321.72h5M590 321.72h-5M306.16 487.2v-5M306.16 53.8v5M102.15 305.96h5M590 305.96h-5M323.9 487.2v-9M323.9 53.8v9M102.15 290.2h9M590 290.2h-9M341.64 487.2v-5M341.64 53.8v5M102.15 274.44h5M590 274.44h-5M359.38 487.2v-5M359.38 53.8v5M102.15 258.68h5M590 258.68h-5M377.12 487.2v-5M377.12 53.8v5M102.15 242.92h5M590 242.92h-5M394.86 487.2v-5M394.86 53.8v5M102.15 227.16h5M590 227.16h-5M412.6 487.2v-9M412.6 53.8v9M102.15 211.4h9M590 211.4h-9M430.34 487.2v-5M430.34 53.8v5M102.15 195.64h5M590 195.64h-5M448.08 487.2v-5M448.08 53.8v5M102.15 179.88h5M590 179.88h-5M465.82 487.2v-5M465.82 53.8v5M102.15 164.12h5M590 164.12h-5M483.56 487.2v-5M483.56 53.8v5M102.15 148.36h5M590 148.36h-5M501.3 487.2v-9M501.3 53.8v9M102.15 132.6h9M590 132.6h-9M519.04 487.2v-5M519.04 53.8v5M102.15 116.84h5M590 116.84h-5M536.78 487.2v-5M536.78 53.8v5M102.15 101.08h5M590 101.08h-5M554.52 487.2v-5M554.52 53.8v5M102.15 85.32h5M590 85.32h-5M572.26 487.2v-5M572.26 53.8v5M102.15 69.56h5M590 69.56h-5" stroke="#000" stroke-width="2" fill="none"/>
<rect x="102.15" y="53.8" width="487.85" height="433.4" stroke="#000" stroke-width="2.2" fill="none"/>
<text x="146.5" y="513.5" text-anchor="middle" class="t">0</text>
<text x="97.3" y="451.2" text-anchor="end" class="t">0</text>
<text x="235.2" y="513.5" text-anchor="middle" class="t">50</text>
<text x="97.3" y="372.4" text-anchor="end" class="t">50</text>
<text x="323.9" y="513.5" text-anchor="middle" class="t">100</text>
<text x="97.3" y="293.6" text-anchor="end" class="t">100</text>
<text x="412.6" y="513.5" text-anchor="middle" class="t">150</text>
<text x="97.3" y="214.8" text-anchor="end" class="t">150</text>
<text x="501.3" y="513.5" text-anchor="middle" class="t">200</text>
<text x="97.3" y="136" text-anchor="end" class="t">200</text>
<text x="590" y="513.5" text-anchor="middle" class="t">250</text>
<text x="97.3" y="57.2" text-anchor="end" class="t">250</text>
<text x="346.07" y="557.5" text-anchor="middle" class="l">Cyclin A/Cdk2</text>
<text transform="translate(28.8 270.5) rotate(-90)" text-anchor="middle" class="l">Cyclin B/Cdk1</text>
<text x="7.8" y="26.2" class="p">A</text>
<text x="554" y="34.2" class="fa">A</text>
<text x="348.5" y="118.1" text-anchor="middle" class="ti">No PF</text>
<path d="M854.02 487.2v-5M854.02 53.8v5M845.15 479.32h5M1333 479.32h-5M871.76 487.2v-5M871.76 53.8v5M845.15 463.56h5M1333 463.56h-5M889.5 487.2v-9M889.5 53.8v9M845.15 447.8h9M1333 447.8h-9M907.24 487.2v-5M907.24 53.8v5M845.15 432.04h5M1333 432.04h-5M924.98 487.2v-5M924.98 53.8v5M845.15 416.28h5M1333 416.28h-5M942.72 487.2v-5M942.72 53.8v5M845.15 400.52h5M1333 400.52h-5M960.46 487.2v-5M960.46 53.8v5M845.15 384.76h5M1333 384.76h-5M978.2 487.2v-9M978.2 53.8v9M845.15 369h9M1333 369h-9M995.94 487.2v-5M995.94 53.8v5M845.15 353.24h5M1333 353.24h-5M1013.68 487.2v-5M1013.68 53.8v5M845.15 337.48h5M1333 337.48h-5M1031.42 487.2v-5M1031.42 53.8v5M845.15 321.72h5M1333 321.72h-5M1049.16 487.2v-5M1049.16 53.8v5M845.15 305.96h5M1333 305.96h-5M1066.9 487.2v-9M1066.9 53.8v9M845.15 290.2h9M1333 290.2h-9M1084.64 487.2v-5M1084.64 53.8v5M845.15 274.44h5M1333 274.44h-5M1102.38 487.2v-5M1102.38 53.8v5M845.15 258.68h5M1333 258.68h-5M1120.12 487.2v-5M1120.12 53.8v5M845.15 242.92h5M1333 242.92h-5M1137.86 487.2v-5M1137.86 53.8v5M845.15 227.16h5M1333 227.16h-5M1155.6 487.2v-9M1155.6 53.8v9M845.15 211.4h9M1333 211.4h-9M1173.34 487.2v-5M1173.34 53.8v5M845.15 195.64h5M1333 195.64h-5M1191.08 487.2v-5M1191.08 53.8v5M845.15 179.88h5M1333 179.88h-5M1208.82 487.2v-5M1208.82 53.8v5M845.15 164.12h5M1333 164.12h-5M1226.56 487.2v-5M1226.56 53.8v5M845.15 148.36h5M1333 148.36h-5M1244.3 487.2v-9M1244.3 53.8v9M845.15 132.6h9M1333 132.6h-9M1262.04 487.2v-5M1262.04 53.8v5M845.15 116.84h5M1333 116.84h-5M1279.78 487.2v-5M1279.78 53.8v5M845.15 101.08h5M1333 101.08h-5M1297.52 487.2v-5M1297.52 53.8v5M845.15 85.32h5M1333 85.32h-5M1315.26 487.2v-5M1315.26 53.8v5M845.15 69.56h5M1333 69.56h-5" stroke="#000" stroke-width="2" fill="none"/>
<rect x="845.15" y="53.8" width="487.85" height="433.4" stroke="#000" stroke-width="2.2" fill="none"/>
<text x="889.5" y="513.5" text-anchor="middle" class="t">0</text>
<text x="840.3" y="451.2" text-anchor="end" class="t">0</text>
<text x="978.2" y="513.5" text-anchor="middle" class="t">50</text>
<text x="840.3" y="372.4" text-anchor="end" class="t">50</text>
<text x="1066.9" y="513.5" text-anchor="middle" class="t">100</text>
<text x="840.3" y="293.6" text-anchor="end" class="t">100</text>
<text x="1155.6" y="513.5" text-anchor="middle" class="t">150</text>
<text x="840.3" y="214.8" text-anchor="end" class="t">150</text>
<text x="1244.3" y="513.5" text-anchor="middle" class="t">200</text>
<text x="840.3" y="136" text-anchor="end" class="t">200</text>
<text x="1333" y="513.5" text-anchor="middle" class="t">250</text>
<text x="840.3" y="57.2" text-anchor="end" class="t">250</text>
<text x="1089.08" y="557.5" text-anchor="middle" class="l">Cyclin A/Cdk2</text>
<text transform="translate(771.8 270.5) rotate(-90)" text-anchor="middle" class="l">Cyclin B/Cdk1</text>
<text x="739.6" y="25.8" class="p">B</text>
<text x="1295" y="34.2" class="fa">B</text>
<text x="1089" y="107.3" text-anchor="middle" class="ti">1 PF on G1/S</text>
<path d="M111.02 1089.2v-5M111.02 655.8v5M102.15 1081.32h5M590 1081.32h-5M128.76 1089.2v-5M128.76 655.8v5M102.15 1065.56h5M590 1065.56h-5M146.5 1089.2v-9M146.5 655.8v9M102.15 1049.8h9M590 1049.8h-9M164.24 1089.2v-5M164.24 655.8v5M102.15 1034.04h5M590 1034.04h-5M181.98 1089.2v-5M181.98 655.8v5M102.15 1018.28h5M590 1018.28h-5M199.72 1089.2v-5M199.72 655.8v5M102.15 1002.52h5M590 1002.52h-5M217.46 1089.2v-5M217.46 655.8v5M102.15 986.76h5M590 986.76h-5M235.2 1089.2v-9M235.2 655.8v9M102.15 971h9M590 971h-9M252.94 1089.2v-5M252.94 655.8v5M102.15 955.24h5M590 955.24h-5M270.68 1089.2v-5M270.68 655.8v5M102.15 939.48h5M590 939.48h-5M288.42 1089.2v-5M288.42 655.8v5M102.15 923.72h5M590 923.72h-5M306.16 1089.2v-5M306.16 655.8v5M102.15 907.96h5M590 907.96h-5M323.9 1089.2v-9M323.9 655.8v9M102.15 892.2h9M590 892.2h-9M341.64 1089.2v-5M341.64 655.8v5M102.15 876.44h5M590 876.44h-5M359.38 1089.2v-5M359.38 655.8v5M102.15 860.68h5M590 860.68h-5M377.12 1089.2v-5M377.12 655.8v5M102.15 844.92h5M590 844.92h-5M394.86 1089.2v-5M394.86 655.8v5M102.15 829.16h5M590 829.16h-5M412.6 1089.2v-9M412.6 655.8v9M102.15 813.4h9M590 813.4h-9M430.34 1089.2v-5M430.34 655.8v5M102.15 797.64h5M590 797.64h-5M448.08 1089.2v-5M448.08 655.8v5M102.15 781.88h5M590 781.88h-5M465.82 1089.2v-5M465.82 655.8v5M102.15 766.12h5M590 766.12h-5M483.56 1089.2v-5M483.56 655.8v5M102.15 750.36h5M590 750.36h-5M501.3 1089.2v-9M501.3 655.8v9M102.15 734.6h9M590 734.6h-9M519.04 1089.2v-5M519.04 655.8v5M102.15 718.84h5M590 718.84h-5M536.78 1089.2v-5M536.78 655.8v5M102.15 703.08h5M590 703.08h-5M554.52 1089.2v-5M554.52 655.8v5M102.15 687.32h5M590 687.32h-5M572.26 1089.2v-5M572.26 655.8v5M102.15 671.56h5M590 671.56h-5" stroke="#000" stroke-width="2" fill="none"/>
<rect x="102.15" y="655.8" width="487.85" height="433.4" stroke="#000" stroke-width="2.2" fill="none"/>
<text x="146.5" y="1116.5" text-anchor="middle" class="t">0</text>
<text x="97.3" y="1053.2" text-anchor="end" class="t">0</text>
<text x="235.2" y="1116.5" text-anchor="middle" class="t">50</text>
<text x="97.3" y="974.4" text-anchor="end" class="t">50</text>
<text x="323.9" y="1116.5" text-anchor="middle" class="t">100</text>
<text x="97.3" y="895.6" text-anchor="end" class="t">100</text>
<text x="412.6" y="1116.5" text-anchor="middle" class="t">150</text>
<text x="97.3" y="816.8" text-anchor="end" class="t">150</text>
<text x="501.3" y="1116.5" text-anchor="middle" class="t">200</text>
<text x="97.3" y="738" text-anchor="end" class="t">200</text>
<text x="590" y="1116.5" text-anchor="middle" class="t">250</text>
<text x="97.3" y="659.2" text-anchor="end" class="t">250</text>
<text x="346.07" y="1159.5" text-anchor="middle" class="l">Cyclin A/Cdk2</text>
<text transform="translate(28.8 872.5) rotate(-90)" text-anchor="middle" class="l">Cyclin B/Cdk1</text>
<text x="7.8" y="624.5" class="p">C</text>
<text x="554" y="635.4" class="fa">C</text>
<text x="338" y="704.2" text-anchor="middle" class="ti">1 PF on G2/M</text>
<path d="M854.02 1089.2v-5M854.02 655.8v5M845.15 1081.32h5M1333 1081.32h-5M871.76 1089.2v-5M871.76 655.8v5M845.15 1065.56h5M1333 1065.56h-5M889.5 1089.2v-9M889.5 655.8v9M845.15 1049.8h9M1333 1049.8h-9M907.24 1089.2v-5M907.24 655.8v5M845.15 1034.04h5M1333 1034.04h-5M924.98 1089.2v-5M924.98 655.8v5M845.15 1018.28h5M1333 1018.28h-5M942.72 1089.2v-5M942.72 655.8v5M845.15 1002.52h5M1333 1002.52h-5M960.46 1089.2v-5M960.46 655.8v5M845.15 986.76h5M1333 986.76h-5M978.2 1089.2v-9M978.2 655.8v9M845.15 971h9M1333 971h-9M995.94 1089.2v-5M995.94 655.8v5M845.15 955.24h5M1333 955.24h-5M1013.68 1089.2v-5M1013.68 655.8v5M845.15 939.48h5M1333 939.48h-5M1031.42 1089.2v-5M1031.42 655.8v5M845.15 923.72h5M1333 923.72h-5M1049.16 1089.2v-5M1049.16 655.8v5M845.15 907.96h5M1333 907.96h-5M1066.9 1089.2v-9M1066.9 655.8v9M845.15 892.2h9M1333 892.2h-9M1084.64 1089.2v-5M1084.64 655.8v5M845.15 876.44h5M1333 876.44h-5M1102.38 1089.2v-5M1102.38 655.8v5M845.15 860.68h5M1333 860.68h-5M1120.12 1089.2v-5M1120.12 655.8v5M845.15 844.92h5M1333 844.92h-5M1137.86 1089.2v-5M1137.86 655.8v5M845.15 829.16h5M1333 829.16h-5M1155.6 1089.2v-9M1155.6 655.8v9M845.15 813.4h9M1333 813.4h-9M1173.34 1089.2v-5M1173.34 655.8v5M845.15 797.64h5M1333 797.64h-5M1191.08 1089.2v-5M1191.08 655.8v5M845.15 781.88h5M1333 781.88h-5M1208.82 1089.2v-5M1208.82 655.8v5M845.15 766.12h5M1333 766.12h-5M1226.56 1089.2v-5M1226.56 655.8v5M845.15 750.36h5M1333 750.36h-5M1244.3 1089.2v-9M1244.3 655.8v9M845.15 734.6h9M1333 734.6h-9M1262.04 1089.2v-5M1262.04 655.8v5M845.15 718.84h5M1333 718.84h-5M1279.78 1089.2v-5M1279.78 655.8v5M845.15 703.08h5M1333 703.08h-5M1297.52 1089.2v-5M1297.52 655.8v5M845.15 687.32h5M1333 687.32h-5M1315.26 1089.2v-5M1315.26 655.8v5M845.15 671.56h5M1333 671.56h-5" stroke="#000" stroke-width="2" fill="none"/>
<rect x="845.15" y="655.8" width="487.85" height="433.4" stroke="#000" stroke-width="2.2" fill="none"/>
<text x="889.5" y="1116.5" text-anchor="middle" class="t">0</text>
<text x="840.3" y="1053.2" text-anchor="end" class="t">0</text>
<text x="978.2" y="1116.5" text-anchor="middle" class="t">50</text>
<text x="840.3" y="974.4" text-anchor="end" class="t">50</text>
<text x="1066.9" y="1116.5" text-anchor="middle" class="t">100</text>
<text x="840.3" y="895.6" text-anchor="end" class="t">100</text>
<text x="1155.6" y="1116.5" text-anchor="middle" class="t">150</text>
<text x="840.3" y="816.8" text-anchor="end" class="t">150</text>
<text x="1244.3" y="1116.5" text-anchor="middle" class="t">200</text>
<text x="840.3" y="738" text-anchor="end" class="t">200</text>
<text x="1333" y="1116.5" text-anchor="middle" class="t">250</text>
<text x="840.3" y="659.2" text-anchor="end" class="t">250</text>
<text x="1089.08" y="1159.5" text-anchor="middle" class="l">Cyclin A/Cdk2</text>
<text transform="translate(771.8 872.5) rotate(-90)" text-anchor="middle" class="l">Cyclin B/Cdk1</text>
<text x="739.6" y="624.5" class="p">D</text>
<text x="1295" y="635.4" class="fa">D</text>
<text x="1090.5" y="692.3" text-anchor="middle" class="ti">1 PF on G1/S</text>
<text x="1089.2" y="719.6" text-anchor="middle" class="ti">&amp; 1 PF on G2/M</text>
<path d="M111.02 1711.8v-5M111.02 1278.4v5M102.15 1703.92h5M590 1703.92h-5M128.76 1711.8v-5M128.76 1278.4v5M102.15 1688.16h5M590 1688.16h-5M146.5 1711.8v-9M146.5 1278.4v9M102.15 1672.4h9M590 1672.4h-9M164.24 1711.8v-5M164.24 1278.4v5M102.15 1656.64h5M590 1656.64h-5M181.98 1711.8v-5M181.98 1278.4v5M102.15 1640.88h5M590 1640.88h-5M199.72 1711.8v-5M199.72 1278.4v5M102.15 1625.12h5M590 1625.12h-5M217.46 1711.8v-5M217.46 1278.4v5M102.15 1609.36h5M590 1609.36h-5M235.2 1711.8v-9M235.2 1278.4v9M102.15 1593.6h9M590 1593.6h-9M252.94 1711.8v-5M252.94 1278.4v5M102.15 1577.84h5M590 1577.84h-5M270.68 1711.8v-5M270.68 1278.4v5M102.15 1562.08h5M590 1562.08h-5M288.42 1711.8v-5M288.42 1278.4v5M102.15 1546.32h5M590 1546.32h-5M306.16 1711.8v-5M306.16 1278.4v5M102.15 1530.56h5M590 1530.56h-5M323.9 1711.8v-9M323.9 1278.4v9M102.15 1514.8h9M590 1514.8h-9M341.64 1711.8v-5M341.64 1278.4v5M102.15 1499.04h5M590 1499.04h-5M359.38 1711.8v-5M359.38 1278.4v5M102.15 1483.28h5M590 1483.28h-5M377.12 1711.8v-5M377.12 1278.4v5M102.15 1467.52h5M590 1467.52h-5M394.86 1711.8v-5M394.86 1278.4v5M102.15 1451.76h5M590 1451.76h-5M412.6 1711.8v-9M412.6 1278.4v9M102.15 1436h9M590 1436h-9M430.34 1711.8v-5M430.34 1278.4v5M102.15 1420.24h5M590 1420.24h-5M448.08 1711.8v-5M448.08 1278.4v5M102.15 1404.48h5M590 1404.48h-5M465.82 1711.8v-5M465.82 1278.4v5M102.15 1388.72h5M590 1388.72h-5M483.56 1711.8v-5M483.56 1278.4v5M102.15 1372.96h5M590 1372.96h-5M501.3 1711.8v-9M501.3 1278.4v9M102.15 1357.2h9M590 1357.2h-9M519.04 1711.8v-5M519.04 1278.4v5M102.15 1341.44h5M590 1341.44h-5M536.78 1711.8v-5M536.78 1278.4v5M102.15 1325.68h5M590 1325.68h-5M554.52 1711.8v-5M554.52 1278.4v5M102.15 1309.92h5M590 1309.92h-5M572.26 1711.8v-5M572.26 1278.4v5M102.15 1294.16h5M590 1294.16h-5" stroke="#000" stroke-width="2" fill="none"/>
<rect x="102.15" y="1278.4" width="487.85" height="433.4" stroke="#000" stroke-width="2.2" fill="none"/>
<text x="146.5" y="1740.1" text-anchor="middle" class="t">0</text>
<text x="97.3" y="1675.8" text-anchor="end" class="t">0</text>
<text x="235.2" y="1740.1" text-anchor="middle" class="t">50</text>
<text x="97.3" y="1597" text-anchor="end" class="t">50</text>
<text x="323.9" y="1740.1" text-anchor="middle" class="t">100</text>
<text x="97.3" y="1518.2" text-anchor="end" class="t">100</text>
<text x="412.6" y="1740.1" text-anchor="middle" class="t">150</text>
<text x="97.3" y="1439.4" text-anchor="end" class="t">150</text>
<text x="501.3" y="1740.1" text-anchor="middle" class="t">200</text>
<text x="97.3" y="1360.6" text-anchor="end" class="t">200</text>
<text x="590" y="1740.1" text-anchor="middle" class="t">250</text>
<text x="97.3" y="1281.8" text-anchor="end" class="t">250</text>
<text x="344.57" y="1783.1" text-anchor="middle" class="l">Cyclin A/Cdk2</text>
<text transform="translate(28.8 1495.1) rotate(-90)" text-anchor="middle" class="l">Cyclin B/Cdk1</text>
<text x="7.8" y="1244.9" class="p">E</text>
<text x="554" y="1258" class="fa">E</text>
<text x="338" y="1327.1" text-anchor="middle" class="ti">2 PF on G2/M</text>
<path d="M854.02 1711.8v-5M854.02 1278.4v5M845.15 1703.92h5M1333 1703.92h-5M871.76 1711.8v-5M871.76 1278.4v5M845.15 1688.16h5M1333 1688.16h-5M889.5 1711.8v-9M889.5 1278.4v9M845.15 1672.4h9M1333 1672.4h-9M907.24 1711.8v-5M907.24 1278.4v5M845.15 1656.64h5M1333 1656.64h-5M924.98 1711.8v-5M924.98 1278.4v5M845.15 1640.88h5M1333 1640.88h-5M942.72 1711.8v-5M942.72 1278.4v5M845.15 1625.12h5M1333 1625.12h-5M960.46 1711.8v-5M960.46 1278.4v5M845.15 1609.36h5M1333 1609.36h-5M978.2 1711.8v-9M978.2 1278.4v9M845.15 1593.6h9M1333 1593.6h-9M995.94 1711.8v-5M995.94 1278.4v5M845.15 1577.84h5M1333 1577.84h-5M1013.68 1711.8v-5M1013.68 1278.4v5M845.15 1562.08h5M1333 1562.08h-5M1031.42 1711.8v-5M1031.42 1278.4v5M845.15 1546.32h5M1333 1546.32h-5M1049.16 1711.8v-5M1049.16 1278.4v5M845.15 1530.56h5M1333 1530.56h-5M1066.9 1711.8v-9M1066.9 1278.4v9M845.15 1514.8h9M1333 1514.8h-9M1084.64 1711.8v-5M1084.64 1278.4v5M845.15 1499.04h5M1333 1499.04h-5M1102.38 1711.8v-5M1102.38 1278.4v5M845.15 1483.28h5M1333 1483.28h-5M1120.12 1711.8v-5M1120.12 1278.4v5M845.15 1467.52h5M1333 1467.52h-5M1137.86 1711.8v-5M1137.86 1278.4v5M845.15 1451.76h5M1333 1451.76h-5M1155.6 1711.8v-9M1155.6 1278.4v9M845.15 1436h9M1333 1436h-9M1173.34 1711.8v-5M1173.34 1278.4v5M845.15 1420.24h5M1333 1420.24h-5M1191.08 1711.8v-5M1191.08 1278.4v5M845.15 1404.48h5M1333 1404.48h-5M1208.82 1711.8v-5M1208.82 1278.4v5M845.15 1388.72h5M1333 1388.72h-5M1226.56 1711.8v-5M1226.56 1278.4v5M845.15 1372.96h5M1333 1372.96h-5M1244.3 1711.8v-9M1244.3 1278.4v9M845.15 1357.2h9M1333 1357.2h-9M1262.04 1711.8v-5M1262.04 1278.4v5M845.15 1341.44h5M1333 1341.44h-5M1279.78 1711.8v-5M1279.78 1278.4v5M845.15 1325.68h5M1333 1325.68h-5M1297.52 1711.8v-5M1297.52 1278.4v5M845.15 1309.92h5M1333 1309.92h-5M1315.26 1711.8v-5M1315.26 1278.4v5M845.15 1294.16h5M1333 1294.16h-5" stroke="#000" stroke-width="2" fill="none"/>
<rect x="845.15" y="1278.4" width="487.85" height="433.4" stroke="#000" stroke-width="2.2" fill="none"/>
<text x="889.5" y="1740.1" text-anchor="middle" class="t">0</text>
<text x="840.3" y="1675.8" text-anchor="end" class="t">0</text>
<text x="978.2" y="1740.1" text-anchor="middle" class="t">50</text>
<text x="840.3" y="1597" text-anchor="end" class="t">50</text>
<text x="1066.9" y="1740.1" text-anchor="middle" class="t">100</text>
<text x="840.3" y="1518.2" text-anchor="end" class="t">100</text>
<text x="1155.6" y="1740.1" text-anchor="middle" class="t">150</text>
<text x="840.3" y="1439.4" text-anchor="end" class="t">150</text>
<text x="1244.3" y="1740.1" text-anchor="middle" class="t">200</text>
<text x="840.3" y="1360.6" text-anchor="end" class="t">200</text>
<text x="1333" y="1740.1" text-anchor="middle" class="t">250</text>
<text x="840.3" y="1281.8" text-anchor="end" class="t">250</text>
<text x="1087.58" y="1783.1" text-anchor="middle" class="l">Cyclin A/Cdk2</text>
<text transform="translate(771.8 1495.1) rotate(-90)" text-anchor="middle" class="l">Cyclin B/Cdk1</text>
<text x="739.6" y="1244.9" class="p">F</text>
<text x="1296" y="1259" class="fa">F</text>
<text x="1090.5" y="1315" text-anchor="middle" class="ti">1 PF on G1/S</text>
<text x="1089.2" y="1342.4" text-anchor="middle" class="ti">&amp; 2 PF on G2/M</text>
</svg></body></html>
